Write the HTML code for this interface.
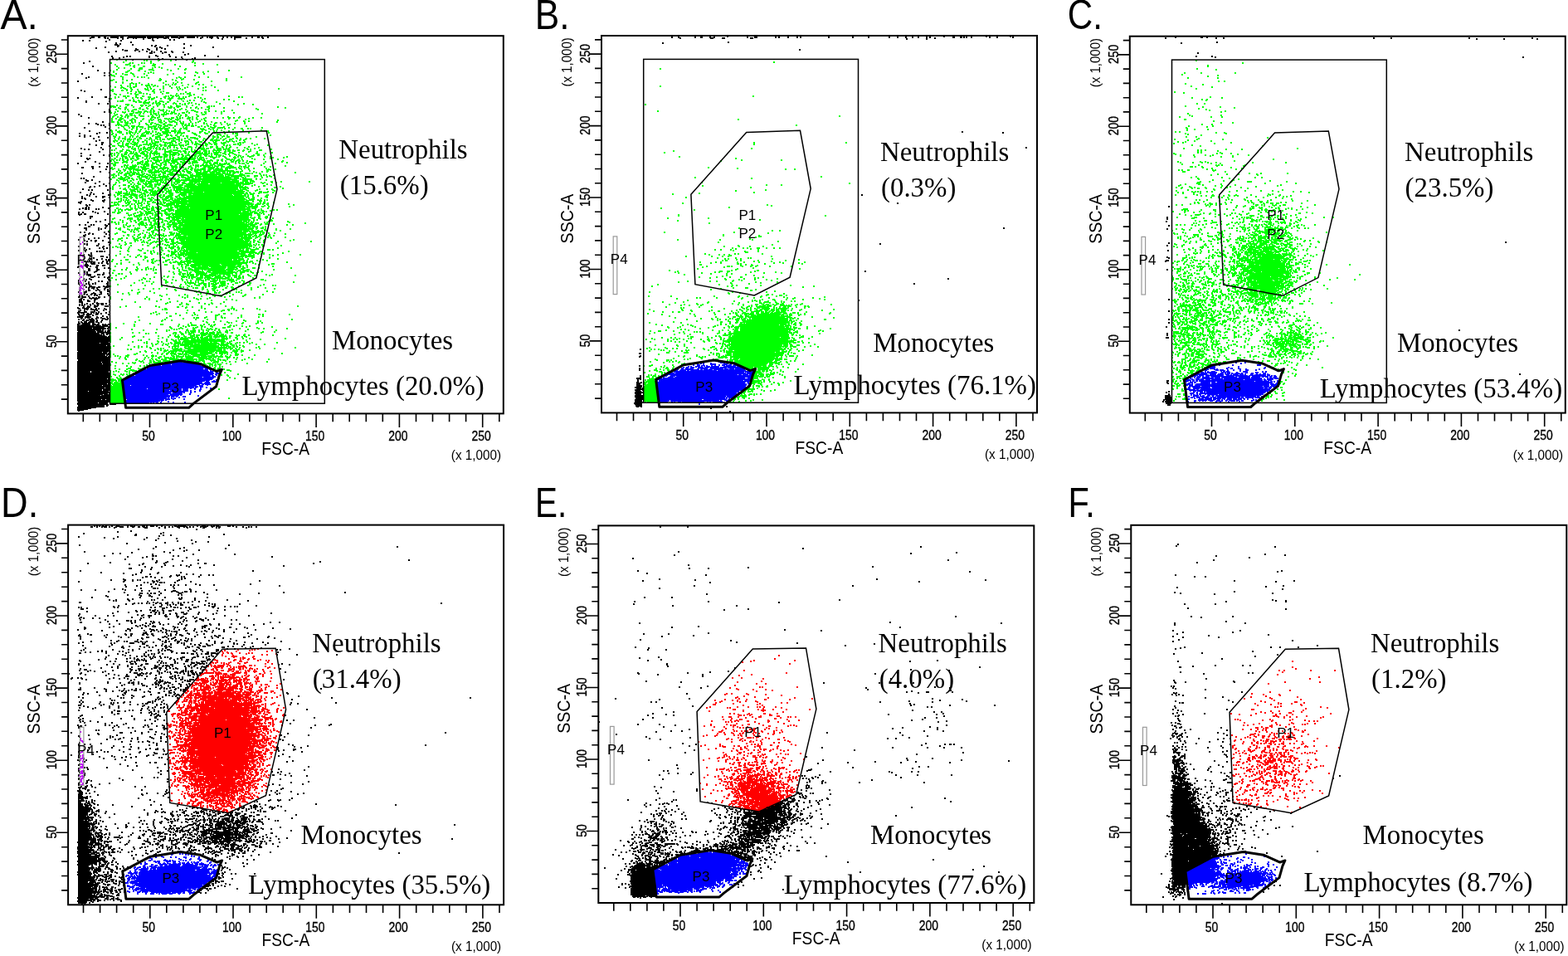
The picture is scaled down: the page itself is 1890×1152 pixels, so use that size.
<!DOCTYPE html><html><head><meta charset="utf-8"><title>Flow cytometry</title><style>html,body{margin:0;padding:0;background:#fff}svg{display:block}</style></head><body>
<svg width="1890" height="1152" viewBox="0 0 1890 1152">
<rect width="1890" height="1152" fill="#fff"/>
<g id="panelA">
<g fill="none">
<path stroke="#000" stroke-width="1" d="M133 44.5h10m11 0h22m1 0h21m8 0h9m10 0h10m47 0h9m-158 1h10m10 0h23m1 0h27m2 0h16m3 0h10m47 0h9m-184 300h8m9 0h8m-25 14h13m-21 12h8m2 2h9m-25 3h12m-1 2h7m-18 3h8m1 0h8m-17 1h7m2 0h8m13 2h8m-27 1h10m-7 2h7m-8 1h8m-16 1h11m-10 1h10m-12 1h12m2 0h9m3 0h9m-39 1h21m1 0h7m1 0h7m-37 1h40m-40 1h33m-33 1h18m1 0h16m-35 1h35m-35 1h29m-29 1h22m1 0h9m-31 1h22m1 0h8m-32 1h23m1 0h16m-40 1h27m-27 1h27m-27 1h30m-30 1h34m-34 1h36m-36 1h40m-40 1h40m-40 1h40m-40 1h40m-40 1h40m-40 1h40m-40 1h38m-38 1h27m1 0h11m-39 1h40m-40 1h40m-40 1h35m-35 1h39m-39 1h40m-40 1h40m-40 1h40m-40 1h40m-40 1h40m-39 1h39m-40 1h30m-30 1h36m-36 1h40m-40 1h34m-34 1h34m-34 1h36m-36 1h40m-40 1h40m-40 1h40m-39 1h39m-39 1h38m-39 1h40m-40 1h29m1 0h10m-40 1h39m-39 1h30m1 0h9m-40 1h40m-40 1h40m-40 1h40m-40 1h40m-40 1h40m-40 1h40m-40 1h39m-39 1h39m-39 1h16m1 0h21m-38 1h16m1 0h21m-38 1h39m-39 1h40m-40 1h40m-40 1h39m-39 1h39m-39 1h40m-40 1h40m-40 1h36m-36 1h39m-39 1h40m-40 1h40m-40 1h40m-40 1h39m-39 1h36m-36 1h40m-40 1h30m1 0h9m-40 1h40m-40 1h40m-40 1h33m-33 1h40m-40 1h30m1 0h9m-40 1h30m1 0h9m-40 1h13m1 0h24m-38 1h40m-40 1h40m-40 1h37m-37 1h31m1 0h8m-40 1h28m1 0h11m-40 1h40m-40 1h40m-40 1h39m-39 1h39m-39 1h29m-29 1h40m-40 1h40m-39 1h39m-40 1h25m1 0h11m-37 1h37m2 0h8m-47 1h38m1 0h8m-46 1h32m-32 1h32m-33 1h33m-33 1h23m-23 1h17m-17 1h13m-13 1h8"/>
<path stroke="#000" stroke-linecap="square" stroke-width="2" d="M111 45h0m2 0h0m6 0h0m1 0h0m6 0h0m1 0h0m19 0h0m1 0h0m1 0h0m52 0h0m1 0h0m2 0h0m14 0h0m2 0h0m1 0h0m1 0h0m17 0h0m6 0h0m6 0h0m3 0h0m1 0h0m2 0h0m6 0h0m7 0h0m5 0h0m5 0h0m25 0h0m7 0h0m1 0h0m4 0h0m7 0h0m-214 1h0m18 0h0m3 0h0m12 0h0m12 0h0m7 0h0m3 0h0m15 0h0m2 0h0m3 0h0m6 0h0m8 0h0m2 0h0m3 0h0m13 0h0m26 0h0m13 0h0m8 0h0m34 0h0m20 0h0m-169 1h0m25 0h0m95 0h0m15 0h0m-151 1h0m52 0h0m21 0h0m5 0h0m-110 1h0m8 0h0m38 0h0m39 0h0m-57 1h0m30 1h0m-18 1h0m5 1h0m77 0h0m-83 1h0m2 0h0m19 0h0m-17 1h0m40 0h0m5 0h0m14 0h0m28 0h0m-88 1h0m45 0h0m-60 1h0m66 0h0m64 0h0m-141 1h0m73 0h0m6 0h0m27 0h0m-58 1h0m14 0h0m21 0h0m-51 1h0m16 0h0m2 0h0m6 0h0m8 0h0m9 0h0m-38 1h0m2 0h0m10 0h0m-23 1h0m28 0h0m9 0h0m6 0h0m11 0h0m13 0h0m-76 1h0m55 0h0m13 0h0m1 0h0m8 0h0m13 0h0m-40 1h0m2 0h0m13 0h0m31 1h0m-23 1h0m19 0h0m-35 1h0m59 0h0m-112 1h0m18 0h0m4 0h0m23 0h0m10 0h0m15 0h0m58 0h0m-114 1h0m31 0h0m32 0h0m7 0h0m-83 1h0m8 0h0m91 0h0m-44 1h0m5 0h0m24 0h0m12 0h0m-72 1h0m32 0h0m20 0h0m13 0h0m-117 2h0m-7 2h0m11 4h0m6 5h0m8 3h0m6 0h0m-33 1h0m27 2h0m6 0h0m-25 2h0m-3 1h0m-10 4h0m28 10h0m-24 1h0m4 1h0m9 7h0m16 0h0m1 0h0m-34 1h0m38 1h0m-28 3h0m28 0h0m-28 1h0m15 2h0m11 0h0m2 7h0m0 2h0m-6 1h0m6 0h0m-37 3h0m3 2h0m9 2h0m17 5h0m-17 2h0m9 0h0m16 0h0m-14 1h0m4 1h0m3 0h0m7 0h0m-5 2h0m-25 1h0m30 1h0m-24 3h0m12 2h0m9 0h0m-33 1h0m21 0h0m-15 2h0m-6 1h0m13 0h0m-7 1h0m17 0h0m11 1h0m-17 1h0m7 2h0m-4 1h0m7 2h0m1 0h0m-16 2h0m15 0h0m-7 1h0m16 1h0m-10 2h0m-24 1h0m4 1h0m5 0h0m17 0h0m-4 3h0m-22 2h0m11 2h0m16 0h0m7 0h0m-34 1h0m34 0h0m-27 3h0m3 0h0m-2 1h0m-3 3h0m12 0h0m-21 2h0m26 0h0m10 0h0m-19 4h0m1 0h0m8 0h0m9 0h0m-30 1h0m1 0h0m12 1h0m16 1h0m-7 3h0m11 1h0m-33 1h0m14 4h0m19 1h0m-34 1h0m3 0h0m3 2h0m7 0h0m-6 1h0m1 0h0m14 1h0m-17 1h0m12 1h0m17 0h0m-7 1h0m372 0h0m-377 2h0m8 0h0m-19 1h0m5 0h0m-6 1h0m-8 2h0m7 1h0m4 0h0m19 0h0m-33 3h0m13 0h0m14 1h0m-15 1h0m4 0h0m-8 1h0m26 0h0m-23 1h0m-9 1h0m17 0h0m8 0h0m2 0h0m-2 1h0m8 0h0m-33 1h0m3 0h0m1 1h0m7 1h0m16 0h0m-14 1h0m12 0h0m-26 1h0m27 0h0m-30 1h0m2 0h0m0 1h0m7 2h0m4 0h0m-3 1h0m-1 2h0m3 0h0m17 0h0m-24 1h0m3 0h0m28 0h0m1 0h0m-36 1h0m7 0h0m1 0h0m3 0h0m9 0h0m3 0h0m-7 3h0m14 0h0m-31 1h0m5 0h0m15 0h0m3 1h0m-23 1h0m3 0h0m4 0h0m1 0h0m27 0h0m-34 1h0m13 2h0m1 0h0m1 0h0m-2 2h0m18 2h0m-11 2h0m5 0h0m-15 1h0m25 2h0m-35 1h0m7 0h0m7 0h0m3 0h0m14 0h0m2 1h0m-22 1h0m1 0h0m20 0h0m-26 2h0m2 0h0m15 0h0m8 0h0m-5 1h0m-18 1h0m15 0h0m12 2h0m-34 1h0m5 0h0m24 0h0m6 0h0m-24 1h0m-1 1h0m5 0h0m16 0h0m-25 1h0m29 0h0m-31 1h0m1 1h0m24 0h0m-12 2h0m5 0h0m12 0h0m1 0h0m-31 1h0m6 0h0m-12 1h0m7 1h0m8 0h0m5 0h0m1 0h0m8 0h0m-19 1h0m10 0h0m16 1h0m-29 2h0m3 0h0m14 0h0m-14 1h0m27 0h0m-15 1h0m1 0h0m-23 1h0m30 0h0m-1 1h0m-23 1h0m1 0h0m18 0h0m9 0h0m-21 1h0m17 0h0m-24 1h0m3 0h0m-9 1h0m8 0h0m0 1h0m14 0h0m3 0h0m1 0h0m2 0h0m3 0h0m-16 2h0m0 1h0m-9 1h0m6 0h0m25 0h0m-24 1h0m14 1h0m2 0h0m5 1h0m-16 1h0m-4 1h0m14 0h0m-6 1h0m11 0h0m3 0h0m-23 1h0m23 0h0m-29 1h0m1 0h0m21 0h0m5 0h0m-25 1h0m10 0h0m-4 1h0m3 0h0m6 0h0m4 0h0m6 0h0m-25 1h0m8 0h0m2 0h0m16 0h0m-27 1h0m2 0h0m-3 1h0m4 0h0m11 0h0m1 0h0m6 0h0m2 0h0m-31 1h0m9 0h0m5 0h0m-15 1h0m11 0h0m11 0h0m1 0h0m9 1h0m5 0h0m-24 1h0m1 0h0m9 0h0m2 1h0m-12 1h0m1 0h0m9 0h0m-15 1h0m14 0h0m-11 1h0m9 0h0m-19 1h0m7 0h0m3 0h0m20 0h0m7 0h0m-30 1h0m23 0h0m-24 1h0m4 0h0m2 0h0m2 0h0m9 0h0m2 0h0m4 0h0m-17 1h0m2 0h0m5 1h0m-4 1h0m2 0h0m7 0h0m7 0h0m5 0h0m-1 1h0m-29 1h0m7 0h0m-7 1h0m3 0h0m6 0h0m21 0h0m-36 1h0m37 0h0m-29 1h0m16 0h0m4 0h0m-28 1h0m12 0h0m23 0h0m-15 1h0m15 0h0m-35 1h0m9 0h0m3 0h0m5 0h0m3 0h0m14 0h0m-33 1h0m12 0h0m22 0h0m-28 1h0m6 0h0m2 1h0m15 0h0m4 0h0m2 0h0m-27 1h0m4 0h0m3 0h0m2 0h0m1 0h0m5 0h0m1 0h0m7 0h0m2 0h0m1 0h0m-23 1h0m4 0h0m2 0h0m4 0h0m10 0h0m-14 1h0m13 0h0m-19 1h0m11 0h0m8 0h0m4 0h0m-34 1h0m11 0h0m1 0h0m8 0h0m4 0h0m-16 1h0m26 0h0m2 0h0m-37 1h0m7 0h0m2 0h0m17 0h0m1 0h0m-9 1h0m-11 1h0m9 0h0m4 0h0m7 0h0m8 0h0m-34 1h0m5 0h0m4 0h0m5 0h0m4 0h0m1 0h0m5 0h0m-21 1h0m15 0h0m3 0h0m14 0h0m-35 1h0m11 0h0m-12 1h0m1 0h0m3 0h0m1 0h0m2 0h0m1 0h0m16 0h0m1 0h0m6 0h0m-27 1h0m9 0h0m4 0h0m1 0h0m3 0h0m3 0h0m-21 1h0m12 0h0m5 0h0m1 0h0m1 0h0m-21 1h0m5 0h0m13 0h0m1 0h0m-19 1h0m2 0h0m8 0h0m26 0h0m-26 1h0m2 0h0m6 0h0m-18 1h0m2 0h0m1 0h0m15 0h0m18 0h0m-33 1h0m18 0h0m-18 1h0m6 0h0m7 0h0m5 0h0m1 0h0m1 0h0m3 0h0m2 0h0m4 0h0m-32 1h0m6 0h0m7 0h0m14 0h0m1 0h0m8 0h0m-36 1h0m3 0h0m10 0h0m5 0h0m4 0h0m-17 1h0m5 0h0m9 0h0m2 0h0m10 0h0m1 0h0m2 0h0m-24 1h0m2 0h0m6 0h0m1 0h0m-21 1h0m6 0h0m1 0h0m4 0h0m-10 1h0m1 0h0m7 0h0m3 0h0m4 0h0m6 0h0m3 0h0m7 0h0m-24 1h0m3 0h0m5 0h0m2 0h0m3 0h0m13 0h0m-31 1h0m17 0h0m3 0h0m8 0h0m-30 1h0m7 0h0m12 0h0m-19 1h0m1 0h0m6 0h0m2 0h0m6 0h0m2 0h0m7 0h0m13 0h0m-38 1h0m4 0h0m2 0h0m1 0h0m12 0h0m3 0h0m12 0h0m-33 1h0m11 0h0m4 0h0m8 0h0m4 0h0m-27 1h0m6 0h0m4 0h0m2 0h0m2 0h0m7 0h0m1 0h0m14 0h0m-35 1h0m3 0h0m6 0h0m7 0h0m-14 1h0m2 0h0m5 0h0m1 0h0m1 0h0m17 0h0m-7 1h0m12 0h0m-30 1h0m4 0h0m3 0h0m1 0h0m11 0h0m4 0h0m-24 1h0m13 0h0m5 0h0m8 0h0m2 0h0m4 0h0m-35 1h0m6 0h0m7 0h0m2 0h0m1 0h0m1 0h0m16 0h0m1 0h0m-29 1h0m1 0h0m4 0h0m1 0h0m5 0h0m2 0h0m4 0h0m6 0h0m-19 1h0m5 0h0m-14 1h0m3 0h0m4 0h0m14 0h0m1 0h0m5 0h0m-27 1h0m4 0h0m3 0h0m2 0h0m15 0h0m-23 1h0m16 0h0m1 0h0m6 0h0m-25 1h0m1 0h0m17 0h0m1 0h0m1 0h0m1 0h0m3 0h0m6 0h0m3 0h0m4 0h0m-36 1h0m36 2h0m1 0h0m-1 1h0m-1 1h0m-6 1h0m0 1h0m7 0h0m-4 1h0m3 0h0m-3 1h0m4 0h0m-9 1h0m1 0h0m2 0h0m3 0h0m2 0h0m1 0h0m1 0h0m-9 1h0m2 0h0m5 0h0m1 0h0m-2 1h0m-4 1h0m7 1h0m-1 1h0m1 0h0m-1 10h0m1 0h0m-2 1h0m-4 7h0m1 0h0m2 0h0m-4 1h0m7 0h0m-1 1h0m1 0h0m-3 1h0m1 0h0m-1 1h0m3 0h0m0 1h0m-1 1h0m1 0h0m-1 27h0m0 5h0m1 1h0m-4 4h0m1 0h0m2 0h0m1 0h0m-4 1h0m2 0h0m2 0h0m0 6h0m0 1h0m-8 6h0m1 0h0m1 0h0m4 0h0m1 0h0m-7 1h0m2 0h0m3 0h0m2 0h0m1 0h0m5 4h0m-7 2h0m-1 1h0m-34 6h0"/>
<path stroke="#00ff00" stroke-width="1" d="M179 84.5h7m16 34h7m5 0h9m-51 5h9m-9 1h8m7 0h7m-62 4h8m51 4h7m-35 3h8m23 2h10m-10 1h7m-34 1h7m24 4h10m3 0h7m-39 1h7m17 2h9m-73 4h8m41 0h7m6 0h7m-59 1h7m66 0h7m-65 1h9m5 0h11m7 0h7m50 1h7m2 0h9m-79 1h13m57 0h7m-27 2h7m-43 1h7m-18 1h9m2 0h7m-40 1h8m14 0h11m-10 1h7m10 0h10m-27 1h7m-34 2h7m-7 1h7m11 1h7m35 0h7m-32 1h8m17 0h10m-38 1h16m41 1h7m-12 1h12m-82 3h8m7 0h11m57 0h7m-116 1h9m13 0h9m46 0h8m-83 1h7m6 0h11m21 0h10m1 0h7m17 0h7m-104 1h7m35 0h7m11 0h12m24 3h9m13 0h7m-95 1h7m59 0h9m22 0h8m-102 1h7m60 0h7m-41 1h10m38 0h11m-96 1h7m20 0h10m22 0h12m-44 1h17m16 0h11m15 0h10m-87 1h13m15 0h8m20 0h9m12 0h7m-81 1h10m11 0h9m22 0h18m-57 1h7m1 0h9m45 0h9m-104 1h7m60 0h7m-91 1h7m10 0h7m17 0h9m102 0h8m-122 1h12m57 0h9m-80 1h9m23 0h22m-25 1h25m-52 1h8m15 0h28m3 0h9m26 0h10m-98 1h10m2 0h8m1 0h8m35 0h8m-60 1h7m2 0h8m7 0h8m2 0h7m-91 1h7m11 0h8m34 0h8m2 0h10m4 0h8m6 0h9m-51 1h8m20 0h8m-74 1h7m1 0h7m84 0h13m-107 1h10m82 0h10m-31 1h16m5 0h7m-113 1h9m7 0h8m2 0h8m16 0h8m31 0h9m20 0h8m-126 1h8m5 0h7m6 0h8m16 0h8m36 0h9m13 0h13m8 0h7m-149 1h12m7 0h10m12 0h12m46 0h9m12 0h14m-131 1h13m4 0h9m10 0h10m41 0h7m3 0h7m1 0h10m-109 1h10m34 0h9m21 0h14m9 0h12m-106 1h9m36 0h9m17 0h9m14 0h25m-97 1h11m1 0h9m1 0h11m27 0h9m1 0h7m1 0h9m1 0h10m-104 1h14m9 0h7m26 0h8m1 0h7m1 0h14m14 0h8m-137 1h17m11 0h10m47 0h14m45 0h7m-152 1h7m45 0h13m21 0h42m17 0h7m-147 1h8m1 0h10m27 0h25m10 0h33m2 0h11m6 0h7m-81 1h13m2 0h13m1 0h19m1 0h7m4 0h22m-126 1h9m12 0h13m25 0h41m8 0h14m-142 1h7m13 0h9m1 0h24m22 0h7m2 0h8m1 0h44m-146 1h10m30 0h9m4 0h7m2 0h8m7 0h15m10 0h35m-137 1h9m48 0h13m19 0h57m4 0h12m-160 1h10m14 0h7m6 0h16m12 0h8m1 0h68m6 0h12m-136 1h7m10 0h12m14 0h31m1 0h35m1 0h9m4 0h7m-123 1h15m20 0h7m10 0h60m4 0h7m-121 1h8m23 0h8m11 0h13m1 0h46m-93 1h7m40 0h24m1 0h27m1 0h10m-133 1h11m3 0h8m25 0h17m1 0h14m2 0h30m1 0h21m-119 1h8m30 0h11m2 0h54m1 0h9m-79 1h15m1 0h53m-116 1h9m23 0h12m3 0h71m-116 1h7m24 0h13m1 0h65m1 0h11m-105 1h9m5 0h15m2 0h62m1 0h12m-110 1h13m9 0h8m1 0h7m1 0h58m-131 1h11m45 0h76m1 0h9m-109 1h7m13 0h76m1 0h7m-136 1h7m17 0h17m2 0h7m14 0h74m-114 1h9m10 0h7m4 0h21m1 0h12m1 0h49m22 0h7m-185 1h8m36 0h7m27 0h77m-146 1h9m26 0h7m26 0h9m2 0h72m-149 1h16m15 0h9m25 0h10m7 0h48m1 0h11m-144 1h7m2 0h9m15 0h7m14 0h7m9 0h7m2 0h54m1 0h15m-97 1h8m16 0h73m-98 1h9m13 0h73m-82 1h83m-100 1h8m10 0h83m-110 1h7m17 0h15m2 0h71m2 0h7m-111 1h9m2 0h10m1 0h77m1 0h10m-106 1h7m1 0h92m-95 1h96m-99 1h24m1 0h77m-116 1h8m4 0h11m1 0h94m-169 1h7m56 0h11m7 0h88m1 0h7m-181 1h8m54 0h13m1 0h15m1 0h72m-100 1h7m6 0h88m1 0h12m-140 1h7m32 0h101m-140 1h7m38 0h12m1 0h67m7 0h7m-122 1h7m5 0h8m5 0h89m-152 1h10m38 0h12m3 0h89m-100 1h8m1 0h85m-85 1h80m1 0h11m-128 1h7m4 0h7m18 0h80m1 0h8m1 0h9m-135 1h10m26 0h94m-130 1h10m13 0h106m2 0h7m-114 1h7m1 0h81m1 0h15m-140 1h8m39 0h93m-143 1h10m37 0h92m-98 1h98m-119 1h7m18 0h12m1 0h81m1 0h7m-155 1h7m52 0h10m1 0h77m-93 1h9m2 0h84m-97 1h97m-83 1h73m-88 1h7m2 0h88m-87 1h81m-129 1h8m11 0h8m14 0h14m1 0h76m-132 1h8m11 0h8m8 0h13m2 0h94m-140 1h8m2 0h7m28 0h85m1 0h7m-93 1h93m-100 1h10m2 0h82m2 0h7m-99 1h86m1 0h7m-144 1h7m43 0h94m-97 1h96m-121 1h9m23 0h85m-88 1h79m1 0h9m1 0h14m-102 1h84m1 0h19m-104 1h82m7 0h8m-94 1h79m-85 1h94m-117 1h9m5 0h7m1 0h7m3 0h83m-110 1h7m10 0h14m1 0h67m-79 1h89m-91 1h77m1 0h14m-92 1h92m-88 1h77m1 0h8m-86 1h7m1 0h70m-77 1h86m-120 1h8m27 0h82m-93 1h92m-94 1h7m2 0h89m-85 1h85m-105 1h7m15 0h84m-85 1h85m-85 1h80m-96 1h7m8 0h83m-77 1h71m1 0h7m-79 1h67m10 0h11m-95 1h77m-74 1h7m1 0h58m2 0h12m-94 1h8m6 0h88m-84 1h13m1 0h51m1 0h20m-93 1h79m-90 1h7m1 0h82m-82 1h8m1 0h65m2 0h8m1 0h8m-81 1h81m-82 1h69m1 0h12m-84 1h67m-67 1h71m-66 1h52m7 0h7m-62 1h48m1 0h14m-74 1h69m-82 1h7m2 0h73m-77 1h10m9 0h67m-65 1h64m-84 1h7m9 0h35m1 0h26m-63 1h37m1 0h18m-56 1h13m1 0h41m-54 1h7m1 0h13m1 0h21m1 0h17m-60 1h21m2 0h19m1 0h12m-52 1h38m2 0h9m-49 1h37m1 0h15m-68 1h7m1 0h13m10 0h32m10 0h9m-70 1h11m7 0h24m1 0h7m11 0h8m-66 1h12m10 0h28m5 0h7m-61 1h12m4 0h35m-50 1h14m4 0h27m-56 1h9m2 0h13m3 0h11m1 0h14m-37 1h20m-36 1h9m12 0h21m-49 1h8m4 0h8m9 0h7m5 0h8m-30 1h8m1 0h9m3 0h11m-33 1h9m4 0h28m-41 1h7m31 0h8m-46 1h10m10 0h7m10 0h9m-29 1h9m14 0h7m-30 1h8m3 0h8m-47 1h9m31 0h7m-46 1h10m3 0h10m16 0h7m-18 1h8m-28 1h7m23 0h8m-8 1h8m-17 1h7m-32 46h7m-7 1h7m12 4h8m-28 2h7m-7 1h7m16 1h7m-32 1h7m7 0h10m1 0h7m-18 1h18m-17 1h8m6 0h14m-6 1h9m-63 1h7m31 0h8m1 0h17m-48 1h7m24 0h8m-48 1h19m5 0h10m16 0h8m-58 1h10m15 0h18m6 0h9m-60 1h13m2 0h41m-50 1h50m-51 1h31m1 0h20m-62 1h8m1 0h33m-42 1h8m4 0h15m1 0h26m9 0h7m-71 1h24m1 0h7m1 0h23m1 0h10m-59 1h44m2 0h12m-66 1h7m1 0h11m1 0h35m1 0h11m-69 1h9m6 0h42m8 0h7m-53 1h48m-52 1h8m3 0h48m-74 1h13m3 0h38m-53 1h12m6 0h42m-63 1h15m1 0h47m12 0h7m-84 1h11m1 0h36m1 0h7m1 0h14m6 0h7m-64 1h35m6 0h11m-70 1h7m11 0h15m3 0h15m8 0h11m-70 1h8m1 0h12m1 0h32m-38 1h7m2 0h21m-19 1h17m1 0h9m-47 1h10m1 0h18m1 0h27m-57 1h9m2 0h11m3 0h13m-52 1h13m13 0h9m6 0h19m-55 1h13m1 0h21m1 0h15m-60 1h7m3 0h34m1 0h7m5 0h9m-64 1h9m3 0h16m1 0h9m5 0h8m6 0h7m-64 1h9m1 0h10m9 0h17m15 0h7m-80 1h13m6 0h9m13 0h15m16 0h8m-79 1h12m33 0h10m1 1h8m1 0h7m-77 1h7m-7 1h7m-21 4h9m-20 2h10m-6 1h11m-38 10h8m2 0h8m-18 1h9m-4 3h12m-17 1h17m-14 1h14m-13 1h12m-16 1h17m-17 1h17m-17 1h17m-17 1h17m-17 1h18m-18 1h18m-18 1h18m-18 1h18m-18 1h18m-18 1h18m-18 1h19m-19 1h19m-19 1h18m-18 1h19m-19 1h19m-19 1h19m-19 1h19m-19 1h19m-19 1h18m-18 1h18m-18 1h18"/>
<path stroke="#00ff00" stroke-linecap="square" stroke-width="2" d="M141 72h0m92 0h0m-81 1h0m22 0h0m3 0h0m14 0h0m15 0h0m-24 1h0m51 0h0m-84 1h0m83 0h0m-98 1h0m23 0h0m3 0h0m11 0h0m3 0h0m8 0h0m53 0h0m-79 1h0m29 0h0m11 0h0m49 0h0m-106 1h0m13 0h0m2 0h0m13 0h0m20 0h0m24 0h0m51 0h0m-105 1h0m5 0h0m22 0h0m2 0h0m49 0h0m-94 1h0m20 0h0m12 0h0m1 0h0m43 0h0m-55 1h0m25 0h0m5 0h0m-49 1h0m7 0h0m19 0h0m2 0h0m13 0h0m11 0h0m-37 1h0m10 0h0m1 0h0m2 0h0m13 0h0m31 0h0m9 0h0m-83 1h0m39 0h0m2 0h0m1 0h0m19 0h0m21 0h0m-90 1h0m23 0h0m11 0h0m1 0h0m17 0h0m21 0h0m70 0h0m-139 1h0m17 0h0m21 0h0m76 0h0m-114 1h0m15 0h0m1 0h0m29 0h0m54 0h0m9 0h0m18 0h0m-105 1h0m21 0h0m6 0h0m38 0h0m15 0h0m-98 1h0m8 0h0m12 0h0m14 0h0m35 0h0m37 0h0m-112 1h0m17 0h0m2 0h0m8 0h0m41 0h0m-67 1h0m2 0h0m40 0h0m58 0h0m-97 1h0m8 0h0m16 0h0m-14 1h0m18 0h0m5 0h0m3 0h0m42 0h0m7 0h0m17 0h0m11 0h0m40 0h0m-112 1h0m34 0h0m5 0h0m-70 1h0m45 0h0m28 0h0m52 0h0m-136 1h0m11 0h0m11 0h0m34 0h0m1 0h0m14 0h0m11 0h0m15 0h0m-100 1h0m1 0h0m18 0h0m39 0h0m1 0h0m19 0h0m61 0h0m-73 1h0m55 0h0m-115 1h0m8 0h0m66 0h0m25 0h0m-91 1h0m11 0h0m9 0h0m29 0h0m12 0h0m10 0h0m18 0h0m-80 1h0m4 0h0m3 0h0m15 0h0m33 0h0m24 0h0m-72 1h0m7 0h0m12 0h0m17 0h0m3 0h0m5 0h0m3 0h0m16 0h0m13 0h0m5 0h0m-99 1h0m11 0h0m19 0h0m2 0h0m2 0h0m7 0h0m33 0h0m35 0h0m-122 1h0m21 0h0m10 0h0m13 0h0m8 0h0m5 0h0m7 0h0m8 0h0m27 0h0m-93 1h0m8 0h0m10 0h0m4 0h0m1 0h0m19 0h0m16 0h0m16 0h0m3 0h0m10 0h0m22 0h0m11 0h0m-113 1h0m3 0h0m9 0h0m20 0h0m29 0h0m16 0h0m22 0h0m-94 1h0m7 0h0m17 0h0m7 0h0m15 0h0m17 0h0m3 0h0m22 0h0m97 0h0m-200 1h0m17 0h0m6 0h0m7 0h0m10 0h0m2 0h0m8 0h0m7 0h0m27 0h0m-86 1h0m13 0h0m1 0h0m5 0h0m26 0h0m6 0h0m30 0h0m30 0h0m3 0h0m15 0h0m-127 1h0m22 0h0m9 0h0m17 0h0m13 0h0m-33 1h0m5 0h0m17 0h0m8 0h0m30 0h0m-70 1h0m14 0h0m2 0h0m16 0h0m15 0h0m2 0h0m26 0h0m-91 1h0m20 0h0m5 0h0m10 0h0m4 0h0m19 0h0m17 0h0m5 0h0m3 0h0m5 0h0m2 0h0m-88 1h0m5 0h0m19 0h0m1 0h0m1 0h0m15 0h0m48 0h0m5 0h0m10 0h0m-111 1h0m31 0h0m42 0h0m6 0h0m3 0h0m15 0h0m-81 1h0m2 0h0m3 0h0m1 0h0m9 0h0m8 0h0m1 0h0m27 0h0m3 0h0m5 0h0m1 0h0m4 0h0m15 0h0m48 0h0m-137 1h0m4 0h0m21 0h0m15 0h0m2 0h0m8 0h0m9 0h0m18 0h0m5 0h0m3 0h0m15 0h0m49 0h0m4 0h0m-153 1h0m13 0h0m8 0h0m6 0h0m4 0h0m16 0h0m13 0h0m5 0h0m3 0h0m1 0h0m13 0h0m14 0h0m7 0h0m-108 1h0m37 0h0m9 0h0m3 0h0m2 0h0m9 0h0m9 0h0m2 0h0m1 0h0m9 0h0m2 0h0m2 0h0m3 0h0m25 0h0m-86 1h0m18 0h0m4 0h0m36 0h0m25 0h0m26 0h0m6 0h0m-128 1h0m8 0h0m1 0h0m4 0h0m6 0h0m9 0h0m29 0h0m24 0h0m5 0h0m-92 1h0m3 0h0m1 0h0m2 0h0m13 0h0m1 0h0m6 0h0m7 0h0m13 0h0m5 0h0m2 0h0m19 0h0m7 0h0m5 0h0m17 0h0m39 0h0m-118 1h0m4 0h0m2 0h0m4 0h0m6 0h0m17 0h0m5 0h0m1 0h0m43 0h0m15 0h0m-76 1h0m3 0h0m3 0h0m1 0h0m18 0h0m18 0h0m3 0h0m17 0h0m-74 1h0m5 0h0m5 0h0m5 0h0m4 0h0m7 0h0m9 0h0m3 0h0m5 0h0m6 0h0m4 0h0m9 0h0m29 0h0m29 0h0m-142 1h0m1 0h0m2 0h0m34 0h0m3 0h0m5 0h0m23 0h0m3 0h0m17 0h0m47 0h0m18 0h0m-164 1h0m13 0h0m5 0h0m11 0h0m2 0h0m4 0h0m5 0h0m9 0h0m8 0h0m15 0h0m19 0h0m-99 1h0m2 0h0m2 0h0m8 0h0m26 0h0m8 0h0m11 0h0m16 0h0m7 0h0m2 0h0m2 0h0m8 0h0m27 0h0m3 0h0m3 0h0m-124 1h0m3 0h0m1 0h0m1 0h0m13 0h0m9 0h0m24 0h0m13 0h0m5 0h0m4 0h0m7 0h0m1 0h0m10 0h0m12 0h0m13 0h0m2 0h0m83 0h0m-192 1h0m8 0h0m1 0h0m17 0h0m8 0h0m27 0h0m2 0h0m4 0h0m20 0h0m6 0h0m7 0h0m27 0h0m74 0h0m-199 1h0m23 0h0m1 0h0m9 0h0m5 0h0m1 0h0m35 0h0m20 0h0m13 0h0m57 0h0m-169 1h0m11 0h0m3 0h0m8 0h0m2 0h0m8 0h0m1 0h0m19 0h0m5 0h0m14 0h0m6 0h0m7 0h0m24 0h0m3 0h0m60 0h0m-151 1h0m22 0h0m3 0h0m9 0h0m2 0h0m5 0h0m13 0h0m17 0h0m2 0h0m47 0h0m-147 1h0m9 0h0m13 0h0m4 0h0m8 0h0m8 0h0m1 0h0m10 0h0m11 0h0m7 0h0m6 0h0m16 0h0m9 0h0m17 0h0m8 0h0m10 0h0m-131 1h0m9 0h0m3 0h0m10 0h0m7 0h0m2 0h0m4 0h0m4 0h0m3 0h0m1 0h0m3 0h0m6 0h0m9 0h0m7 0h0m3 0h0m15 0h0m12 0h0m1 0h0m9 0h0m1 0h0m19 0h0m-133 1h0m16 0h0m11 0h0m3 0h0m2 0h0m16 0h0m3 0h0m13 0h0m10 0h0m12 0h0m2 0h0m6 0h0m15 0h0m39 0h0m-144 1h0m19 0h0m2 0h0m10 0h0m4 0h0m13 0h0m2 0h0m3 0h0m10 0h0m1 0h0m1 0h0m3 0h0m1 0h0m4 0h0m1 0h0m4 0h0m32 0h0m19 0h0m49 0h0m-175 1h0m12 0h0m4 0h0m11 0h0m14 0h0m6 0h0m36 0h0m13 0h0m7 0h0m2 0h0m-107 1h0m7 0h0m6 0h0m6 0h0m1 0h0m3 0h0m6 0h0m16 0h0m5 0h0m3 0h0m23 0h0m3 0h0m7 0h0m-88 1h0m10 0h0m7 0h0m1 0h0m8 0h0m7 0h0m1 0h0m2 0h0m6 0h0m18 0h0m27 0h0m14 0h0m1 0h0m-103 1h0m6 0h0m9 0h0m12 0h0m20 0h0m2 0h0m7 0h0m21 0h0m4 0h0m10 0h0m5 0h0m43 0h0m14 0h0m-144 1h0m1 0h0m8 0h0m11 0h0m18 0h0m4 0h0m3 0h0m17 0h0m2 0h0m5 0h0m6 0h0m9 0h0m8 0h0m11 0h0m10 0h0m4 0h0m7 0h0m8 0h0m5 0h0m6 0h0m17 0h0m10 0h0m-180 1h0m5 0h0m8 0h0m12 0h0m13 0h0m9 0h0m17 0h0m2 0h0m3 0h0m3 0h0m10 0h0m9 0h0m2 0h0m4 0h0m5 0h0m9 0h0m30 0h0m24 0h0m-156 1h0m2 0h0m13 0h0m3 0h0m10 0h0m10 0h0m3 0h0m6 0h0m2 0h0m10 0h0m3 0h0m6 0h0m1 0h0m2 0h0m17 0h0m6 0h0m5 0h0m53 0h0m-161 1h0m8 0h0m2 0h0m5 0h0m7 0h0m1 0h0m1 0h0m4 0h0m17 0h0m3 0h0m8 0h0m3 0h0m20 0h0m15 0h0m18 0h0m39 0h0m49 0h0m-200 1h0m16 0h0m8 0h0m11 0h0m24 0h0m4 0h0m6 0h0m4 0h0m2 0h0m7 0h0m24 0h0m7 0h0m36 0h0m10 0h0m6 0h0m-165 1h0m2 0h0m5 0h0m4 0h0m1 0h0m7 0h0m5 0h0m4 0h0m17 0h0m12 0h0m1 0h0m12 0h0m2 0h0m4 0h0m10 0h0m9 0h0m9 0h0m16 0h0m16 0h0m24 0h0m39 0h0m-192 1h0m1 0h0m8 0h0m2 0h0m7 0h0m8 0h0m15 0h0m1 0h0m10 0h0m1 0h0m5 0h0m13 0h0m5 0h0m18 0h0m10 0h0m14 0h0m1 0h0m5 0h0m-112 1h0m3 0h0m19 0h0m6 0h0m5 0h0m11 0h0m21 0h0m2 0h0m7 0h0m4 0h0m14 0h0m3 0h0m10 0h0m15 0h0m9 0h0m12 0h0m-153 1h0m2 0h0m8 0h0m1 0h0m15 0h0m9 0h0m5 0h0m7 0h0m2 0h0m6 0h0m7 0h0m1 0h0m8 0h0m11 0h0m8 0h0m22 0h0m13 0h0m10 0h0m-137 1h0m3 0h0m3 0h0m4 0h0m2 0h0m1 0h0m26 0h0m13 0h0m2 0h0m5 0h0m3 0h0m3 0h0m2 0h0m13 0h0m3 0h0m4 0h0m1 0h0m8 0h0m14 0h0m8 0h0m17 0h0m-128 1h0m8 0h0m4 0h0m1 0h0m2 0h0m5 0h0m18 0h0m2 0h0m1 0h0m6 0h0m6 0h0m2 0h0m9 0h0m14 0h0m6 0h0m2 0h0m10 0h0m8 0h0m9 0h0m37 0h0m-148 1h0m11 0h0m5 0h0m4 0h0m2 0h0m1 0h0m7 0h0m2 0h0m2 0h0m3 0h0m5 0h0m6 0h0m1 0h0m23 0h0m4 0h0m14 0h0m1 0h0m7 0h0m7 0h0m5 0h0m11 0h0m-127 1h0m13 0h0m4 0h0m1 0h0m11 0h0m7 0h0m8 0h0m6 0h0m4 0h0m7 0h0m5 0h0m15 0h0m32 0h0m2 0h0m18 0h0m7 0h0m33 0h0m-166 1h0m15 0h0m10 0h0m8 0h0m3 0h0m1 0h0m2 0h0m4 0h0m1 0h0m2 0h0m3 0h0m1 0h0m1 0h0m1 0h0m16 0h0m4 0h0m1 0h0m2 0h0m17 0h0m3 0h0m7 0h0m19 0h0m20 0h0m1 0h0m7 0h0m3 0h0m-151 1h0m8 0h0m6 0h0m5 0h0m9 0h0m8 0h0m2 0h0m5 0h0m5 0h0m12 0h0m6 0h0m8 0h0m18 0h0m1 0h0m2 0h0m8 0h0m3 0h0m5 0h0m19 0h0m-147 1h0m6 0h0m13 0h0m41 0h0m6 0h0m2 0h0m1 0h0m45 0h0m19 0h0m26 0h0m22 0h0m-180 1h0m9 0h0m12 0h0m8 0h0m5 0h0m7 0h0m8 0h0m16 0h0m1 0h0m14 0h0m2 0h0m10 0h0m1 0h0m16 0h0m14 0h0m3 0h0m15 0h0m47 0h0m-188 1h0m7 0h0m4 0h0m12 0h0m6 0h0m4 0h0m8 0h0m2 0h0m1 0h0m1 0h0m4 0h0m4 0h0m53 0h0m1 0h0m10 0h0m18 0h0m-126 1h0m2 0h0m7 0h0m3 0h0m4 0h0m3 0h0m11 0h0m3 0h0m14 0h0m14 0h0m6 0h0m3 0h0m1 0h0m1 0h0m2 0h0m3 0h0m1 0h0m10 0h0m9 0h0m6 0h0m12 0h0m22 0h0m19 0h0m24 0h0m-188 1h0m17 0h0m4 0h0m9 0h0m6 0h0m5 0h0m2 0h0m3 0h0m8 0h0m3 0h0m21 0h0m5 0h0m15 0h0m1 0h0m13 0h0m1 0h0m1 0h0m21 0h0m10 0h0m3 0h0m2 0h0m-151 1h0m5 0h0m8 0h0m14 0h0m9 0h0m17 0h0m2 0h0m45 0h0m1 0h0m26 0h0m1 0h0m2 0h0m-125 1h0m18 0h0m15 0h0m2 0h0m10 0h0m8 0h0m2 0h0m6 0h0m2 0h0m3 0h0m6 0h0m1 0h0m5 0h0m19 0h0m29 0h0m8 0h0m12 0h0m40 0h0m-189 1h0m23 0h0m6 0h0m18 0h0m7 0h0m1 0h0m9 0h0m6 0h0m14 0h0m4 0h0m1 0h0m14 0h0m12 0h0m5 0h0m5 0h0m8 0h0m14 0h0m-146 1h0m1 0h0m5 0h0m7 0h0m6 0h0m3 0h0m5 0h0m23 0h0m2 0h0m2 0h0m8 0h0m14 0h0m2 0h0m25 0h0m18 0h0m4 0h0m5 0h0m6 0h0m2 0h0m33 0h0m-165 1h0m24 0h0m1 0h0m12 0h0m8 0h0m4 0h0m16 0h0m2 0h0m15 0h0m31 0h0m5 0h0m1 0h0m22 0h0m-147 1h0m5 0h0m5 0h0m1 0h0m2 0h0m5 0h0m7 0h0m6 0h0m1 0h0m7 0h0m5 0h0m6 0h0m14 0h0m14 0h0m7 0h0m12 0h0m2 0h0m1 0h0m8 0h0m11 0h0m9 0h0m6 0h0m9 0h0m5 0h0m4 0h0m7 0h0m5 0h0m17 0h0m-176 1h0m8 0h0m3 0h0m2 0h0m2 0h0m3 0h0m5 0h0m14 0h0m10 0h0m3 0h0m3 0h0m2 0h0m5 0h0m1 0h0m5 0h0m4 0h0m2 0h0m1 0h0m3 0h0m9 0h0m10 0h0m10 0h0m7 0h0m6 0h0m9 0h0m7 0h0m2 0h0m11 0h0m6 0h0m-157 1h0m18 0h0m4 0h0m5 0h0m1 0h0m8 0h0m8 0h0m3 0h0m23 0h0m10 0h0m11 0h0m15 0h0m9 0h0m2 0h0m13 0h0m20 0h0m5 0h0m-157 1h0m4 0h0m5 0h0m3 0h0m5 0h0m7 0h0m6 0h0m10 0h0m17 0h0m13 0h0m2 0h0m1 0h0m1 0h0m5 0h0m7 0h0m2 0h0m1 0h0m14 0h0m17 0h0m3 0h0m1 0h0m12 0h0m4 0h0m3 0h0m5 0h0m-147 1h0m18 0h0m4 0h0m1 0h0m11 0h0m1 0h0m10 0h0m4 0h0m2 0h0m2 0h0m6 0h0m30 0h0m4 0h0m5 0h0m5 0h0m2 0h0m17 0h0m15 0h0m7 0h0m13 0h0m-151 1h0m4 0h0m15 0h0m3 0h0m11 0h0m7 0h0m4 0h0m2 0h0m9 0h0m2 0h0m3 0h0m2 0h0m1 0h0m5 0h0m6 0h0m6 0h0m3 0h0m5 0h0m15 0h0m5 0h0m6 0h0m2 0h0m7 0h0m3 0h0m2 0h0m17 0h0m1 0h0m3 0h0m-151 1h0m6 0h0m5 0h0m2 0h0m3 0h0m4 0h0m3 0h0m16 0h0m18 0h0m3 0h0m6 0h0m8 0h0m16 0h0m4 0h0m2 0h0m10 0h0m5 0h0m6 0h0m2 0h0m7 0h0m2 0h0m17 0h0m17 0h0m-170 1h0m18 0h0m21 0h0m2 0h0m1 0h0m1 0h0m10 0h0m6 0h0m12 0h0m3 0h0m8 0h0m10 0h0m1 0h0m8 0h0m2 0h0m13 0h0m5 0h0m4 0h0m23 0h0m2 0h0m3 0h0m3 0h0m20 0h0m-167 1h0m5 0h0m4 0h0m2 0h0m8 0h0m7 0h0m1 0h0m9 0h0m7 0h0m2 0h0m2 0h0m5 0h0m3 0h0m2 0h0m17 0h0m2 0h0m2 0h0m3 0h0m18 0h0m1 0h0m2 0h0m3 0h0m13 0h0m9 0h0m4 0h0m3 0h0m12 0h0m18 0h0m16 0h0m-187 1h0m2 0h0m7 0h0m2 0h0m7 0h0m11 0h0m3 0h0m14 0h0m3 0h0m5 0h0m4 0h0m5 0h0m1 0h0m3 0h0m2 0h0m16 0h0m16 0h0m5 0h0m7 0h0m12 0h0m12 0h0m-127 1h0m3 0h0m6 0h0m2 0h0m3 0h0m7 0h0m7 0h0m8 0h0m1 0h0m3 0h0m19 0h0m5 0h0m8 0h0m9 0h0m1 0h0m2 0h0m15 0h0m9 0h0m2 0h0m6 0h0m6 0h0m5 0h0m5 0h0m22 0h0m-167 1h0m22 0h0m12 0h0m6 0h0m6 0h0m2 0h0m8 0h0m3 0h0m5 0h0m5 0h0m3 0h0m5 0h0m3 0h0m18 0h0m5 0h0m4 0h0m2 0h0m12 0h0m7 0h0m1 0h0m7 0h0m8 0h0m9 0h0m9 0h0m17 0h0m-172 1h0m19 0h0m3 0h0m1 0h0m4 0h0m3 0h0m5 0h0m3 0h0m4 0h0m3 0h0m3 0h0m1 0h0m4 0h0m4 0h0m5 0h0m12 0h0m5 0h0m1 0h0m3 0h0m3 0h0m23 0h0m1 0h0m1 0h0m13 0h0m2 0h0m7 0h0m3 0h0m22 0h0m9 0h0m-159 1h0m13 0h0m12 0h0m8 0h0m8 0h0m3 0h0m1 0h0m3 0h0m3 0h0m25 0h0m2 0h0m5 0h0m27 0h0m4 0h0m1 0h0m3 0h0m4 0h0m2 0h0m3 0h0m24 0h0m3 0h0m25 0h0m-192 1h0m3 0h0m15 0h0m1 0h0m1 0h0m8 0h0m5 0h0m1 0h0m1 0h0m9 0h0m1 0h0m19 0h0m7 0h0m3 0h0m2 0h0m2 0h0m22 0h0m11 0h0m2 0h0m11 0h0m3 0h0m3 0h0m1 0h0m6 0h0m3 0h0m2 0h0m4 0h0m6 0h0m1 0h0m6 0h0m19 0h0m2 0h0m-170 1h0m2 0h0m9 0h0m19 0h0m8 0h0m5 0h0m16 0h0m11 0h0m2 0h0m4 0h0m2 0h0m8 0h0m5 0h0m5 0h0m5 0h0m2 0h0m1 0h0m3 0h0m5 0h0m4 0h0m3 0h0m11 0h0m2 0h0m4 0h0m2 0h0m10 0h0m9 0h0m-157 1h0m7 0h0m6 0h0m3 0h0m7 0h0m4 0h0m1 0h0m4 0h0m5 0h0m5 0h0m2 0h0m29 0h0m6 0h0m4 0h0m21 0h0m12 0h0m3 0h0m7 0h0m1 0h0m28 0h0m10 0h0m-169 1h0m10 0h0m2 0h0m8 0h0m3 0h0m7 0h0m1 0h0m6 0h0m4 0h0m4 0h0m37 0h0m21 0h0m3 0h0m5 0h0m14 0h0m11 0h0m1 0h0m2 0h0m8 0h0m40 0h0m-195 1h0m2 0h0m3 0h0m5 0h0m14 0h0m2 0h0m5 0h0m1 0h0m5 0h0m1 0h0m3 0h0m7 0h0m18 0h0m6 0h0m10 0h0m9 0h0m3 0h0m22 0h0m3 0h0m3 0h0m5 0h0m2 0h0m7 0h0m2 0h0m10 0h0m28 0h0m1 0h0m10 0h0m-186 1h0m4 0h0m9 0h0m3 0h0m2 0h0m10 0h0m1 0h0m10 0h0m1 0h0m3 0h0m12 0h0m3 0h0m5 0h0m1 0h0m2 0h0m16 0h0m3 0h0m1 0h0m7 0h0m9 0h0m6 0h0m4 0h0m1 0h0m3 0h0m9 0h0m3 0h0m10 0h0m4 0h0m7 0h0m14 0h0m15 0h0m-174 1h0m4 0h0m13 0h0m9 0h0m2 0h0m10 0h0m1 0h0m4 0h0m5 0h0m6 0h0m8 0h0m2 0h0m3 0h0m5 0h0m5 0h0m11 0h0m2 0h0m5 0h0m1 0h0m7 0h0m1 0h0m5 0h0m2 0h0m6 0h0m6 0h0m3 0h0m2 0h0m19 0h0m3 0h0m18 0h0m5 0h0m1 0h0m6 0h0m-183 1h0m12 0h0m2 0h0m12 0h0m14 0h0m3 0h0m14 0h0m6 0h0m7 0h0m3 0h0m12 0h0m1 0h0m3 0h0m7 0h0m5 0h0m3 0h0m9 0h0m1 0h0m3 0h0m13 0h0m4 0h0m8 0h0m13 0h0m9 0h0m5 0h0m1 0h0m-164 1h0m7 0h0m3 0h0m1 0h0m4 0h0m4 0h0m6 0h0m11 0h0m4 0h0m18 0h0m2 0h0m4 0h0m15 0h0m9 0h0m3 0h0m3 0h0m7 0h0m12 0h0m1 0h0m1 0h0m5 0h0m3 0h0m7 0h0m12 0h0m4 0h0m6 0h0m8 0h0m1 0h0m17 0h0m7 0h0m20 0h0m-195 1h0m1 0h0m1 0h0m7 0h0m5 0h0m7 0h0m5 0h0m17 0h0m4 0h0m7 0h0m4 0h0m6 0h0m4 0h0m4 0h0m2 0h0m4 0h0m9 0h0m3 0h0m2 0h0m2 0h0m12 0h0m2 0h0m13 0h0m10 0h0m2 0h0m7 0h0m38 0h0m13 0h0m-204 1h0m1 0h0m6 0h0m3 0h0m4 0h0m6 0h0m2 0h0m1 0h0m6 0h0m10 0h0m3 0h0m3 0h0m3 0h0m4 0h0m18 0h0m35 0h0m6 0h0m9 0h0m15 0h0m10 0h0m21 0h0m22 0h0m-191 1h0m19 0h0m4 0h0m8 0h0m9 0h0m10 0h0m5 0h0m8 0h0m3 0h0m1 0h0m3 0h0m4 0h0m30 0h0m2 0h0m2 0h0m3 0h0m22 0h0m6 0h0m2 0h0m4 0h0m8 0h0m4 0h0m15 0h0m11 0h0m17 0h0m-198 1h0m4 0h0m3 0h0m4 0h0m1 0h0m5 0h0m9 0h0m1 0h0m14 0h0m16 0h0m7 0h0m2 0h0m1 0h0m17 0h0m1 0h0m12 0h0m6 0h0m4 0h0m1 0h0m1 0h0m8 0h0m1 0h0m7 0h0m1 0h0m4 0h0m11 0h0m1 0h0m3 0h0m5 0h0m-153 1h0m19 0h0m7 0h0m12 0h0m7 0h0m3 0h0m6 0h0m1 0h0m1 0h0m1 0h0m1 0h0m35 0h0m1 0h0m7 0h0m2 0h0m9 0h0m1 0h0m3 0h0m2 0h0m4 0h0m6 0h0m6 0h0m4 0h0m13 0h0m3 0h0m1 0h0m4 0h0m5 0h0m43 0h0m-203 1h0m11 0h0m2 0h0m19 0h0m6 0h0m2 0h0m11 0h0m3 0h0m6 0h0m1 0h0m4 0h0m15 0h0m1 0h0m32 0h0m2 0h0m9 0h0m17 0h0m1 0h0m1 0h0m3 0h0m17 0h0m1 0h0m2 0h0m16 0h0m20 0h0m-200 1h0m2 0h0m6 0h0m5 0h0m6 0h0m7 0h0m2 0h0m4 0h0m4 0h0m2 0h0m6 0h0m4 0h0m8 0h0m4 0h0m4 0h0m10 0h0m6 0h0m2 0h0m1 0h0m6 0h0m17 0h0m2 0h0m2 0h0m9 0h0m1 0h0m1 0h0m12 0h0m15 0h0m9 0h0m7 0h0m42 0h0m-211 1h0m4 0h0m28 0h0m2 0h0m6 0h0m11 0h0m8 0h0m6 0h0m6 0h0m4 0h0m5 0h0m5 0h0m1 0h0m2 0h0m5 0h0m1 0h0m3 0h0m17 0h0m4 0h0m1 0h0m4 0h0m2 0h0m2 0h0m3 0h0m6 0h0m1 0h0m1 0h0m3 0h0m8 0h0m5 0h0m3 0h0m2 0h0m5 0h0m19 0h0m14 0h0m-195 1h0m29 0h0m18 0h0m5 0h0m9 0h0m16 0h0m3 0h0m28 0h0m9 0h0m4 0h0m17 0h0m-138 1h0m2 0h0m11 0h0m1 0h0m3 0h0m6 0h0m3 0h0m10 0h0m10 0h0m1 0h0m7 0h0m3 0h0m5 0h0m1 0h0m6 0h0m6 0h0m8 0h0m13 0h0m3 0h0m2 0h0m1 0h0m5 0h0m4 0h0m2 0h0m5 0h0m1 0h0m21 0h0m19 0h0m19 0h0m-177 1h0m15 0h0m8 0h0m3 0h0m10 0h0m3 0h0m1 0h0m1 0h0m14 0h0m15 0h0m3 0h0m6 0h0m13 0h0m8 0h0m4 0h0m17 0h0m1 0h0m3 0h0m4 0h0m1 0h0m11 0h0m10 0h0m7 0h0m4 0h0m44 0h0m-197 1h0m3 0h0m3 0h0m14 0h0m3 0h0m28 0h0m19 0h0m2 0h0m9 0h0m1 0h0m7 0h0m3 0h0m9 0h0m8 0h0m6 0h0m5 0h0m2 0h0m1 0h0m21 0h0m3 0h0m1 0h0m1 0h0m23 0h0m7 0h0m-191 1h0m19 0h0m13 0h0m16 0h0m2 0h0m4 0h0m5 0h0m3 0h0m2 0h0m2 0h0m7 0h0m5 0h0m4 0h0m4 0h0m10 0h0m5 0h0m10 0h0m42 0h0m10 0h0m1 0h0m-165 1h0m4 0h0m14 0h0m32 0h0m2 0h0m17 0h0m5 0h0m1 0h0m3 0h0m12 0h0m3 0h0m5 0h0m12 0h0m1 0h0m1 0h0m1 0h0m14 0h0m2 0h0m4 0h0m5 0h0m5 0h0m12 0h0m1 0h0m5 0h0m11 0h0m15 0h0m-185 1h0m7 0h0m6 0h0m7 0h0m2 0h0m14 0h0m2 0h0m2 0h0m8 0h0m7 0h0m5 0h0m1 0h0m5 0h0m5 0h0m1 0h0m4 0h0m11 0h0m7 0h0m5 0h0m3 0h0m1 0h0m14 0h0m1 0h0m20 0h0m11 0h0m6 0h0m9 0h0m24 0h0m8 0h0m-189 1h0m8 0h0m10 0h0m14 0h0m6 0h0m2 0h0m4 0h0m10 0h0m5 0h0m3 0h0m1 0h0m10 0h0m5 0h0m4 0h0m6 0h0m15 0h0m1 0h0m4 0h0m1 0h0m1 0h0m19 0h0m1 0h0m49 0h0m4 0h0m-181 1h0m5 0h0m7 0h0m4 0h0m5 0h0m5 0h0m4 0h0m4 0h0m1 0h0m9 0h0m2 0h0m3 0h0m6 0h0m2 0h0m18 0h0m5 0h0m1 0h0m9 0h0m7 0h0m4 0h0m5 0h0m1 0h0m40 0h0m9 0h0m22 0h0m-182 1h0m13 0h0m3 0h0m1 0h0m14 0h0m9 0h0m2 0h0m12 0h0m3 0h0m1 0h0m18 0h0m5 0h0m6 0h0m1 0h0m7 0h0m2 0h0m4 0h0m26 0h0m2 0h0m1 0h0m3 0h0m11 0h0m2 0h0m3 0h0m16 0h0m10 0h0m6 0h0m-178 1h0m3 0h0m11 0h0m3 0h0m2 0h0m4 0h0m4 0h0m20 0h0m5 0h0m1 0h0m1 0h0m9 0h0m1 0h0m5 0h0m13 0h0m4 0h0m24 0h0m3 0h0m4 0h0m1 0h0m3 0h0m6 0h0m3 0h0m3 0h0m1 0h0m3 0h0m3 0h0m3 0h0m3 0h0m19 0h0m47 0h0m-213 1h0m3 0h0m14 0h0m5 0h0m1 0h0m8 0h0m9 0h0m3 0h0m11 0h0m2 0h0m6 0h0m1 0h0m1 0h0m1 0h0m10 0h0m10 0h0m1 0h0m27 0h0m2 0h0m5 0h0m2 0h0m4 0h0m1 0h0m7 0h0m5 0h0m8 0h0m14 0h0m9 0h0m-176 1h0m1 0h0m13 0h0m9 0h0m2 0h0m3 0h0m1 0h0m2 0h0m4 0h0m1 0h0m4 0h0m16 0h0m25 0h0m3 0h0m11 0h0m49 0h0m11 0h0m22 0h0m-179 1h0m8 0h0m7 0h0m2 0h0m4 0h0m1 0h0m2 0h0m9 0h0m2 0h0m1 0h0m8 0h0m2 0h0m3 0h0m2 0h0m2 0h0m3 0h0m1 0h0m5 0h0m5 0h0m4 0h0m2 0h0m22 0h0m42 0h0m46 0h0m3 0h0m9 0h0m-193 1h0m3 0h0m18 0h0m14 0h0m3 0h0m6 0h0m6 0h0m5 0h0m7 0h0m16 0h0m5 0h0m1 0h0m5 0h0m49 0h0m20 0h0m3 0h0m2 0h0m7 0h0m1 0h0m1 0h0m1 0h0m5 0h0m10 0h0m-179 1h0m6 0h0m1 0h0m1 0h0m12 0h0m2 0h0m13 0h0m2 0h0m4 0h0m32 0h0m2 0h0m6 0h0m45 0h0m1 0h0m1 0h0m2 0h0m15 0h0m16 0h0m15 0h0m5 0h0m-191 1h0m2 0h0m8 0h0m1 0h0m8 0h0m1 0h0m20 0h0m17 0h0m23 0h0m4 0h0m2 0h0m1 0h0m13 0h0m3 0h0m2 0h0m46 0h0m6 0h0m3 0h0m20 0h0m-161 1h0m1 0h0m3 0h0m9 0h0m1 0h0m1 0h0m7 0h0m3 0h0m16 0h0m28 0h0m2 0h0m1 0h0m1 0h0m13 0h0m1 0h0m41 0h0m1 0h0m1 0h0m2 0h0m7 0h0m15 0h0m22 0h0m-197 1h0m19 0h0m7 0h0m5 0h0m14 0h0m6 0h0m2 0h0m7 0h0m6 0h0m2 0h0m1 0h0m11 0h0m1 0h0m9 0h0m66 0h0m19 0h0m5 0h0m-173 1h0m8 0h0m2 0h0m10 0h0m21 0h0m1 0h0m16 0h0m4 0h0m3 0h0m1 0h0m96 0h0m18 0h0m-178 1h0m6 0h0m5 0h0m3 0h0m1 0h0m16 0h0m3 0h0m5 0h0m18 0h0m7 0h0m17 0h0m78 0h0m1 0h0m2 0h0m-138 1h0m3 0h0m2 0h0m16 0h0m1 0h0m1 0h0m4 0h0m3 0h0m10 0h0m15 0h0m74 0h0m1 0h0m5 0h0m3 0h0m1 0h0m21 0h0m1 0h0m11 0h0m34 0h0m-233 1h0m4 0h0m11 0h0m1 0h0m4 0h0m16 0h0m4 0h0m1 0h0m9 0h0m6 0h0m1 0h0m3 0h0m10 0h0m6 0h0m4 0h0m10 0h0m1 0h0m1 0h0m5 0h0m53 0h0m1 0h0m1 0h0m1 0h0m3 0h0m1 0h0m2 0h0m16 0h0m4 0h0m9 0h0m5 0h0m-167 1h0m1 0h0m6 0h0m6 0h0m2 0h0m1 0h0m8 0h0m3 0h0m6 0h0m1 0h0m1 0h0m6 0h0m3 0h0m4 0h0m6 0h0m1 0h0m2 0h0m5 0h0m4 0h0m3 0h0m5 0h0m77 0h0m-178 1h0m19 0h0m4 0h0m5 0h0m2 0h0m6 0h0m2 0h0m5 0h0m18 0h0m1 0h0m6 0h0m5 0h0m8 0h0m102 0h0m-185 1h0m12 0h0m2 0h0m30 0h0m2 0h0m8 0h0m1 0h0m9 0h0m1 0h0m1 0h0m4 0h0m2 0h0m7 0h0m1 0h0m1 0h0m2 0h0m73 0h0m14 0h0m20 0h0m-183 1h0m11 0h0m1 0h0m5 0h0m3 0h0m2 0h0m6 0h0m4 0h0m4 0h0m7 0h0m1 0h0m9 0h0m1 0h0m3 0h0m7 0h0m2 0h0m8 0h0m86 0h0m14 0h0m1 0h0m-183 1h0m23 0h0m1 0h0m27 0h0m109 0h0m16 0h0m26 0h0m-202 1h0m19 0h0m5 0h0m1 0h0m1 0h0m3 0h0m2 0h0m5 0h0m2 0h0m9 0h0m7 0h0m1 0h0m4 0h0m1 0h0m3 0h0m6 0h0m126 0h0m1 0h0m-199 1h0m12 0h0m6 0h0m21 0h0m13 0h0m25 0h0m83 0h0m6 0h0m42 0h0m-205 1h0m13 0h0m1 0h0m7 0h0m5 0h0m2 0h0m1 0h0m4 0h0m15 0h0m7 0h0m2 0h0m7 0h0m90 0h0m3 0h0m1 0h0m2 0h0m17 0h0m9 0h0m6 0h0m-176 1h0m6 0h0m1 0h0m2 0h0m5 0h0m3 0h0m3 0h0m4 0h0m4 0h0m2 0h0m1 0h0m8 0h0m8 0h0m1 0h0m3 0h0m3 0h0m4 0h0m87 0h0m13 0h0m19 0h0m-171 1h0m2 0h0m2 0h0m4 0h0m8 0h0m2 0h0m8 0h0m3 0h0m16 0h0m2 0h0m7 0h0m1 0h0m1 0h0m85 0h0m9 0h0m23 0h0m-188 1h0m3 0h0m7 0h0m10 0h0m3 0h0m2 0h0m7 0h0m2 0h0m15 0h0m5 0h0m15 0h0m5 0h0m96 0h0m2 0h0m8 0h0m-183 1h0m3 0h0m2 0h0m8 0h0m3 0h0m3 0h0m10 0h0m1 0h0m7 0h0m1 0h0m14 0h0m1 0h0m3 0h0m8 0h0m9 0h0m2 0h0m82 0h0m4 0h0m12 0h0m2 0h0m3 0h0m2 0h0m2 0h0m7 0h0m-187 1h0m3 0h0m1 0h0m3 0h0m2 0h0m1 0h0m1 0h0m3 0h0m3 0h0m1 0h0m13 0h0m1 0h0m7 0h0m11 0h0m8 0h0m4 0h0m2 0h0m1 0h0m1 0h0m89 0h0m1 0h0m4 0h0m4 0h0m6 0h0m-179 1h0m11 0h0m16 0h0m1 0h0m1 0h0m1 0h0m8 0h0m3 0h0m1 0h0m30 0h0m23 0h0m2 0h0m65 0h0m7 0h0m2 0h0m1 0h0m-172 1h0m5 0h0m4 0h0m27 0h0m10 0h0m15 0h0m3 0h0m1 0h0m9 0h0m1 0h0m8 0h0m12 0h0m1 0h0m67 0h0m3 0h0m6 0h0m17 0h0m1 0h0m-177 1h0m3 0h0m1 0h0m8 0h0m4 0h0m1 0h0m2 0h0m3 0h0m4 0h0m3 0h0m3 0h0m8 0h0m6 0h0m6 0h0m17 0h0m1 0h0m4 0h0m2 0h0m77 0h0m12 0h0m10 0h0m-182 1h0m11 0h0m6 0h0m2 0h0m7 0h0m6 0h0m4 0h0m18 0h0m4 0h0m15 0h0m1 0h0m86 0h0m6 0h0m15 0h0m2 0h0m-173 1h0m1 0h0m2 0h0m7 0h0m5 0h0m5 0h0m1 0h0m2 0h0m11 0h0m11 0h0m1 0h0m5 0h0m3 0h0m3 0h0m7 0h0m4 0h0m80 0h0m8 0h0m1 0h0m16 0h0m-180 1h0m4 0h0m7 0h0m5 0h0m7 0h0m14 0h0m1 0h0m5 0h0m17 0h0m5 0h0m1 0h0m92 0h0m15 0h0m-174 1h0m1 0h0m1 0h0m29 0h0m1 0h0m2 0h0m6 0h0m1 0h0m8 0h0m6 0h0m2 0h0m2 0h0m6 0h0m2 0h0m3 0h0m92 0h0m1 0h0m2 0h0m-160 1h0m3 0h0m3 0h0m3 0h0m6 0h0m22 0h0m4 0h0m2 0h0m3 0h0m7 0h0m5 0h0m4 0h0m103 0h0m3 0h0m5 0h0m3 0h0m-176 1h0m8 0h0m8 0h0m2 0h0m3 0h0m5 0h0m3 0h0m7 0h0m15 0h0m108 0h0m8 0h0m2 0h0m-172 1h0m2 0h0m6 0h0m3 0h0m3 0h0m21 0h0m2 0h0m5 0h0m8 0h0m4 0h0m108 0h0m8 0h0m1 0h0m5 0h0m-184 1h0m3 0h0m2 0h0m14 0h0m2 0h0m8 0h0m3 0h0m4 0h0m13 0h0m2 0h0m1 0h0m7 0h0m3 0h0m1 0h0m1 0h0m119 0h0m1 0h0m11 0h0m-188 1h0m10 0h0m4 0h0m12 0h0m2 0h0m4 0h0m4 0h0m12 0h0m1 0h0m7 0h0m113 0h0m3 0h0m4 0h0m1 0h0m4 0h0m-185 1h0m4 0h0m13 0h0m4 0h0m3 0h0m4 0h0m14 0h0m9 0h0m4 0h0m1 0h0m1 0h0m18 0h0m1 0h0m1 0h0m95 0h0m2 0h0m1 0h0m4 0h0m5 0h0m26 0h0m-205 1h0m11 0h0m17 0h0m8 0h0m17 0h0m17 0h0m86 0h0m5 0h0m4 0h0m1 0h0m1 0h0m13 0h0m31 0h0m-220 1h0m2 0h0m12 0h0m1 0h0m3 0h0m5 0h0m6 0h0m4 0h0m3 0h0m7 0h0m123 0h0m3 0h0m1 0h0m15 0h0m-186 1h0m24 0h0m6 0h0m17 0h0m4 0h0m8 0h0m10 0h0m4 0h0m110 0h0m1 0h0m7 0h0m25 0h0m-182 1h0m18 0h0m3 0h0m3 0h0m3 0h0m13 0h0m1 0h0m4 0h0m86 0h0m1 0h0m2 0h0m-160 1h0m1 0h0m16 0h0m1 0h0m4 0h0m6 0h0m14 0h0m6 0h0m5 0h0m9 0h0m3 0h0m1 0h0m7 0h0m87 0h0m3 0h0m2 0h0m1 0h0m1 0h0m15 0h0m-178 1h0m8 0h0m1 0h0m5 0h0m6 0h0m6 0h0m1 0h0m5 0h0m1 0h0m2 0h0m5 0h0m5 0h0m1 0h0m2 0h0m122 0h0m-176 1h0m4 0h0m4 0h0m4 0h0m4 0h0m2 0h0m7 0h0m14 0h0m5 0h0m2 0h0m14 0h0m100 0h0m1 0h0m1 0h0m7 0h0m4 0h0m17 0h0m1 0h0m4 0h0m-195 1h0m8 0h0m27 0h0m9 0h0m3 0h0m5 0h0m4 0h0m2 0h0m7 0h0m1 0h0m1 0h0m3 0h0m90 0h0m2 0h0m1 0h0m9 0h0m4 0h0m2 0h0m9 0h0m-183 1h0m26 0h0m7 0h0m3 0h0m2 0h0m8 0h0m1 0h0m2 0h0m7 0h0m5 0h0m101 0h0m2 0h0m11 0h0m3 0h0m-185 1h0m2 0h0m7 0h0m21 0h0m4 0h0m17 0h0m14 0h0m106 0h0m2 0h0m4 0h0m4 0h0m-175 1h0m1 0h0m10 0h0m1 0h0m9 0h0m9 0h0m20 0h0m2 0h0m5 0h0m1 0h0m7 0h0m1 0h0m99 0h0m2 0h0m1 0h0m5 0h0m-154 1h0m9 0h0m8 0h0m6 0h0m4 0h0m1 0h0m6 0h0m117 0h0m6 0h0m-163 1h0m3 0h0m10 0h0m3 0h0m3 0h0m3 0h0m7 0h0m3 0h0m2 0h0m6 0h0m6 0h0m1 0h0m2 0h0m4 0h0m1 0h0m102 0h0m2 0h0m11 0h0m-191 1h0m23 0h0m6 0h0m25 0h0m2 0h0m6 0h0m9 0h0m99 0h0m9 0h0m-149 1h0m2 0h0m3 0h0m13 0h0m10 0h0m15 0h0m106 0h0m1 0h0m8 0h0m1 0h0m-172 1h0m25 0h0m3 0h0m9 0h0m5 0h0m11 0h0m1 0h0m98 0h0m5 0h0m5 0h0m8 0h0m2 0h0m-184 1h0m17 0h0m2 0h0m1 0h0m1 0h0m7 0h0m1 0h0m3 0h0m9 0h0m3 0h0m1 0h0m2 0h0m8 0h0m8 0h0m2 0h0m7 0h0m94 0h0m1 0h0m1 0h0m6 0h0m1 0h0m8 0h0m8 0h0m-193 1h0m18 0h0m5 0h0m7 0h0m4 0h0m5 0h0m11 0h0m3 0h0m1 0h0m3 0h0m2 0h0m9 0h0m4 0h0m106 0h0m-169 1h0m12 0h0m11 0h0m6 0h0m2 0h0m3 0h0m1 0h0m7 0h0m9 0h0m110 0h0m4 0h0m17 0h0m-179 1h0m14 0h0m1 0h0m4 0h0m18 0h0m11 0h0m3 0h0m1 0h0m6 0h0m8 0h0m1 0h0m2 0h0m77 0h0m1 0h0m1 0h0m1 0h0m3 0h0m6 0h0m19 0h0m2 0h0m1 0h0m-193 1h0m23 0h0m13 0h0m1 0h0m8 0h0m7 0h0m3 0h0m1 0h0m5 0h0m6 0h0m3 0h0m2 0h0m3 0h0m4 0h0m2 0h0m1 0h0m78 0h0m2 0h0m3 0h0m3 0h0m21 0h0m23 0h0m-212 1h0m3 0h0m1 0h0m4 0h0m5 0h0m16 0h0m5 0h0m2 0h0m11 0h0m5 0h0m8 0h0m1 0h0m9 0h0m3 0h0m2 0h0m87 0h0m1 0h0m1 0h0m5 0h0m1 0h0m14 0h0m3 0h0m27 0h0m-196 1h0m19 0h0m1 0h0m3 0h0m12 0h0m1 0h0m3 0h0m11 0h0m9 0h0m90 0h0m6 0h0m1 0h0m1 0h0m1 0h0m57 0h0m-228 1h0m3 0h0m39 0h0m16 0h0m4 0h0m98 0h0m1 0h0m2 0h0m1 0h0m5 0h0m6 0h0m5 0h0m2 0h0m8 0h0m-181 1h0m3 0h0m25 0h0m4 0h0m16 0h0m1 0h0m6 0h0m2 0h0m3 0h0m2 0h0m1 0h0m102 0h0m32 0h0m7 0h0m-196 1h0m4 0h0m7 0h0m7 0h0m8 0h0m1 0h0m6 0h0m15 0h0m4 0h0m-60 1h0m5 0h0m2 0h0m31 0h0m6 0h0m3 0h0m6 0h0m1 0h0m2 0h0m6 0h0m1 0h0m1 0h0m97 0h0m10 0h0m-170 1h0m26 0h0m6 0h0m2 0h0m6 0h0m2 0h0m5 0h0m6 0h0m6 0h0m100 0h0m8 0h0m-177 1h0m5 0h0m18 0h0m3 0h0m2 0h0m12 0h0m3 0h0m4 0h0m11 0h0m112 0h0m5 0h0m2 0h0m3 0h0m-177 1h0m11 0h0m9 0h0m1 0h0m17 0h0m18 0h0m5 0h0m6 0h0m99 0h0m24 0h0m17 0h0m-205 1h0m11 0h0m3 0h0m3 0h0m3 0h0m1 0h0m12 0h0m1 0h0m1 0h0m7 0h0m2 0h0m3 0h0m3 0h0m15 0h0m1 0h0m1 0h0m91 0h0m16 0h0m1 0h0m13 0h0m-201 1h0m41 0h0m12 0h0m5 0h0m8 0h0m16 0h0m90 0h0m1 0h0m6 0h0m5 0h0m5 0h0m17 0h0m-190 1h0m10 0h0m3 0h0m6 0h0m16 0h0m-33 1h0m1 0h0m11 0h0m15 0h0m8 0h0m20 0h0m1 0h0m1 0h0m95 0h0m16 0h0m-177 1h0m31 0h0m8 0h0m4 0h0m22 0h0m4 0h0m3 0h0m89 0h0m5 0h0m2 0h0m5 0h0m3 0h0m1 0h0m6 0h0m7 0h0m-192 1h0m30 0h0m15 0h0m4 0h0m9 0h0m9 0h0m1 0h0m2 0h0m5 0h0m2 0h0m84 0h0m2 0h0m3 0h0m9 0h0m3 0h0m27 0h0m-190 1h0m1 0h0m7 0h0m5 0h0m1 0h0m7 0h0m6 0h0m9 0h0m4 0h0m3 0h0m9 0h0m1 0h0m2 0h0m99 0h0m5 0h0m2 0h0m10 0h0m-176 1h0m6 0h0m25 0h0m1 0h0m1 0h0m4 0h0m1 0h0m5 0h0m8 0h0m4 0h0m91 0h0m1 0h0m5 0h0m6 0h0m2 0h0m5 0h0m6 0h0m4 0h0m1 0h0m5 0h0m-170 1h0m6 0h0m9 0h0m23 0h0m14 0h0m84 0h0m1 0h0m3 0h0m1 0h0m1 0h0m3 0h0m4 0h0m3 0h0m7 0h0m-150 1h0m4 0h0m1 0h0m6 0h0m3 0h0m27 0h0m100 0h0m13 0h0m3 0h0m18 0h0m-197 1h0m6 0h0m8 0h0m1 0h0m5 0h0m7 0h0m4 0h0m7 0h0m1 0h0m7 0h0m3 0h0m112 0h0m6 0h0m13 0h0m-191 1h0m7 0h0m2 0h0m20 0h0m25 0h0m5 0h0m5 0h0m5 0h0m4 0h0m5 0h0m-52 1h0m2 0h0m6 0h0m11 0h0m18 0h0m2 0h0m6 0h0m89 0h0m1 0h0m1 0h0m1 0h0m7 0h0m7 0h0m6 0h0m35 0h0m-212 1h0m5 0h0m19 0h0m7 0h0m6 0h0m17 0h0m13 0h0m87 0h0m1 0h0m1 0h0m1 0h0m1 0h0m6 0h0m1 0h0m11 0h0m32 0h0m-187 1h0m10 0h0m13 0h0m3 0h0m1 0h0m4 0h0m6 0h0m7 0h0m7 0h0m88 0h0m9 0h0m24 0h0m40 0h0m-242 1h0m18 0h0m20 0h0m3 0h0m3 0h0m7 0h0m4 0h0m5 0h0m8 0h0m2 0h0m6 0h0m4 0h0m93 0h0m6 0h0m1 0h0m5 0h0m-185 1h0m24 0h0m1 0h0m20 0h0m4 0h0m119 0h0m1 0h0m31 0h0m-189 1h0m8 0h0m29 0h0m12 0h0m3 0h0m10 0h0m2 0h0m101 0h0m-158 1h0m21 0h0m18 0h0m2 0h0m7 0h0m3 0h0m7 0h0m4 0h0m93 0h0m6 0h0m4 0h0m-170 1h0m12 0h0m20 0h0m1 0h0m22 0h0m3 0h0m104 0h0m10 0h0m21 0h0m-199 1h0m49 0h0m20 0h0m2 0h0m4 0h0m86 0h0m2 0h0m14 0h0m-181 1h0m6 0h0m3 0h0m11 0h0m30 0h0m8 0h0m10 0h0m3 0h0m7 0h0m92 0h0m7 0h0m-167 1h0m39 0h0m10 0h0m5 0h0m6 0h0m3 0h0m7 0h0m3 0h0m1 0h0m1 0h0m88 0h0m26 0h0m-180 1h0m17 0h0m35 0h0m8 0h0m1 0h0m77 0h0m4 0h0m12 0h0m1 0h0m1 0h0m-144 1h0m28 0h0m16 0h0m4 0h0m4 0h0m3 0h0m75 0h0m1 0h0m1 0h0m4 0h0m2 0h0m2 0h0m16 0h0m1 0h0m1 0h0m4 0h0m-175 1h0m15 0h0m1 0h0m8 0h0m7 0h0m11 0h0m7 0h0m15 0h0m79 0h0m1 0h0m1 0h0m6 0h0m-160 1h0m10 0h0m27 0h0m22 0h0m3 0h0m4 0h0m2 0h0m4 0h0m1 0h0m84 0h0m1 0h0m2 0h0m1 0h0m8 0h0m1 0h0m33 0h0m-162 1h0m8 0h0m15 0h0m1 0h0m1 0h0m10 0h0m1 0h0m91 0h0m-139 1h0m1 0h0m7 0h0m8 0h0m17 0h0m8 0h0m3 0h0m2 0h0m2 0h0m79 0h0m2 0h0m2 0h0m3 0h0m1 0h0m3 0h0m6 0h0m23 0h0m-196 1h0m38 0h0m7 0h0m3 0h0m5 0h0m9 0h0m2 0h0m1 0h0m101 0h0m4 0h0m3 0h0m-164 1h0m14 0h0m26 0h0m9 0h0m5 0h0m4 0h0m88 0h0m2 0h0m4 0h0m19 0h0m10 0h0m27 0h0m-222 1h0m26 0h0m35 0h0m5 0h0m6 0h0m5 0h0m1 0h0m3 0h0m3 0h0m105 0h0m-172 1h0m13 0h0m5 0h0m28 0h0m10 0h0m3 0h0m6 0h0m-72 1h0m14 0h0m13 0h0m19 0h0m12 0h0m7 0h0m81 0h0m1 0h0m7 0h0m2 0h0m19 0h0m-150 1h0m23 0h0m13 0h0m5 0h0m2 0h0m74 0h0m12 0h0m21 0h0m-140 1h0m32 0h0m7 0h0m1 0h0m1 0h0m57 0h0m1 0h0m1 0h0m14 0h0m15 0h0m21 0h0m-199 1h0m16 0h0m2 0h0m19 0h0m10 0h0m1 0h0m19 0h0m1 0h0m4 0h0m17 0h0m57 0h0m1 0h0m1 0h0m33 0h0m-171 1h0m32 0h0m11 0h0m3 0h0m8 0h0m1 0h0m18 0h0m8 0h0m2 0h0m65 0h0m4 0h0m12 0h0m12 0h0m-187 1h0m43 0h0m6 0h0m3 0h0m13 0h0m12 0h0m6 0h0m76 0h0m4 0h0m4 0h0m2 0h0m9 0h0m-157 1h0m27 0h0m1 0h0m13 0h0m8 0h0m4 0h0m2 0h0m18 0h0m1 0h0m62 0h0m1 0h0m1 0h0m3 0h0m1 0h0m3 0h0m45 0h0m-200 1h0m21 0h0m17 0h0m1 0h0m21 0h0m9 0h0m1 0h0m1 0h0m1 0h0m8 0h0m2 0h0m1 0h0m76 0h0m-164 1h0m5 0h0m69 0h0m3 0h0m5 0h0m3 0h0m82 0h0m20 0h0m2 0h0m-169 1h0m7 0h0m23 0h0m8 0h0m2 0h0m15 0h0m3 0h0m1 0h0m5 0h0m2 0h0m60 0h0m10 0h0m15 0h0m12 0h0m-115 1h0m17 0h0m1 0h0m62 0h0m1 0h0m8 0h0m-159 1h0m70 0h0m10 0h0m5 0h0m62 0h0m2 0h0m1 0h0m1 0h0m3 0h0m5 0h0m31 0h0m-164 1h0m13 0h0m8 0h0m34 0h0m69 0h0m4 0h0m5 0h0m-145 1h0m23 0h0m33 0h0m5 0h0m6 0h0m4 0h0m3 0h0m1 0h0m57 0h0m8 0h0m2 0h0m10 0h0m2 0h0m5 0h0m39 0h0m-218 1h0m33 0h0m13 0h0m3 0h0m3 0h0m25 0h0m20 0h0m56 0h0m5 0h0m2 0h0m-146 1h0m5 0h0m12 0h0m7 0h0m5 0h0m12 0h0m28 0h0m4 0h0m8 0h0m1 0h0m1 0h0m1 0h0m1 0h0m12 0h0m3 0h0m1 0h0m36 0h0m14 0h0m2 0h0m30 0h0m-193 1h0m1 0h0m27 0h0m20 0h0m37 0h0m1 0h0m2 0h0m19 0h0m44 0h0m1 0h0m1 0h0m-86 1h0m12 0h0m28 0h0m6 0h0m1 0h0m1 0h0m1 0h0m33 0h0m4 0h0m8 0h0m1 0h0m3 0h0m14 0h0m-159 1h0m52 0h0m9 0h0m8 0h0m4 0h0m22 0h0m1 0h0m37 0h0m1 0h0m2 0h0m1 0h0m9 0h0m8 0h0m-175 1h0m51 0h0m1 0h0m29 0h0m12 0h0m20 0h0m35 0h0m1 0h0m20 0h0m5 0h0m-167 1h0m1 0h0m3 0h0m11 0h0m52 0h0m6 0h0m4 0h0m1 0h0m2 0h0m3 0h0m3 0h0m51 0h0m5 0h0m5 0h0m1 0h0m-114 1h0m40 0h0m10 0h0m4 0h0m1 0h0m1 0h0m4 0h0m2 0h0m31 0h0m3 0h0m1 0h0m3 0h0m22 0h0m22 0h0m7 0h0m-195 1h0m7 0h0m81 0h0m5 0h0m4 0h0m1 0h0m2 0h0m5 0h0m4 0h0m21 0h0m2 0h0m11 0h0m5 0h0m2 0h0m2 0h0m4 0h0m11 0h0m7 0h0m1 0h0m17 0h0m31 0h0m-204 1h0m46 0h0m5 0h0m16 0h0m4 0h0m5 0h0m9 0h0m5 0h0m2 0h0m12 0h0m13 0h0m1 0h0m5 0h0m2 0h0m6 0h0m5 0h0m1 0h0m4 0h0m9 0h0m-116 1h0m16 0h0m7 0h0m11 0h0m2 0h0m3 0h0m8 0h0m2 0h0m7 0h0m1 0h0m1 0h0m28 0h0m4 0h0m7 0h0m1 0h0m1 0h0m3 0h0m-153 1h0m15 0h0m23 0h0m22 0h0m33 0h0m3 0h0m16 0h0m26 0h0m1 0h0m2 0h0m3 0h0m11 0h0m3 0h0m12 0h0m-159 1h0m29 0h0m6 0h0m38 0h0m13 0h0m18 0h0m1 0h0m4 0h0m2 0h0m5 0h0m3 0h0m3 0h0m1 0h0m1 0h0m2 0h0m14 0h0m1 0h0m1 0h0m-148 1h0m31 0h0m27 0h0m10 0h0m12 0h0m5 0h0m23 0h0m3 0h0m1 0h0m7 0h0m3 0h0m3 0h0m50 0h0m2 0h0m-184 1h0m35 0h0m32 0h0m12 0h0m8 0h0m10 0h0m9 0h0m4 0h0m1 0h0m1 0h0m3 0h0m26 0h0m11 0h0m7 0h0m28 0h0m-143 1h0m3 0h0m46 0h0m10 0h0m3 0h0m26 0h0m3 0h0m1 0h0m2 0h0m8 0h0m2 0h0m1 0h0m12 0h0m-109 1h0m15 0h0m2 0h0m21 0h0m3 0h0m4 0h0m6 0h0m3 0h0m6 0h0m13 0h0m1 0h0m1 0h0m19 0h0m10 0h0m5 0h0m60 0h0m-192 1h0m10 0h0m28 0h0m7 0h0m36 0h0m1 0h0m1 0h0m7 0h0m8 0h0m3 0h0m21 0h0m2 0h0m15 0h0m1 0h0m-119 1h0m41 0h0m5 0h0m6 0h0m5 0h0m2 0h0m4 0h0m1 0h0m1 0h0m7 0h0m2 0h0m4 0h0m6 0h0m2 0h0m1 0h0m5 0h0m18 0h0m-151 1h0m76 0h0m17 0h0m11 0h0m2 0h0m4 0h0m7 0h0m1 0h0m9 0h0m1 0h0m1 0h0m10 0h0m20 0h0m17 0h0m-160 1h0m17 0h0m26 0h0m25 0h0m11 0h0m2 0h0m1 0h0m7 0h0m10 0h0m42 0h0m15 0h0m15 0h0m3 0h0m-199 1h0m62 0h0m14 0h0m8 0h0m11 0h0m3 0h0m17 0h0m4 0h0m4 0h0m3 0h0m6 0h0m3 0h0m6 0h0m14 0h0m-78 1h0m8 0h0m3 0h0m24 0h0m3 0h0m10 0h0m1 0h0m2 0h0m3 0h0m15 0h0m1 0h0m31 0h0m-85 1h0m7 0h0m3 0h0m2 0h0m6 0h0m16 0h0m12 0h0m1 0h0m7 0h0m1 0h0m22 0h0m17 0h0m-147 1h0m12 0h0m7 0h0m9 0h0m43 0h0m1 0h0m11 0h0m1 0h0m2 0h0m72 0h0m-164 1h0m44 0h0m13 0h0m3 0h0m17 0h0m6 0h0m8 0h0m11 0h0m11 0h0m2 0h0m3 0h0m18 0h0m-144 1h0m53 0h0m45 0h0m5 0h0m29 0h0m-110 1h0m54 0h0m5 0h0m11 0h0m8 0h0m63 0h0m-180 1h0m26 0h0m69 0h0m13 0h0m1 0h0m14 0h0m11 0h0m9 0h0m3 0h0m41 0h0m-174 1h0m11 0h0m20 0h0m56 0h0m17 0h0m1 0h0m1 0h0m3 0h0m9 0h0m1 0h0m3 0h0m14 0h0m-143 1h0m18 0h0m76 0h0m11 0h0m20 0h0m-117 1h0m45 0h0m22 0h0m16 0h0m10 0h0m32 0h0m15 0h0m21 0h0m-124 1h0m23 0h0m10 0h0m31 0h0m7 0h0m1 0h0m30 0h0m-100 1h0m48 0h0m16 0h0m8 0h0m10 0h0m16 0h0m-160 1h0m44 0h0m43 0h0m6 0h0m45 0h0m42 0h0m-90 1h0m11 0h0m19 0h0m54 0h0m6 0h0m-180 1h0m42 0h0m5 0h0m24 0h0m33 0h0m5 0h0m8 0h0m-103 1h0m33 0h0m14 0h0m45 0h0m34 0h0m7 0h0m-25 1h0m30 0h0m-96 1h0m25 0h0m15 0h0m-66 1h0m42 0h0m65 0h0m-68 1h0m17 0h0m21 0h0m15 0h0m-55 1h0m19 0h0m6 0h0m22 0h0m9 0h0m10 0h0m-49 1h0m8 0h0m2 0h0m25 0h0m-100 2h0m36 0h0m32 0h0m23 0h0m29 0h0m87 0h0m-214 1h0m24 0h0m23 0h0m22 0h0m1 0h0m10 0h0m7 0h0m29 0h0m19 0h0m-56 1h0m19 0h0m37 0h0m-81 1h0m1 0h0m47 0h0m32 0h0m3 0h0m11 0h0m17 0h0m-114 1h0m3 0h0m2 0h0m74 0h0m1 0h0m6 0h0m31 0h0m-87 1h0m14 0h0m29 0h0m1 0h0m6 0h0m9 0h0m-18 1h0m53 0h0m-132 1h0m60 0h0m7 0h0m-70 1h0m16 0h0m24 0h0m9 0h0m-52 1h0m10 0h0m20 0h0m58 0h0m1 0h0m8 0h0m-90 1h0m46 0h0m29 0h0m48 0h0m1 0h0m4 0h0m32 0h0m-132 1h0m15 0h0m6 0h0m22 0h0m1 0h0m1 0h0m29 0h0m-86 1h0m1 0h0m61 0h0m50 0h0m-150 1h0m82 0h0m11 0h0m7 0h0m24 0h0m21 0h0m-111 1h0m33 0h0m3 0h0m2 0h0m8 0h0m13 0h0m8 0h0m3 0h0m16 0h0m-66 1h0m-22 1h0m37 0h0m14 0h0m10 0h0m92 0h0m-184 1h0m28 0h0m11 0h0m87 0h0m-99 1h0m50 0h0m21 0h0m19 0h0m11 0h0m15 0h0m3 0h0m-151 1h0m86 0h0m9 0h0m16 0h0m-44 1h0m20 0h0m26 0h0m3 0h0m14 0h0m18 0h0m5 0h0m-183 1h0m16 0h0m32 0h0m111 0h0m17 0h0m-147 1h0m32 0h0m2 0h0m20 0h0m11 0h0m4 0h0m15 0h0m6 0h0m7 0h0m12 0h0m-138 1h0m94 0h0m15 0h0m13 0h0m3 0h0m20 0h0m7 0h0m-152 1h0m29 0h0m53 0h0m6 0h0m7 0h0m16 0h0m10 0h0m23 0h0m5 0h0m10 0h0m9 0h0m-96 1h0m19 0h0m14 0h0m5 0h0m4 0h0m9 0h0m19 0h0m2 0h0m20 0h0m31 0h0m-195 1h0m7 0h0m66 0h0m12 0h0m15 0h0m3 0h0m7 0h0m26 0h0m2 0h0m39 0h0m-103 1h0m9 0h0m4 0h0m14 0h0m9 0h0m7 0h0m4 0h0m6 0h0m1 0h0m28 0h0m23 0h0m6 0h0m28 0h0m-213 1h0m26 0h0m30 0h0m21 0h0m3 0h0m13 0h0m7 0h0m10 0h0m9 0h0m3 0h0m1 0h0m8 0h0m16 0h0m19 0h0m-126 1h0m28 0h0m3 0h0m21 0h0m10 0h0m5 0h0m5 0h0m4 0h0m10 0h0m5 0h0m9 0h0m4 0h0m56 0h0m-132 1h0m26 0h0m24 0h0m14 0h0m9 0h0m22 0h0m-79 1h0m7 0h0m3 0h0m8 0h0m5 0h0m5 0h0m12 0h0m5 0h0m10 0h0m45 0h0m14 0h0m-198 1h0m27 0h0m8 0h0m20 0h0m22 0h0m2 0h0m6 0h0m6 0h0m4 0h0m3 0h0m2 0h0m10 0h0m2 0h0m4 0h0m1 0h0m14 0h0m2 0h0m8 0h0m5 0h0m1 0h0m35 0h0m-182 1h0m43 0h0m3 0h0m30 0h0m3 0h0m8 0h0m8 0h0m1 0h0m33 0h0m-43 1h0m2 0h0m7 0h0m2 0h0m4 0h0m18 0h0m9 0h0m2 0h0m4 0h0m2 0h0m26 0h0m-90 1h0m6 0h0m4 0h0m15 0h0m3 0h0m1 0h0m3 0h0m1 0h0m2 0h0m3 0h0m1 0h0m1 0h0m2 0h0m5 0h0m2 0h0m5 0h0m1 0h0m12 0h0m13 0h0m3 0h0m6 0h0m6 0h0m29 0h0m-196 1h0m29 0h0m29 0h0m20 0h0m11 0h0m10 0h0m2 0h0m4 0h0m5 0h0m8 0h0m1 0h0m1 0h0m2 0h0m5 0h0m2 0h0m15 0h0m1 0h0m8 0h0m9 0h0m-162 1h0m27 0h0m13 0h0m30 0h0m9 0h0m1 0h0m2 0h0m1 0h0m7 0h0m1 0h0m6 0h0m7 0h0m7 0h0m5 0h0m18 0h0m3 0h0m3 0h0m4 0h0m15 0h0m5 0h0m-150 1h0m49 0h0m23 0h0m1 0h0m15 0h0m3 0h0m1 0h0m3 0h0m2 0h0m3 0h0m3 0h0m3 0h0m2 0h0m5 0h0m8 0h0m9 0h0m7 0h0m1 0h0m-152 1h0m58 0h0m24 0h0m16 0h0m2 0h0m2 0h0m3 0h0m1 0h0m47 0h0m7 0h0m8 0h0m43 0h0m-199 1h0m35 0h0m21 0h0m6 0h0m25 0h0m1 0h0m2 0h0m4 0h0m1 0h0m22 0h0m1 0h0m1 0h0m9 0h0m13 0h0m28 0h0m-181 1h0m34 0h0m3 0h0m39 0h0m3 0h0m4 0h0m66 0h0m15 0h0m-107 1h0m11 0h0m9 0h0m2 0h0m67 0h0m-146 1h0m27 0h0m17 0h0m14 0h0m4 0h0m18 0h0m3 0h0m1 0h0m38 0h0m6 0h0m7 0h0m1 0h0m1 0h0m1 0h0m6 0h0m21 0h0m-124 1h0m32 0h0m14 0h0m34 0h0m1 0h0m3 0h0m1 0h0m2 0h0m6 0h0m7 0h0m3 0h0m9 0h0m3 0h0m5 0h0m10 0h0m30 0h0m-157 1h0m6 0h0m7 0h0m7 0h0m6 0h0m4 0h0m13 0h0m47 0h0m2 0h0m10 0h0m5 0h0m17 0h0m-113 1h0m12 0h0m10 0h0m5 0h0m63 0h0m1 0h0m30 0h0m10 0h0m-164 1h0m29 0h0m12 0h0m6 0h0m9 0h0m4 0h0m65 0h0m2 0h0m3 0h0m4 0h0m-152 1h0m30 0h0m10 0h0m7 0h0m101 0h0m8 0h0m-160 1h0m29 0h0m9 0h0m6 0h0m27 0h0m4 0h0m3 0h0m4 0h0m8 0h0m1 0h0m43 0h0m3 0h0m6 0h0m2 0h0m3 0h0m1 0h0m4 0h0m8 0h0m18 0h0m-145 1h0m14 0h0m42 0h0m1 0h0m52 0h0m2 0h0m11 0h0m20 0h0m47 0h0m-223 1h0m49 0h0m8 0h0m4 0h0m3 0h0m11 0h0m3 0h0m2 0h0m1 0h0m4 0h0m45 0h0m2 0h0m1 0h0m1 0h0m3 0h0m4 0h0m6 0h0m4 0h0m29 0h0m18 0h0m-177 1h0m4 0h0m33 0h0m72 0h0m2 0h0m1 0h0m4 0h0m1 0h0m7 0h0m7 0h0m3 0h0m-101 1h0m7 0h0m5 0h0m3 0h0m20 0h0m48 0h0m12 0h0m4 0h0m5 0h0m10 0h0m-168 1h0m42 0h0m23 0h0m1 0h0m1 0h0m71 0h0m22 0h0m-160 1h0m36 0h0m7 0h0m22 0h0m6 0h0m3 0h0m2 0h0m3 0h0m8 0h0m1 0h0m40 0h0m22 0h0m8 0h0m-158 1h0m50 0h0m7 0h0m13 0h0m4 0h0m1 0h0m52 0h0m19 0h0m6 0h0m-152 1h0m32 0h0m25 0h0m6 0h0m5 0h0m1 0h0m13 0h0m1 0h0m1 0h0m3 0h0m41 0h0m4 0h0m2 0h0m4 0h0m13 0h0m56 0h0m-207 1h0m4 0h0m25 0h0m1 0h0m32 0h0m6 0h0m9 0h0m2 0h0m4 0h0m2 0h0m1 0h0m37 0h0m2 0h0m9 0h0m1 0h0m6 0h0m12 0h0m1 0h0m-154 1h0m21 0h0m1 0h0m18 0h0m11 0h0m23 0h0m20 0h0m30 0h0m1 0h0m9 0h0m11 0h0m6 0h0m2 0h0m6 0h0m15 0h0m-168 1h0m3 0h0m10 0h0m25 0h0m6 0h0m2 0h0m3 0h0m10 0h0m10 0h0m1 0h0m4 0h0m2 0h0m6 0h0m3 0h0m3 0h0m1 0h0m1 0h0m32 0h0m1 0h0m4 0h0m6 0h0m-139 1h0m12 0h0m9 0h0m30 0h0m9 0h0m1 0h0m16 0h0m42 0h0m3 0h0m3 0h0m2 0h0m4 0h0m1 0h0m1 0h0m2 0h0m5 0h0m1 0h0m3 0h0m-126 1h0m24 0h0m4 0h0m12 0h0m1 0h0m7 0h0m2 0h0m1 0h0m1 0h0m3 0h0m3 0h0m1 0h0m3 0h0m6 0h0m33 0h0m1 0h0m1 0h0m1 0h0m5 0h0m14 0h0m2 0h0m6 0h0m4 0h0m14 0h0m-156 1h0m7 0h0m32 0h0m9 0h0m8 0h0m19 0h0m38 0h0m6 0h0m-111 1h0m13 0h0m9 0h0m10 0h0m4 0h0m7 0h0m1 0h0m3 0h0m1 0h0m49 0h0m8 0h0m8 0h0m9 0h0m11 0h0m10 0h0m9 0h0m20 0h0m-160 1h0m17 0h0m8 0h0m48 0h0m26 0h0m3 0h0m3 0h0m2 0h0m21 0h0m-124 1h0m4 0h0m10 0h0m3 0h0m6 0h0m2 0h0m25 0h0m1 0h0m1 0h0m3 0h0m14 0h0m7 0h0m1 0h0m1 0h0m9 0h0m17 0h0m-137 1h0m35 0h0m11 0h0m1 0h0m3 0h0m1 0h0m13 0h0m1 0h0m1 0h0m45 0h0m31 0h0m7 0h0m38 0h0m-182 1h0m20 0h0m3 0h0m10 0h0m9 0h0m17 0h0m2 0h0m4 0h0m52 0h0m2 0h0m3 0h0m6 0h0m-120 1h0m7 0h0m7 0h0m18 0h0m7 0h0m1 0h0m1 0h0m5 0h0m1 0h0m1 0h0m43 0h0m3 0h0m1 0h0m3 0h0m5 0h0m2 0h0m20 0h0m25 0h0m-165 1h0m51 0h0m60 0h0m2 0h0m2 0h0m5 0h0m2 0h0m1 0h0m4 0h0m3 0h0m1 0h0m2 0h0m12 0h0m-145 1h0m44 0h0m82 0h0m-120 1h0m14 0h0m16 0h0m5 0h0m4 0h0m72 0h0m3 0h0m3 0h0m4 0h0m5 0h0m-107 1h0m20 0h0m71 0h0m3 0h0m1 0h0m15 0h0m-94 1h0m3 0h0m75 0h0m1 0h0m6 0h0m6 0h0m-126 1h0m16 0h0m2 0h0m10 0h0m5 0h0m1 0h0m1 0h0m84 0h0m5 0h0m1 0h0m-120 1h0m9 0h0m16 0h0m1 0h0m1 0h0m88 0h0m11 0h0m-112 1h0m1 0h0m2 0h0m7 0h0m1 0h0m93 0h0m12 0h0m2 0h0m-143 1h0m7 0h0m11 0h0m5 0h0m12 0h0m1 0h0m109 0h0m-141 1h0m6 0h0m10 0h0m3 0h0m10 0h0m1 0h0m-34 1h0m32 0h0m106 0h0m-138 1h0m23 0h0m5 0h0m-28 1h0m4 0h0m9 0h0m3 0h0m4 0h0m3 0h0m110 0h0m21 0h0m-154 1h0m6 0h0m9 0h0m10 0h0m109 0h0m7 0h0m-130 1h0m10 0h0m1 0h0m2 0h0m118 0h0m-142 1h0m1 0h0m19 0h0m-12 1h0m4 0h0m7 0h0m125 0h0m-135 1h0m4 0h0m4 0h0m1 0h0m113 0h0m19 0h0m-150 1h0m1 0h0m2 0h0m7 0h0m2 0h0m4 0h0m-5 1h0m3 0h0m127 0h0m-138 1h0m4 0h0m3 0h0m1 0h0m1 0h0m1 0h0m1 0h0m-12 1h0m10 0h0m1 0h0m1 0h0m-13 1h0m4 0h0m1 0h0m2 0h0m1 0h0m4 0h0m2 0h0m-15 1h0m1 0h0m1 0h0m-2 1h0m129 0h0m-129 1h0m0 1h0m1 0h0m130 4h0m12 11h0m-143 6h0m3 0h0m1 0h0m3 0h0m1 0h0"/>
<path stroke="#0000ff" stroke-width="1" d="M210 435.5h9m-18 1h8m1 0h10m1 0h11m-31 1h35m-42 1h48m-57 1h21m1 0h35m-62 1h14m1 0h47m-62 1h68m-68 1h71m-77 1h77m-74 1h68m-74 1h80m-81 1h81m-84 1h85m-86 1h91m-95 1h96m-98 1h98m-98 1h97m-94 1h91m-96 1h96m-101 1h91m1 0h15m-107 1h105m-105 1h104m-109 1h108m-108 1h105m-106 1h100m8 0h7m-115 1h97m-96 1h96m2 0h7m-106 1h107m-107 1h94m6 0h7m-106 1h9m1 0h79m-88 1h90m-90 1h85m-86 1h89m-89 1h29m1 0h41m1 0h7m-79 1h71m1 0h7m-79 1h56m1 0h14m1 0h7m-79 1h79m-78 1h74m-74 1h57m2 0h12m-71 1h71m-71 1h54m2 0h15m-71 1h67m-67 1h56m1 0h9m-66 1h56m-55 1h51m-51 1h55m-52 1h45m-48 1h48m-48 1h43m-43 1h41m-40 1h29"/>
<path stroke="#0000ff" stroke-linecap="square" stroke-width="2" d="M214 435h0m1 0h0m1 0h0m1 0h0m1 0h0m6 1h0m1 0h0m-28 2h0m1 0h0m-7 1h0m54 1h0m0 1h0m-68 2h0m-2 1h0m74 0h0m1 0h0m-78 1h0m76 0h0m1 0h0m1 0h0m3 0h0m3 0h0m-2 2h0m3 0h0m7 0h0m-10 1h0m1 0h0m5 0h0m1 1h0m4 0h0m-3 1h0m2 0h0m-4 1h0m-99 1h0m95 0h0m5 0h0m-102 1h0m1 0h0m1 0h0m96 0h0m7 0h0m-8 1h0m3 0h0m-108 2h0m112 0h0m-113 1h0m111 1h0m1 0h0m-13 1h0m9 0h0m3 0h0m-11 1h0m1 0h0m5 0h0m2 0h0m1 0h0m-11 1h0m1 0h0m1 0h0m2 0h0m-8 2h0m1 0h0m-1 1h0m6 0h0m-9 1h0m1 0h0m19 0h0m-25 1h0m1 0h0m1 0h0m6 0h0m-8 1h0m6 0h0m7 0h0m-19 1h0m5 0h0m19 0h0m-19 1h0m7 0h0m-1 1h0m-11 1h0m11 0h0m-6 1h0m-13 1h0m8 0h0m-1 2h0m-11 1h0m21 1h0m-32 1h0m2 0h0m4 0h0m8 0h0m2 0h0m-16 1h0m9 0h0m-13 1h0m4 0h0m3 0h0m1 0h0m-60 1h0m49 0h0m1 0h0m1 0h0m1 0h0m1 0h0m5 0h0m13 0h0m-71 1h0m49 0h0m-5 1h0m8 1h0m-21 1h0m3 0h0m4 0h0m1 0h0m4 0h0m15 0h0m14 0h0"/>
<path stroke="#c000ff" stroke-linecap="square" stroke-width="2" d="M97 286h0m3 6h0m-3 2h0m1 11h0m-1 2h0m1 1h0m2 0h0m0 1h0m-3 4h0m2 3h0m-1 4h0m3 0h0m-4 1h0m3 0h0m-1 1h0m1 1h0m1 7h0m-5 1h0m2 3h0m-2 2h0m4 2h0m-4 1h0m1 0h0m0 2h0m1 0h0m1 2h0m0 1h0m1 0h0m-3 1h0m-1 2h0m2 0h0m-2 1h0m1 0h0m3 0h0m-3 1h0m4 0h0m-4 1h0m-1 2h0m0 1h0m2 0h0m-2 1h0m1 0h0m1 0h0"/>
</g>
<g fill="none" stroke="#000">
<rect x="132.5" y="71.6" width="258.8" height="414.6" stroke-width="1.5"/>
<polygon points="189.7,234.7 256.5,159.9 321.3,157.7 334,227.8 308.9,334.9 266,356.7 194.7,343.4" stroke-width="1.5"/>
<polygon points="147.4,458.2 151.6,491.3 227.6,491.3 233.1,486.4 260.5,465.8 264.4,452 267.4,445.2 261.3,447.5 241.5,438.6 217,434.8 193.9,438.6 180.9,440.5" stroke-width="3" stroke-linejoin="round"/>
<rect x="96" y="285.5" width="4.6" height="69.8" stroke="#999" stroke-width="1.2"/>
</g>
<rect x="81.8" y="43.2" width="525" height="455.2" fill="none" stroke="#000" stroke-width="2"/>
<path d="M81.8 481.1h-8M100.3 498.4v9.8M81.8 463.8h-8M120.3 498.4v9.8M81.8 446.4h-8M140.4 498.4v9.8M81.8 429.1h-8M160.4 498.4v9.8M81.8 411.8h-14.5M180.5 498.4v16.5M81.8 394.5h-8M200.6 498.4v9.8M81.8 377.1h-8M220.6 498.4v9.8M81.8 359.8h-8M240.7 498.4v9.8M81.8 342.5h-8M260.7 498.4v9.8M81.8 325.2h-14.5M280.8 498.4v16.5M81.8 307.8h-8M300.9 498.4v9.8M81.8 290.5h-8M320.9 498.4v9.8M81.8 273.2h-8M341 498.4v9.8M81.8 255.9h-8M361 498.4v9.8M81.8 238.6h-14.5M381.1 498.4v16.5M81.8 221.2h-8M401.2 498.4v9.8M81.8 203.9h-8M421.2 498.4v9.8M81.8 186.6h-8M441.3 498.4v9.8M81.8 169.3h-8M461.3 498.4v9.8M81.8 151.9h-14.5M481.4 498.4v16.5M81.8 134.6h-8M501.5 498.4v9.8M81.8 117.3h-8M521.5 498.4v9.8M81.8 100h-8M541.6 498.4v9.8M81.8 82.6h-8M561.6 498.4v9.8M81.8 65.3h-14.5M581.7 498.4v16.5M81.8 48h-8M601.8 498.4v9.8" stroke="#000" stroke-width="1.6" fill="none"/>
<g font-family="Liberation Sans, Arial, sans-serif" font-size="16.5" fill="#000" stroke="#000" stroke-width="0.35">
<text x="179" y="530.9" text-anchor="middle" textLength="15.5" lengthAdjust="spacingAndGlyphs">50</text>
<text transform="translate(67.5 411.3) rotate(-90)" x="0" y="0" text-anchor="middle" textLength="15.5" lengthAdjust="spacingAndGlyphs">50</text>
<text x="279.3" y="530.9" text-anchor="middle" textLength="23.2" lengthAdjust="spacingAndGlyphs">100</text>
<text transform="translate(67.5 324.7) rotate(-90)" x="0" y="0" text-anchor="middle" textLength="23.2" lengthAdjust="spacingAndGlyphs">100</text>
<text x="379.6" y="530.9" text-anchor="middle" textLength="23.2" lengthAdjust="spacingAndGlyphs">150</text>
<text transform="translate(67.5 238.1) rotate(-90)" x="0" y="0" text-anchor="middle" textLength="23.2" lengthAdjust="spacingAndGlyphs">150</text>
<text x="479.9" y="530.9" text-anchor="middle" textLength="23.2" lengthAdjust="spacingAndGlyphs">200</text>
<text transform="translate(67.5 151.4) rotate(-90)" x="0" y="0" text-anchor="middle" textLength="23.2" lengthAdjust="spacingAndGlyphs">200</text>
<text x="580.2" y="530.9" text-anchor="middle" textLength="23.2" lengthAdjust="spacingAndGlyphs">250</text>
<text transform="translate(67.5 64.8) rotate(-90)" x="0" y="0" text-anchor="middle" textLength="23.2" lengthAdjust="spacingAndGlyphs">250</text>
</g>
<g font-family="Liberation Sans, Arial, sans-serif" fill="#000">
<text x="344.2" y="548.1" font-size="21.5" text-anchor="middle" textLength="57.7" lengthAdjust="spacingAndGlyphs">FSC-A</text>
<text transform="translate(47.6 264) rotate(-90)" font-size="21.5" text-anchor="middle" textLength="59.8" lengthAdjust="spacingAndGlyphs">SSC-A</text>
<text x="543.8" y="554.4" font-size="17" textLength="60.2" lengthAdjust="spacingAndGlyphs">(x 1,000)</text>
<text transform="translate(45.8 104.8) rotate(-90)" font-size="17" textLength="59.4" lengthAdjust="spacingAndGlyphs">(x 1,000)</text>
</g>
<g font-family="Liberation Sans, Arial, sans-serif" font-size="17" fill="#000">
<text x="247.3" y="265.2">P1</text>
<text x="247.3" y="287.8">P2</text>
<text x="195.1" y="472.6">P3</text>
<text x="92.6" y="319.1">P4</text>
</g>
<g font-family="Liberation Serif, Times New Roman, serif" font-size="32.9" fill="#000">
<text x="408.3" y="191.4">Neutrophils</text>
<text x="409.8" y="234.3">(15.6%)</text>
<text x="399.9" y="420.8">Monocytes</text>
<text x="291.5" y="476.4">Lymphocytes (20.0%)</text>
</g>
<text x="0.5" y="34.8" font-family="Liberation Sans, Arial, sans-serif" font-size="49.6" textLength="45.5" lengthAdjust="spacingAndGlyphs" fill="#000">A.</text>
</g>
<g id="panelB">
<g fill="none">
<path stroke="#000" stroke-width="1" d="M855 45.5h7m-95 416h7m-7 3h7m-7 1h7m-9 1h9m-9 1h8m-6 1h9m-11 1h11m-11 1h7m-6 1h7m-8 1h11m-11 1h11m-11 1h8m-7 1h7m-8 1h11m-11 1h12m-12 1h12m-11 1h11m-11 1h11m-12 1h10m-10 1h9m-9 1h9m-9 1h10m-11 1h11m-11 1h10m-9 1h9m-8 1h8m-8 1h8"/>
<path stroke="#000" stroke-linecap="square" stroke-width="2" d="M838 44h0m39 0h0m261 0h0m24 0h0m27 0h0m29 0h0m-408 1h0m8 0h0m20 0h0m7 0h0m1 0h0m10 0h0m5 0h0m40 0h0m9 0h0m2 0h0m23 0h0m4 0h0m11 0h0m11 0h0m4 0h0m34 0h0m29 0h0m19 0h0m25 0h0m10 0h0m10 0h0m8 0h0m7 0h0m10 0h0m4 0h0m28 0h0m1 0h0m8 0h0m1 0h0m3 0h0m3 0h0m6 0h0m22 0h0m9 0h0m19 0h0m-401 1h0m37 0h0m2 0h0m12 0h0m2 0h0m32 0h0m2 0h0m220 0h0m-34 1h0m24 0h0m-239 4h0m-79 1h0m165 8h0m196 99h0m49 1h0m28 18h0m-198 57h0m43 10h0m128 30h0m-149 19h0m-18 33h0m100 9h0m-41 6h0m-67 20h0m-263 59h0m312 3h0m-313 2h0m1 0h0m0 3h0m-1 1h0m0 11h0m0 3h0m0 2h0m1 7h0m0 1h0m-4 2h0m2 0h0m2 0h0m-3 1h0m3 0h0m-3 1h0m0 1h0m0 1h0m-1 1h0m5 0h0m-5 1h0m2 0h0m1 0h0m-1 1h0m-2 1h0m2 0h0m1 0h0m5 2h0m-1 2h0m0 2h0m1 1h0m-8 19h0m1 0h0m4 0h0m103 0h0m-19 2h0m23 4h0m32 1h0"/>
<path stroke="#00ff00" stroke-width="1" d="M920 364.5h9m-10 3h11m-15 1h8m17 0h14m-43 1h19m-18 1h15m-9 1h10m10 0h13m-35 1h12m7 0h14m-8 1h7m-39 1h10m8 0h7m7 0h7m-43 1h11m17 1h15m-54 1h9m14 0h10m1 0h14m-45 1h12m2 0h30m1 0h7m-47 1h9m1 0h33m-40 1h35m1 0h9m-61 1h7m2 0h55m-52 1h45m2 0h7m-49 1h44m1 0h8m-53 1h44m-50 1h50m-56 1h56m-55 1h57m-60 1h60m-53 1h53m-61 1h57m-57 1h48m1 0h12m-62 1h55m1 0h8m-68 1h65m-59 1h54m-54 1h62m-62 1h64m-73 1h7m2 0h66m-66 1h58m-66 1h69m-69 1h71m-77 1h72m-72 1h73m-80 1h11m2 0h67m-80 1h7m4 0h69m-69 1h69m-73 1h62m1 0h11m-74 1h74m-75 1h75m-76 1h74m-79 1h89m-89 1h86m-76 1h79m-79 1h69m-72 1h72m-74 1h67m-62 1h62m-64 1h71m2 0h8m-81 1h63m-66 1h67m-65 1h69m-69 1h69m-62 1h55m-65 1h65m2 0h7m-74 1h59m1 0h13m-73 1h7m1 0h62m-62 1h62m-71 1h8m1 0h61m-70 1h8m1 0h61m-75 1h7m4 0h59m-74 1h12m3 0h54m-50 1h54m-55 1h8m1 0h51m-64 1h11m1 0h42m1 0h9m-58 1h47m-47 1h46m-46 1h52m-52 1h41m1 0h13m-54 1h39m-38 1h37m-32 1h32m-32 1h26m8 0h7m-39 1h14m1 0h19m-31 1h15m1 0h14m-28 1h13m1 0h14m-14 1h13m-17 2h8m-9 1h10m-11 1h12m-5 1h7m-7 1h7m2 0h10m-27 1h9m-9 1h15m-15 1h8m-8 1h8m-132 1h9m116 0h7m-134 1h11m-11 1h9m116 0h13m-140 1h14m112 0h14m-143 1h17m112 0h12m-135 1h10m113 0h8m-132 1h12m-16 1h16m-15 1h15m-17 1h17m-17 1h17m-17 1h18m-17 1h17m105 0h12m-135 1h18m105 0h12m-135 1h18m-18 1h18m108 0h7m-133 1h19m-19 1h19m97 0h7m-123 1h19m-19 1h19m-19 1h19m98 0h8m-125 1h19m96 0h10m-125 1h19m-19 1h19m-19 1h19m-19 1h20m-20 1h20m-20 1h20m-15 1h15"/>
<path stroke="#00ff00" stroke-linecap="square" stroke-width="2" d="M933 75h0m-137 8h0m0 21h0m112 12h0m-130 10h0m15 8h0m219 6h0m-122 4h0m70 7h0m-51 21h0m111 0h0m-111 2h0m-3 5h0m-94 3h0m-11 2h0m18 5h0m68 2h0m7 2h0m48 0h0m-73 1h0m-15 8h0m35 1h0m58 1h0m11 0h0m32 9h0m-152 1h0m68 1h0m-60 5h0m178 1h0m-100 2h0m18 0h0m-95 1h0m58 2h0m18 3h0m-36 1h0m22 2h0m-66 1h0m-32 1h0m16 4h0m-4 7h0m102 2h0m5 1h0m-51 2h0m-82 1h0m40 2h0m-19 6h0m0 1h0m177 0h0m-190 3h0m49 0h0m62 2h0m-99 1h0m38 3h0m36 6h0m40 3h0m9 0h0m-40 1h0m-99 1h0m84 0h0m41 1h0m-54 2h0m0 1h0m43 0h0m0 1h0m2 0h0m-6 1h0m-7 2h0m-87 1h0m51 0h0m39 0h0m31 2h0m-72 1h0m65 3h0m-41 1h0m-17 1h0m18 0h0m13 0h0m16 0h0m-37 2h0m13 0h0m5 0h0m12 0h0m2 0h0m9 0h0m9 0h0m7 0h0m-53 1h0m18 0h0m-43 1h0m7 0h0m12 0h0m33 0h0m-30 1h0m14 1h0m16 0h0m-15 1h0m2 0h0m-51 2h0m36 0h0m4 0h0m29 0h0m-64 1h0m12 0h0m6 0h0m6 0h0m0 1h0m2 0h0m-54 1h0m31 0h0m13 0h0m7 0h0m52 0h0m-65 2h0m22 0h0m15 0h0m3 0h0m-31 1h0m4 0h0m15 0h0m38 0h0m-43 1h0m75 0h0m-92 1h0m4 0h0m1 0h0m17 0h0m21 0h0m33 0h0m-38 1h0m21 0h0m-86 1h0m19 0h0m6 0h0m20 0h0m8 0h0m18 0h0m25 0h0m30 0h0m-113 1h0m12 0h0m64 0h0m11 0h0m19 0h0m-74 1h0m1 0h0m3 0h0m29 0h0m45 0h0m-123 1h0m1 0h0m54 0h0m7 0h0m-13 1h0m14 0h0m6 0h0m-61 1h0m25 0h0m2 0h0m3 0h0m13 0h0m10 0h0m6 0h0m17 0h0m26 0h0m-107 1h0m26 0h0m35 1h0m-67 1h0m48 0h0m75 0h0m-77 1h0m-80 1h0m75 0h0m31 0h0m1 0h0m-97 1h0m51 0h0m2 0h0m7 0h0m2 0h0m31 0h0m-96 1h0m48 0h0m5 0h0m10 0h0m28 0h0m30 0h0m-117 1h0m28 0h0m75 0h0m21 0h0m-85 1h0m19 0h0m6 0h0m-57 1h0m74 0h0m-23 1h0m33 0h0m-38 1h0m-28 1h0m21 0h0m16 0h0m13 0h0m1 0h0m26 0h0m-64 1h0m54 0h0m4 0h0m-40 1h0m23 0h0m40 0h0m-62 1h0m16 0h0m19 0h0m14 0h0m-40 1h0m10 0h0m36 0h0m-101 1h0m27 0h0m8 0h0m19 0h0m-65 1h0m93 0h0m26 0h0m-56 1h0m36 0h0m-35 1h0m21 0h0m-110 1h0m74 0h0m16 1h0m5 0h0m29 0h0m36 0h0m-167 1h0m91 0h0m5 0h0m99 0h0m-13 1h0m-84 1h0m15 0h0m2 0h0m-32 1h0m-12 1h0m54 0h0m-6 1h0m1 0h0m28 1h0m-151 1h0m100 0h0m41 0h0m-46 1h0m14 0h0m-13 1h0m66 0h0m-20 1h0m1 0h0m5 0h0m-7 1h0m16 0h0m2 0h0m6 0h0m-166 1h0m27 0h0m52 0h0m30 0h0m10 0h0m17 0h0m18 0h0m-46 1h0m27 0h0m28 0h0m49 0h0m-154 1h0m4 0h0m20 0h0m31 0h0m14 0h0m18 0h0m22 0h0m9 0h0m22 0h0m-164 1h0m78 0h0m62 0h0m32 0h0m-69 1h0m13 0h0m1 0h0m15 0h0m20 0h0m26 0h0m-165 1h0m78 0h0m3 0h0m6 0h0m18 0h0m-49 1h0m22 0h0m5 0h0m14 0h0m16 0h0m12 0h0m4 0h0m-159 1h0m25 0h0m30 0h0m48 0h0m14 0h0m6 0h0m2 0h0m2 0h0m9 0h0m7 0h0m3 0h0m-131 1h0m39 0h0m38 0h0m25 0h0m1 0h0m4 0h0m7 0h0m8 0h0m-153 1h0m57 0h0m43 0h0m35 0h0m20 0h0m5 0h0m1 0h0m23 0h0m-160 1h0m18 0h0m16 0h0m6 0h0m43 0h0m6 0h0m15 0h0m2 0h0m7 0h0m4 0h0m2 0h0m6 0h0m4 0h0m5 0h0m13 0h0m7 0h0m4 0h0m37 0h0m-181 1h0m10 0h0m14 0h0m51 0h0m10 0h0m19 0h0m3 0h0m1 0h0m5 0h0m7 0h0m1 0h0m1 0h0m2 0h0m3 0h0m3 0h0m8 0h0m-56 1h0m3 0h0m6 0h0m13 0h0m2 0h0m2 0h0m18 0h0m3 0h0m1 0h0m2 0h0m17 0h0m1 0h0m3 0h0m-171 1h0m40 0h0m15 0h0m36 0h0m7 0h0m32 0h0m7 0h0m5 0h0m15 0h0m15 0h0m-154 1h0m3 0h0m71 0h0m5 0h0m5 0h0m8 0h0m2 0h0m18 0h0m3 0h0m4 0h0m4 0h0m3 0h0m3 0h0m20 0h0m-97 1h0m24 0h0m3 0h0m10 0h0m26 0h0m19 0h0m-172 1h0m39 0h0m70 0h0m9 0h0m1 0h0m3 0h0m7 0h0m5 0h0m5 0h0m4 0h0m4 0h0m1 0h0m2 0h0m3 0h0m1 0h0m29 0h0m39 0h0m-182 1h0m10 0h0m25 0h0m30 0h0m6 0h0m11 0h0m8 0h0m3 0h0m2 0h0m5 0h0m2 0h0m5 0h0m2 0h0m1 0h0m3 0h0m1 0h0m1 0h0m12 0h0m4 0h0m10 0h0m27 0h0m-203 1h0m46 0h0m21 0h0m11 0h0m1 0h0m15 0h0m13 0h0m5 0h0m18 0h0m10 0h0m4 0h0m4 0h0m3 0h0m5 0h0m1 0h0m1 0h0m-147 1h0m12 0h0m7 0h0m1 0h0m71 0h0m16 0h0m2 0h0m4 0h0m1 0h0m1 0h0m4 0h0m1 0h0m1 0h0m3 0h0m1 0h0m3 0h0m4 0h0m5 0h0m1 0h0m5 0h0m2 0h0m2 0h0m26 0h0m-111 1h0m23 0h0m3 0h0m9 0h0m1 0h0m1 0h0m20 0h0m2 0h0m6 0h0m4 0h0m1 0h0m14 0h0m2 0h0m9 0h0m2 0h0m4 0h0m39 0h0m-220 1h0m51 0h0m48 0h0m7 0h0m1 0h0m7 0h0m10 0h0m1 0h0m2 0h0m4 0h0m2 0h0m31 0h0m1 0h0m2 0h0m5 0h0m9 0h0m8 0h0m30 0h0m-202 1h0m39 0h0m25 0h0m12 0h0m24 0h0m54 0h0m2 0h0m11 0h0m5 0h0m-82 1h0m1 0h0m4 0h0m7 0h0m49 0h0m5 0h0m9 0h0m-156 1h0m31 0h0m52 0h0m4 0h0m5 0h0m1 0h0m2 0h0m50 0h0m-89 1h0m15 0h0m6 0h0m2 0h0m6 0h0m1 0h0m2 0h0m84 0h0m-165 1h0m80 0h0m5 0h0m59 0h0m47 0h0m-160 1h0m13 0h0m7 0h0m15 0h0m3 0h0m6 0h0m2 0h0m3 0h0m3 0h0m7 0h0m49 0h0m3 0h0m6 0h0m-134 1h0m31 0h0m9 0h0m7 0h0m12 0h0m2 0h0m7 0h0m2 0h0m3 0h0m3 0h0m90 0h0m1 0h0m-130 1h0m13 0h0m10 0h0m2 0h0m5 0h0m3 0h0m54 0h0m1 0h0m1 0h0m6 0h0m-120 1h0m38 0h0m10 0h0m69 0h0m9 0h0m-154 1h0m57 0h0m1 0h0m10 0h0m9 0h0m65 0h0m1 0h0m-172 1h0m38 0h0m66 0h0m1 0h0m5 0h0m1 0h0m3 0h0m62 0h0m5 0h0m-95 1h0m11 0h0m13 0h0m61 0h0m4 0h0m7 0h0m-174 1h0m38 0h0m40 0h0m6 0h0m76 0h0m6 0h0m2 0h0m7 0h0m-168 1h0m25 0h0m10 0h0m32 0h0m18 0h0m76 0h0m6 0h0m-130 1h0m27 0h0m16 0h0m6 0h0m69 0h0m29 0h0m-177 1h0m15 0h0m18 0h0m22 0h0m19 0h0m3 0h0m5 0h0m2 0h0m60 0h0m1 0h0m7 0h0m16 0h0m-167 1h0m11 0h0m37 0h0m19 0h0m6 0h0m7 0h0m1 0h0m2 0h0m1 0h0m58 0h0m1 0h0m4 0h0m4 0h0m2 0h0m1 0h0m-116 1h0m114 0h0m5 0h0m1 0h0m9 0h0m28 0h0m-180 1h0m5 0h0m58 0h0m3 0h0m1 0h0m1 0h0m-86 1h0m27 0h0m29 0h0m12 0h0m7 0h0m8 0h0m1 0h0m1 0h0m1 0h0m68 0h0m32 0h0m-205 1h0m10 0h0m2 0h0m16 0h0m55 0h0m19 0h0m66 0h0m9 0h0m26 0h0m5 0h0m-168 1h0m13 0h0m3 0h0m4 0h0m36 0h0m79 0h0m-170 1h0m30 0h0m28 0h0m20 0h0m12 0h0m73 0h0m2 0h0m3 0h0m4 0h0m-178 1h0m42 0h0m22 0h0m18 0h0m9 0h0m80 0h0m34 0h0m-175 1h0m19 0h0m124 0h0m-1 1h0m5 0h0m4 0h0m-135 1h0m34 0h0m4 0h0m13 0h0m88 0h0m-135 1h0m2 0h0m18 0h0m15 0h0m11 0h0m1 0h0m86 0h0m2 0h0m11 0h0m-181 1h0m11 0h0m5 0h0m44 0h0m11 0h0m86 0h0m9 0h0m-178 1h0m33 0h0m11 0h0m3 0h0m21 0h0m19 0h0m84 0h0m18 0h0m-196 1h0m10 0h0m16 0h0m7 0h0m4 0h0m8 0h0m21 0h0m8 0h0m16 0h0m-15 1h0m1 0h0m7 0h0m10 0h0m82 0h0m3 0h0m2 0h0m-154 1h0m4 0h0m19 0h0m20 0h0m7 0h0m112 0h0m-183 1h0m30 0h0m5 0h0m30 0h0m23 0h0m3 0h0m2 0h0m2 0h0m83 0h0m1 0h0m-130 1h0m30 0h0m89 0h0m5 0h0m2 0h0m9 0h0m7 0h0m-111 1h0m4 0h0m3 0h0m1 0h0m7 0h0m73 0h0m-152 1h0m25 0h0m49 0h0m71 0h0m2 0h0m7 0h0m28 0h0m-192 1h0m26 0h0m9 0h0m46 0h0m6 0h0m2 0h0m66 0h0m1 0h0m2 0h0m1 0h0m4 0h0m8 0h0m2 0h0m-146 1h0m8 0h0m46 0h0m4 0h0m2 0h0m69 0h0m1 0h0m2 0h0m4 0h0m1 0h0m1 0h0m22 0h0m-118 1h0m2 0h0m9 0h0m74 0h0m4 0h0m5 0h0m4 0h0m2 0h0m11 0h0m16 0h0m-203 1h0m19 0h0m26 0h0m9 0h0m20 0h0m13 0h0m7 0h0m70 0h0m-167 1h0m24 0h0m7 0h0m5 0h0m32 0h0m15 0h0m6 0h0m5 0h0m72 0h0m4 0h0m4 0h0m-169 1h0m4 0h0m5 0h0m55 0h0m12 0h0m92 0h0m8 0h0m-164 1h0m3 0h0m27 0h0m3 0h0m24 0h0m10 0h0m8 0h0m1 0h0m6 0h0m65 0h0m8 0h0m1 0h0m15 0h0m-185 1h0m24 0h0m15 0h0m6 0h0m41 0h0m7 0h0m3 0h0m2 0h0m1 0h0m61 0h0m1 0h0m4 0h0m15 0h0m-149 1h0m59 0h0m78 0h0m-147 1h0m2 0h0m19 0h0m2 0h0m2 0h0m28 0h0m97 0h0m-94 1h0m4 0h0m2 0h0m11 0h0m2 0h0m1 0h0m1 0h0m69 0h0m7 0h0m1 0h0m-164 1h0m66 0h0m7 0h0m13 0h0m70 0h0m-110 1h0m15 0h0m9 0h0m83 0h0m32 0h0m-161 1h0m7 0h0m15 0h0m27 0h0m5 0h0m80 0h0m2 0h0m2 0h0m5 0h0m-137 1h0m19 0h0m4 0h0m3 0h0m16 0h0m1 0h0m70 0h0m5 0h0m6 0h0m-103 1h0m22 0h0m2 0h0m2 0h0m4 0h0m1 0h0m60 0h0m1 0h0m5 0h0m18 0h0m-148 1h0m20 0h0m14 0h0m35 0h0m59 0h0m-150 1h0m35 0h0m4 0h0m31 0h0m3 0h0m2 0h0m81 0h0m2 0h0m11 0h0m-167 1h0m12 0h0m2 0h0m3 0h0m46 0h0m4 0h0m18 0h0m3 0h0m2 0h0m1 0h0m52 0h0m1 0h0m1 0h0m2 0h0m-135 1h0m11 0h0m38 0h0m27 0h0m55 0h0m1 0h0m17 0h0m5 0h0m-174 1h0m23 0h0m4 0h0m8 0h0m54 0h0m8 0h0m2 0h0m51 0h0m7 0h0m7 0h0m-148 1h0m18 0h0m63 0h0m58 0h0m10 0h0m-124 1h0m7 0h0m96 0h0m1 0h0m2 0h0m4 0h0m2 0h0m-115 1h0m2 0h0m2 0h0m105 0h0m8 0h0m3 0h0m9 0h0m17 0h0m-182 1h0m25 0h0m117 0h0m1 0h0m-153 1h0m7 0h0m1 0h0m17 0h0m119 0h0m2 0h0m5 0h0m1 0h0m1 0h0m1 0h0m6 0h0m-139 1h0m15 0h0m108 0h0m2 0h0m1 0h0m9 0h0m12 0h0m-144 1h0m4 0h0m133 0h0m13 0h0m-159 1h0m12 0h0m2 0h0m6 0h0m-15 1h0m108 0h0m1 0h0m1 0h0m3 0h0m2 0h0m21 0h0m30 0h0m-173 1h0m2 0h0m9 0h0m5 0h0m1 0h0m4 0h0m96 0h0m4 0h0m4 0h0m5 0h0m1 0h0m1 0h0m3 0h0m1 0h0m3 0h0m13 0h0m-158 1h0m9 0h0m119 0h0m5 0h0m3 0h0m1 0h0m1 0h0m4 0h0m5 0h0m11 0h0m-146 1h0m1 0h0m1 0h0m9 0h0m114 0h0m4 0h0m20 0h0m15 0h0m-182 1h0m21 0h0m3 0h0m4 0h0m124 0h0m4 0h0m4 0h0m-134 1h0m105 0h0m2 0h0m2 0h0m17 0h0m2 0h0m2 0h0m-143 1h0m8 0h0m110 0h0m3 0h0m1 0h0m12 0h0m2 0h0m4 0h0m2 0h0m8 0h0m-158 1h0m3 0h0m14 0h0m111 0h0m7 0h0m2 0h0m5 0h0m1 0h0m3 0h0m15 0h0m-155 1h0m2 0h0m4 0h0m124 0h0m2 0h0m4 0h0m-144 1h0m2 0h0m5 0h0m7 0h0m122 0h0m1 0h0m1 0h0m1 0h0m6 0h0m1 0h0m1 0h0m19 0h0m-155 1h0m1 0h0m130 0h0m10 0h0m14 0h0m42 0h0m-205 1h0m3 0h0m1 0h0m132 1h0m8 0h0m-149 1h0m128 0h0m2 0h0m6 0h0m7 0h0m6 0h0m-6 1h0m32 0h0m-177 1h0m145 0h0m7 0h0m-152 1h0m1 0h0m2 0h0m139 0h0m15 0h0m11 0h0m-166 1h0m127 0h0m1 0h0m2 0h0m6 0h0m2 0h0m22 0h0m-161 1h0m1 0h0m127 0h0m4 0h0m8 0h0m13 0h0m9 0h0m-21 1h0m21 0h0m-35 1h0m4 0h0m4 0h0m1 0h0m2 0h0m10 0h0m-22 1h0m12 0h0m4 0h0m5 0h0m1 0h0m-23 1h0m1 0h0m5 0h0m-5 1h0m5 0h0m5 0h0m-14 2h0m3 0h0m16 0h0m16 0h0m-38 1h0m1 0h0m9 0h0m1 0h0m14 0h0m8 0h0m-33 1h0m2 0h0m4 0h0m2 0h0m3 0h0m-13 1h0m2 0h0m-4 1h0m5 0h0m-3 1h0m10 0h0m2 0h0m3 0h0m3 0h0m5 0h0m-28 1h0m9 0h0m5 0h0m6 0h0m-18 2h0m4 0h0m2 0h0m1 0h0m1 0h0m-13 1h0m3 0h0m1 0h0m5 0h0m-9 1h0m11 0h0m6 0h0m-20 1h0m3 0h0m4 0h0m-5 1h0m23 0h0m11 0h0m-20 1h0m6 0h0m-127 1h0m106 0h0m7 0h0m-10 1h0"/>
<path stroke="#0000ff" stroke-width="1" d="M866 436.5h8m-18 2h7m17 0h8m-32 1h7m7 0h7m-2 1h7m1 0h7m-33 1h10m5 0h15m-46 1h7m1 0h18m1 0h29m-56 1h13m2 0h20m1 0h21m-72 1h10m8 0h9m2 0h17m14 0h12m-78 1h23m5 0h11m1 0h38m-79 1h8m5 0h32m1 0h34m2 0h9m-101 1h96m-93 1h85m1 0h12m-96 1h85m1 0h8m-103 1h103m-105 1h86m6 0h7m-94 1h99m-100 1h7m1 0h92m-102 1h7m1 0h94m-108 1h99m-107 1h116m-117 1h115m-111 1h102m1 0h8m-111 1h111m-114 1h108m-108 1h107m-107 1h109m-109 1h109m-109 1h109m-109 1h108m-108 1h112m-112 1h110m-110 1h109m-109 1h106m-105 1h105m-105 1h99m-98 1h99m-100 1h96m-96 1h97m-97 1h98m-98 1h98m-98 1h83m1 0h12m-95 1h93m-93 1h81m4 0h8m-93 1h84m-84 1h53m2 0h28m-83 1h14m1 0h59m6 0h7m-87 1h14m1 0h63m-75 1h9m17 0h27m10 0h12"/>
<path stroke="#0000ff" stroke-linecap="square" stroke-width="2" d="M856 435h0m-9 1h0m3 0h0m17 0h0m1 0h0m5 0h0m-29 1h0m4 0h0m21 0h0m2 0h0m6 0h0m4 0h0m-40 1h0m4 0h0m3 0h0m9 0h0m16 0h0m4 0h0m5 0h0m1 0h0m2 0h0m-56 1h0m12 0h0m34 0h0m1 0h0m5 0h0m6 0h0m-62 1h0m11 0h0m7 0h0m5 0h0m10 0h0m9 0h0m4 0h0m2 0h0m6 0h0m1 0h0m1 0h0m4 0h0m2 0h0m2 0h0m-48 1h0m5 0h0m3 0h0m3 0h0m10 0h0m11 0h0m16 0h0m-59 1h0m3 0h0m6 0h0m3 0h0m1 0h0m10 0h0m2 0h0m34 0h0m1 0h0m-71 1h0m5 0h0m4 0h0m5 0h0m2 0h0m1 0h0m-14 1h0m5 0h0m1 0h0m1 0h0m5 0h0m1 0h0m7 0h0m32 0h0m1 0h0m9 0h0m-67 1h0m6 0h0m18 0h0m1 0h0m3 0h0m1 0h0m28 0h0m2 0h0m1 0h0m3 0h0m2 0h0m2 0h0m-70 1h0m16 0h0m16 0h0m59 0h0m1 0h0m3 0h0m-97 1h0m3 0h0m1 0h0m13 0h0m78 0h0m-97 1h0m97 0h0m2 0h0m-101 2h0m2 0h0m2 0h0m81 1h0m11 0h0m1 0h0m1 0h0m1 0h0m-103 1h0m87 0h0m1 0h0m13 0h0m-103 1h0m1 0h0m-5 1h0m2 1h0m103 0h0m1 0h0m2 0h0m-113 1h0m4 0h0m105 0h0m1 0h0m1 0h0m2 0h0m-115 2h0m1 0h0m0 1h0m109 1h0m1 0h0m0 1h0m3 0h0m-3 1h0m1 1h0m-1 2h0m0 1h0m-8 5h0m-4 2h0m1 0h0m1 1h0m-16 5h0m0 1h0m3 0h0m3 0h0m-3 1h0m-1 1h0m1 0h0m-10 1h0m7 0h0m-82 1h0m16 0h0m3 0h0m5 0h0m1 0h0m1 0h0m33 0h0m3 0h0m22 0h0m-5 1h0m-30 2h0"/>
</g>
<g fill="none" stroke="#000">
<rect x="775.7" y="71.4" width="258.8" height="413.8" stroke-width="1.5"/>
<polygon points="832.9,234.2 899.7,159.6 964.5,157.3 977.2,227.3 952.1,334.2 909.2,356 837.9,342.7" stroke-width="1.5"/>
<polygon points="790.6,457.3 794.8,490.3 870.8,490.3 876.3,485.5 903.7,464.9 907.6,451.1 910.6,444.3 904.5,446.6 884.7,437.7 860.2,433.9 837.1,437.7 824.1,439.7" stroke-width="3" stroke-linejoin="round"/>
<rect x="739.2" y="284.9" width="4.6" height="69.7" stroke="#999" stroke-width="1.2"/>
</g>
<rect x="725" y="43" width="525" height="454.4" fill="none" stroke="#000" stroke-width="2"/>
<path d="M725 480.1h-8M743.5 497.4v9.8M725 462.8h-8M763.5 497.4v9.8M725 445.5h-8M783.6 497.4v9.8M725 428.2h-8M803.6 497.4v9.8M725 410.9h-14.5M823.7 497.4v16.5M725 393.7h-8M843.8 497.4v9.8M725 376.4h-8M863.8 497.4v9.8M725 359.1h-8M883.9 497.4v9.8M725 341.8h-8M903.9 497.4v9.8M725 324.5h-14.5M924 497.4v16.5M725 307.2h-8M944.1 497.4v9.8M725 289.9h-8M964.1 497.4v9.8M725 272.6h-8M984.2 497.4v9.8M725 255.3h-8M1004.2 497.4v9.8M725 238h-14.5M1024.3 497.4v16.5M725 220.8h-8M1044.4 497.4v9.8M725 203.5h-8M1064.4 497.4v9.8M725 186.2h-8M1084.5 497.4v9.8M725 168.9h-8M1104.5 497.4v9.8M725 151.6h-14.5M1124.6 497.4v16.5M725 134.3h-8M1144.7 497.4v9.8M725 117h-8M1164.7 497.4v9.8M725 99.7h-8M1184.8 497.4v9.8M725 82.4h-8M1204.8 497.4v9.8M725 65.1h-14.5M1224.9 497.4v16.5M725 47.9h-8M1245 497.4v9.8" stroke="#000" stroke-width="1.6" fill="none"/>
<g font-family="Liberation Sans, Arial, sans-serif" font-size="16.5" fill="#000" stroke="#000" stroke-width="0.35">
<text x="822.2" y="529.9" text-anchor="middle" textLength="15.5" lengthAdjust="spacingAndGlyphs">50</text>
<text transform="translate(710.7 410.4) rotate(-90)" x="0" y="0" text-anchor="middle" textLength="15.5" lengthAdjust="spacingAndGlyphs">50</text>
<text x="922.5" y="529.9" text-anchor="middle" textLength="23.2" lengthAdjust="spacingAndGlyphs">100</text>
<text transform="translate(710.7 324) rotate(-90)" x="0" y="0" text-anchor="middle" textLength="23.2" lengthAdjust="spacingAndGlyphs">100</text>
<text x="1022.8" y="529.9" text-anchor="middle" textLength="23.2" lengthAdjust="spacingAndGlyphs">150</text>
<text transform="translate(710.7 237.5) rotate(-90)" x="0" y="0" text-anchor="middle" textLength="23.2" lengthAdjust="spacingAndGlyphs">150</text>
<text x="1123.1" y="529.9" text-anchor="middle" textLength="23.2" lengthAdjust="spacingAndGlyphs">200</text>
<text transform="translate(710.7 151.1) rotate(-90)" x="0" y="0" text-anchor="middle" textLength="23.2" lengthAdjust="spacingAndGlyphs">200</text>
<text x="1223.4" y="529.9" text-anchor="middle" textLength="23.2" lengthAdjust="spacingAndGlyphs">250</text>
<text transform="translate(710.7 64.6) rotate(-90)" x="0" y="0" text-anchor="middle" textLength="23.2" lengthAdjust="spacingAndGlyphs">250</text>
</g>
<g font-family="Liberation Sans, Arial, sans-serif" fill="#000">
<text x="987.4" y="547.1" font-size="21.5" text-anchor="middle" textLength="57.7" lengthAdjust="spacingAndGlyphs">FSC-A</text>
<text transform="translate(690.8 263.5) rotate(-90)" font-size="21.5" text-anchor="middle" textLength="59.8" lengthAdjust="spacingAndGlyphs">SSC-A</text>
<text x="1187" y="553.4" font-size="17" textLength="60.2" lengthAdjust="spacingAndGlyphs">(x 1,000)</text>
<text transform="translate(689 104.6) rotate(-90)" font-size="17" textLength="59.4" lengthAdjust="spacingAndGlyphs">(x 1,000)</text>
</g>
<g font-family="Liberation Sans, Arial, sans-serif" font-size="17" fill="#000">
<text x="890.5" y="264.7">P1</text>
<text x="890.5" y="287.2">P2</text>
<text x="838.3" y="471.6">P3</text>
<text x="735.8" y="318.4">P4</text>
</g>
<g font-family="Liberation Serif, Times New Roman, serif" font-size="32.9" fill="#000">
<text x="1061" y="194.4">Neutrophils</text>
<text x="1062" y="236.7">(0.3%)</text>
<text x="1052.2" y="423.9">Monocytes</text>
<text x="956.6" y="474.7">Lymphocytes (76.1%)</text>
</g>
<text x="644.8" y="34.8" font-family="Liberation Sans, Arial, sans-serif" font-size="49.6" textLength="41.8" lengthAdjust="spacingAndGlyphs" fill="#000">B.</text>
</g>
<g id="panelC">
<g fill="none">
<path stroke="#000" stroke-width="1" d="M1404 476.5h7m-7 1h7m-7 1h8m-8 1h8m-8 1h9m-11 1h11m-8 1h8m-9 1h9m-9 1h9m-8 1h8m-8 1h7"/>
<path stroke="#000" stroke-linecap="square" stroke-width="2" d="M1417 45h0m31 0h0m1 0h0m6 0h0m-50 1h0m61 0h0m9 0h0m181 0h0m21 0h0m94 0h0m76 0h0m-67 1h0m33 0h0m40 0h0m-386 4h0m-43 1h0m20 12h0m-2 4h0m19 0h0m4 1h0m371 0h0m-427 180h0m-2 13h0m0 2h0m-1 3h0m3 5h0m-2 4h0m408 16h0m-406 1h0m-2 3h0m1 6h0m-1 8h0m2 1h0m-3 3h0m2 0h0m-3 1h0m2 10h0m2 36h0m0 14h0m0 10h0m0 4h0m-3 5h0m353 4h0m-352 4h0m0 2h0m-1 3h0m2 0h0m333 14h0m91 30h0m-425 8h0m1 0h0m-1 2h0m1 1h0m1 10h0m-3 1h0m3 2h0m-6 7h0m-1 2h0m6 3h0m1 0h0m1 0h0m-2 1h0m2 0h0"/>
<path stroke="#00ff00" stroke-width="1" d="M1424 252.5h8m8 6h8m78 3h8m-98 1h7m65 3h8m8 2h9m10 0h7m-91 1h8m76 0h7m-26 5h8m-8 1h10m-6 1h19m-23 2h14m-26 1h11m1 0h9m-18 1h16m-10 1h14m13 0h7m-20 1h8m-105 1h7m90 0h7m-104 1h7m62 0h10m15 0h7m1 0h10m-95 1h7m80 0h8m-34 1h13m-25 1h10m2 0h10m-35 1h9m16 0h10m6 1h11m-27 1h8m1 0h8m1 0h12m3 0h7m-61 1h7m11 0h17m5 0h11m-42 1h8m10 0h8m2 0h7m-21 1h12m2 0h8m-38 1h14m2 0h9m8 0h7m-36 1h9m3 0h10m18 0h12m-41 1h7m-20 1h9m1 0h8m7 0h9m-42 1h8m1 0h8m1 0h7m2 0h20m-38 1h31m-32 1h7m1 0h7m2 0h16m3 0h9m6 0h9m-61 1h11m8 0h16m-35 1h18m1 0h8m1 0h8m-29 1h7m2 0h14m3 0h9m1 0h8m-54 1h44m-44 1h23m2 0h11m-30 1h8m1 0h10m1 0h9m10 0h7m-42 1h34m1 0h12m-55 1h7m1 0h35m1 0h12m-37 1h30m-44 1h42m-53 1h9m7 0h36m-57 1h14m13 0h36m-54 1h16m1 0h18m1 0h9m1 0h13m-66 1h15m1 0h34m-47 1h15m1 0h39m-48 1h41m-41 1h47m-60 1h9m6 0h44m-44 1h7m1 0h36m-59 1h12m3 0h13m1 0h30m4 0h7m-70 1h12m1 0h49m1 0h7m-118 1h11m37 0h8m5 0h54m-61 1h53m1 0h8m-61 1h10m1 0h33m1 0h8m-67 1h8m4 0h10m2 0h43m-52 1h52m-52 1h59m-61 1h14m1 0h9m1 0h33m-51 1h9m1 0h43m-72 1h7m2 0h7m1 0h55m-63 1h7m6 0h41m2 0h7m-50 1h42m-58 1h7m8 0h52m-55 1h29m1 0h24m-65 1h7m4 0h39m1 0h14m-102 1h7m30 0h7m1 0h46m1 0h7m-130 1h8m72 0h50m-58 1h7m9 0h23m8 0h8m-55 1h7m2 0h10m1 0h20m1 0h11m-44 1h44m2 0h9m-103 1h9m38 0h44m-39 1h44m1 0h7m-52 1h9m1 0h26m-59 1h9m14 0h41m1 0h9m-51 1h41m1 0h10m-49 1h27m1 0h12m-47 1h39m1 0h7m-48 1h45m-48 1h40m1 0h7m-28 1h23m-104 1h8m15 0h7m38 0h7m5 0h24m-81 1h7m16 0h14m20 0h22m-41 1h17m1 0h21m-43 1h21m1 0h25m-38 1h13m8 0h14m-35 1h13m11 0h11m-33 1h11m2 0h8m1 0h7m-27 1h9m11 0h7m-9 1h12m-21 1h8m1 0h15m-36 1h7m1 0h13m1 0h14m-102 1h15m4 0h8m47 0h13m-83 1h11m49 0h8m8 3h11m-18 1h15m-105 1h14m2 0h10m-26 1h21m-23 1h10m10 1h10m-25 3h11m1 0h8m4 0h9m-33 1h11m1 0h8m5 0h7m17 1h10m-42 1h7m27 0h8m-69 1h8m17 0h8m-33 1h8m20 0h9m14 1h7m-34 1h13m1 3h10m23 0h8m-69 1h9m23 0h8m-7 1h8m-31 1h8m13 0h10m95 0h8m-136 1h8m4 2h8m-6 1h8m3 0h10m-10 1h10m86 0h7m-128 2h8m-17 1h19m-19 1h14m-13 1h15m-17 1h7m5 0h11m-32 2h7m34 0h9m1 0h7m-58 1h7m36 0h7m87 0h9m-146 1h11m126 0h13m-147 1h13m12 0h9m91 0h8m9 0h9m-145 1h13m123 0h10m-139 1h9m87 0h8m25 0h7m-2 1h8m-115 1h7m9 0h7m73 0h19m-140 1h10m31 0h7m79 0h12m-35 1h15m1 0h20m-38 1h13m8 0h9m3 0h13m-46 1h7m7 0h8m1 0h9m-24 1h18m1 0h8m4 0h7m-158 1h15m97 0h10m18 0h7m-147 1h13m102 0h12m-137 1h8m22 0h13m6 0h10m66 0h28m-151 1h8m20 0h9m9 0h9m57 0h7m5 0h10m5 0h9m-137 1h9m107 0h7m5 0h10m-23 1h11m-8 1h7m-7 2h11m-124 1h12m104 0h13m-5 1h10m-125 1h13m93 0h8m3 0h13m-128 3h14m83 0h8m-105 1h10m-7 1h7m77 1h8m-96 1h7m82 0h7m-93 1h7m-13 3h9m-10 1h7m18 0h7m-34 1h9m1 1h7m-3 2h13m-9 1h9m-28 1h8m-19 1h7m-7 1h7m11 0h7m-4 2h9m-20 1h8m2 0h7m-8 1h7m-17 2h8m-21 4h7"/>
<path stroke="#00ff00" stroke-linecap="square" stroke-width="2" d="M1442 73h0m56 3h0m-42 3h0m0 1h0m-13 3h0m23 1h0m-38 4h0m20 0h0m41 0h0m-64 2h0m43 1h0m-12 1h0m-24 2h0m36 0h0m1 4h0m7 0h0m-47 3h0m21 1h0m-14 2h0m25 1h0m-19 2h0m-26 4h0m11 1h0m32 5h0m-22 1h0m36 0h0m-24 2h0m6 0h0m-1 1h0m-11 4h0m9 0h0m-23 3h0m21 1h0m21 0h0m17 1h0m-43 1h0m9 1h0m4 1h0m19 1h0m-5 1h0m-40 2h0m2 2h0m38 0h0m-35 1h0m-15 1h0m38 0h0m13 0h0m-45 3h0m1 0h0m34 2h0m9 2h0m14 0h0m-37 2h0m12 0h0m-28 2h0m29 0h0m-7 1h0m-25 1h0m1 1h0m9 1h0m16 0h0m-25 1h0m-14 2h0m5 0h0m44 1h0m10 0h0m-47 1h0m49 0h0m-46 1h0m16 1h0m-18 2h0m12 0h0m86 1h0m-83 1h0m-29 1h0m27 0h0m31 0h0m-42 1h0m8 1h0m20 0h0m-40 1h0m9 0h0m-3 1h0m58 0h0m-69 1h0m49 0h0m-27 2h0m10 1h0m75 0h0m-95 3h0m137 0h0m-86 1h0m19 0h0m-53 1h0m4 0h0m5 0h0m-9 1h0m24 0h0m-20 1h0m-4 1h0m4 0h0m23 0h0m-56 1h0m52 0h0m6 0h0m11 0h0m-67 1h0m75 0h0m-69 1h0m16 0h0m14 0h0m9 0h0m43 0h0m-82 1h0m36 0h0m27 0h0m-46 1h0m32 0h0m14 0h0m49 3h0m-47 2h0m-68 1h0m27 0h0m6 0h0m-30 1h0m15 0h0m11 0h0m7 0h0m10 0h0m44 0h0m40 0h0m-90 1h0m11 0h0m-46 1h0m20 1h0m21 0h0m3 0h0m4 0h0m28 0h0m-34 1h0m32 0h0m-64 1h0m2 0h0m4 0h0m8 0h0m1 1h0m34 0h0m-23 1h0m36 0h0m1 0h0m-43 1h0m35 0h0m-69 1h0m4 0h0m7 0h0m1 0h0m29 0h0m3 0h0m-2 1h0m-37 1h0m2 0h0m49 0h0m29 2h0m14 0h0m32 0h0m-84 1h0m11 0h0m14 0h0m22 0h0m-55 1h0m56 0h0m-74 2h0m-6 1h0m37 0h0m40 0h0m8 0h0m-77 1h0m38 0h0m-37 1h0m48 0h0m-31 1h0m25 0h0m-12 1h0m10 0h0m46 0h0m-84 1h0m11 0h0m26 0h0m20 0h0m2 0h0m2 0h0m43 0h0m-107 1h0m2 0h0m-3 1h0m82 0h0m37 0h0m-133 1h0m16 0h0m1 0h0m26 0h0m-49 1h0m27 0h0m39 0h0m55 0h0m-123 1h0m44 0h0m8 0h0m67 0h0m-106 1h0m49 0h0m31 0h0m-96 1h0m7 0h0m11 0h0m4 0h0m13 0h0m19 0h0m7 0h0m17 0h0m-72 1h0m13 0h0m7 0h0m1 0h0m9 0h0m50 0h0m-41 1h0m-31 1h0m32 0h0m82 0h0m-128 1h0m73 0h0m10 0h0m19 0h0m14 0h0m-97 1h0m4 0h0m3 0h0m3 0h0m8 0h0m6 0h0m21 0h0m59 0h0m18 0h0m9 0h0m-148 1h0m6 0h0m13 0h0m139 0h0m-152 1h0m21 0h0m-8 1h0m90 0h0m5 0h0m-117 1h0m26 0h0m19 0h0m19 0h0m9 0h0m18 0h0m23 0h0m12 0h0m-95 1h0m6 0h0m7 0h0m2 0h0m12 0h0m7 0h0m6 0h0m4 0h0m36 0h0m14 0h0m14 0h0m-87 1h0m45 0h0m33 0h0m4 0h0m-122 1h0m1 0h0m30 0h0m9 0h0m4 0h0m7 0h0m23 0h0m20 0h0m15 0h0m8 1h0m-65 1h0m19 0h0m57 0h0m-115 1h0m4 0h0m9 0h0m23 0h0m7 0h0m16 0h0m16 0h0m15 0h0m-62 1h0m34 0h0m4 0h0m20 0h0m30 0h0m18 0h0m-125 1h0m68 0h0m2 0h0m-81 1h0m4 0h0m33 0h0m7 0h0m21 0h0m4 0h0m11 0h0m7 0h0m1 0h0m16 0h0m6 0h0m-110 1h0m5 0h0m13 0h0m1 0h0m7 0h0m45 0h0m12 0h0m9 0h0m2 0h0m5 0h0m2 0h0m28 0h0m-134 1h0m18 0h0m8 0h0m11 0h0m6 0h0m33 0h0m13 0h0m-106 1h0m7 0h0m31 0h0m3 0h0m7 0h0m48 0h0m2 0h0m5 0h0m13 0h0m4 0h0m9 0h0m2 0h0m36 0h0m-131 1h0m37 0h0m10 0h0m13 0h0m10 0h0m12 0h0m7 0h0m-85 1h0m41 0h0m10 0h0m2 0h0m19 0h0m38 0h0m-78 1h0m28 0h0m3 0h0m12 0h0m8 0h0m35 0h0m-69 1h0m3 0h0m1 0h0m8 0h0m2 0h0m17 0h0m3 0h0m1 0h0m11 0h0m4 0h0m-130 1h0m2 0h0m2 0h0m48 0h0m29 0h0m18 0h0m16 0h0m8 0h0m7 0h0m13 0h0m-145 1h0m23 0h0m15 0h0m2 0h0m22 0h0m20 0h0m14 0h0m4 0h0m2 0h0m8 0h0m1 0h0m27 0h0m-135 1h0m1 0h0m3 0h0m85 0h0m1 0h0m13 0h0m5 0h0m1 0h0m5 0h0m4 0h0m-132 1h0m32 0h0m19 0h0m33 0h0m28 0h0m7 0h0m-105 1h0m11 0h0m81 0h0m8 0h0m16 0h0m31 0h0m-124 1h0m8 0h0m26 0h0m4 0h0m16 0h0m61 0h0m1 0h0m15 0h0m-160 1h0m25 0h0m11 0h0m7 0h0m11 0h0m18 0h0m9 0h0m14 0h0m34 0h0m-122 1h0m12 0h0m2 0h0m2 0h0m24 0h0m1 0h0m13 0h0m13 0h0m41 0h0m10 0h0m1 0h0m14 0h0m-126 1h0m43 0h0m28 0h0m2 0h0m2 0h0m9 0h0m1 0h0m19 0h0m1 0h0m15 0h0m-91 1h0m26 0h0m17 0h0m12 0h0m1 0h0m9 0h0m3 0h0m17 0h0m-131 1h0m21 0h0m2 0h0m55 0h0m3 0h0m3 0h0m2 0h0m11 0h0m7 0h0m4 0h0m1 0h0m3 0h0m6 0h0m3 0h0m23 0h0m11 0h0m22 0h0m11 0h0m-170 1h0m2 0h0m12 0h0m35 0h0m17 0h0m1 0h0m3 0h0m39 0h0m4 0h0m-56 1h0m5 0h0m10 0h0m11 0h0m12 0h0m3 0h0m6 0h0m27 0h0m-58 1h0m1 0h0m4 0h0m3 0h0m13 0h0m16 0h0m9 0h0m9 0h0m-124 1h0m11 0h0m2 0h0m7 0h0m38 0h0m10 0h0m1 0h0m3 0h0m5 0h0m30 0h0m8 0h0m11 0h0m-121 1h0m26 0h0m27 0h0m9 0h0m2 0h0m5 0h0m7 0h0m3 0h0m1 0h0m2 0h0m3 0h0m7 0h0m2 0h0m8 0h0m14 0h0m-100 1h0m2 0h0m2 0h0m19 0h0m6 0h0m4 0h0m3 0h0m29 0h0m3 0h0m1 0h0m1 0h0m32 0h0m-125 1h0m3 0h0m18 0h0m29 0h0m43 0h0m9 0h0m4 0h0m4 0h0m6 0h0m5 0h0m-106 1h0m18 0h0m9 0h0m12 0h0m13 0h0m18 0h0m5 0h0m2 0h0m1 0h0m3 0h0m21 0h0m-138 1h0m1 0h0m4 0h0m5 0h0m9 0h0m8 0h0m5 0h0m17 0h0m12 0h0m21 0h0m9 0h0m5 0h0m4 0h0m3 0h0m5 0h0m6 0h0m23 0h0m10 0h0m4 0h0m16 0h0m-144 1h0m46 0h0m13 0h0m9 0h0m4 0h0m14 0h0m7 0h0m7 0h0m10 0h0m3 0h0m1 0h0m8 0h0m9 0h0m-77 1h0m20 0h0m2 0h0m5 0h0m6 0h0m3 0h0m29 0h0m4 0h0m-112 1h0m9 0h0m36 0h0m2 0h0m7 0h0m5 0h0m26 0h0m3 0h0m4 0h0m1 0h0m5 0h0m2 0h0m12 0h0m-128 1h0m29 0h0m17 0h0m3 0h0m6 0h0m10 0h0m3 0h0m12 0h0m1 0h0m20 0h0m1 0h0m1 0h0m5 0h0m2 0h0m11 0h0m9 0h0m7 0h0m4 0h0m-159 1h0m7 0h0m22 0h0m51 0h0m3 0h0m11 0h0m3 0h0m10 0h0m4 0h0m5 0h0m2 0h0m5 0h0m2 0h0m1 0h0m5 0h0m-122 1h0m7 0h0m14 0h0m52 0h0m1 0h0m5 0h0m8 0h0m1 0h0m10 0h0m1 0h0m1 0h0m1 0h0m1 0h0m5 0h0m1 0h0m2 0h0m5 0h0m5 0h0m-134 1h0m32 0h0m31 0h0m15 0h0m14 0h0m9 0h0m4 0h0m18 0h0m4 0h0m1 0h0m1 0h0m8 0h0m14 0h0m-91 1h0m22 0h0m5 0h0m13 0h0m22 0h0m-109 1h0m20 0h0m22 0h0m1 0h0m41 0h0m9 0h0m14 0h0m1 0h0m6 0h0m10 0h0m3 0h0m46 0h0m-184 1h0m14 0h0m27 0h0m14 0h0m3 0h0m33 0h0m6 0h0m6 0h0m1 0h0m6 0h0m1 0h0m6 0h0m6 0h0m4 0h0m3 0h0m4 0h0m2 0h0m3 0h0m-138 1h0m3 0h0m30 0h0m34 0h0m20 0h0m10 0h0m1 0h0m13 0h0m1 0h0m23 0h0m5 0h0m-87 1h0m5 0h0m34 0h0m1 0h0m1 0h0m3 0h0m3 0h0m10 0h0m7 0h0m14 0h0m1 0h0m-120 1h0m28 0h0m9 0h0m1 0h0m39 0h0m6 0h0m3 0h0m6 0h0m15 0h0m2 0h0m16 0h0m4 0h0m-134 1h0m8 0h0m9 0h0m4 0h0m13 0h0m2 0h0m2 0h0m12 0h0m9 0h0m13 0h0m3 0h0m13 0h0m1 0h0m5 0h0m1 0h0m2 0h0m4 0h0m2 0h0m1 0h0m12 0h0m5 0h0m3 0h0m5 0h0m-132 1h0m18 0h0m29 0h0m8 0h0m24 0h0m8 0h0m4 0h0m17 0h0m5 0h0m1 0h0m3 0h0m7 0h0m1 0h0m9 0h0m1 0h0m7 0h0m1 0h0m-143 1h0m3 0h0m12 0h0m12 0h0m21 0h0m4 0h0m20 0h0m1 0h0m2 0h0m7 0h0m3 0h0m4 0h0m1 0h0m3 0h0m15 0h0m1 0h0m11 0h0m4 0h0m14 0h0m25 0h0m-160 1h0m10 0h0m29 0h0m7 0h0m1 0h0m13 0h0m14 0h0m2 0h0m10 0h0m8 0h0m1 0h0m1 0h0m1 0h0m5 0h0m8 0h0m1 0h0m3 0h0m2 0h0m8 0h0m8 0h0m2 0h0m7 0h0m4 0h0m-121 1h0m1 0h0m16 0h0m4 0h0m11 0h0m11 0h0m1 0h0m3 0h0m4 0h0m15 0h0m1 0h0m4 0h0m1 0h0m1 0h0m6 0h0m4 0h0m23 0h0m1 0h0m1 0h0m6 0h0m-134 1h0m30 0h0m24 0h0m15 0h0m1 0h0m4 0h0m4 0h0m6 0h0m3 0h0m18 0h0m18 0h0m1 0h0m22 0h0m6 0h0m-149 1h0m5 0h0m7 0h0m9 0h0m8 0h0m1 0h0m15 0h0m5 0h0m19 0h0m2 0h0m4 0h0m4 0h0m1 0h0m1 0h0m5 0h0m2 0h0m2 0h0m13 0h0m10 0h0m6 0h0m1 0h0m1 0h0m21 0h0m17 0h0m-160 1h0m13 0h0m30 0h0m18 0h0m2 0h0m15 0h0m9 0h0m4 0h0m35 0h0m2 0h0m33 0h0m9 0h0m-165 1h0m34 0h0m23 0h0m1 0h0m4 0h0m10 0h0m5 0h0m4 0h0m18 0h0m12 0h0m7 0h0m-136 1h0m37 0h0m7 0h0m43 0h0m1 0h0m28 0h0m7 0h0m2 0h0m3 0h0m3 0h0m6 0h0m1 0h0m10 0h0m3 0h0m13 0h0m-162 1h0m9 0h0m25 0h0m32 0h0m10 0h0m19 0h0m1 0h0m13 0h0m3 0h0m4 0h0m14 0h0m1 0h0m2 0h0m4 0h0m2 0h0m-132 1h0m29 0h0m19 0h0m9 0h0m16 0h0m1 0h0m1 0h0m2 0h0m3 0h0m3 0h0m4 0h0m18 0h0m4 0h0m1 0h0m1 0h0m9 0h0m4 0h0m1 0h0m7 0h0m12 0h0m-154 1h0m10 0h0m25 0h0m12 0h0m25 0h0m7 0h0m7 0h0m23 0h0m3 0h0m15 0h0m9 0h0m4 0h0m9 0h0m15 0h0m-160 1h0m28 0h0m2 0h0m1 0h0m6 0h0m21 0h0m7 0h0m4 0h0m9 0h0m2 0h0m4 0h0m36 0h0m2 0h0m9 0h0m4 0h0m32 0h0m-148 1h0m11 0h0m38 0h0m10 0h0m1 0h0m2 0h0m45 0h0m3 0h0m8 0h0m1 0h0m4 0h0m-128 1h0m53 0h0m3 0h0m4 0h0m8 0h0m17 0h0m23 0h0m1 0h0m1 0h0m3 0h0m1 0h0m12 0h0m1 0h0m3 0h0m13 0h0m-149 1h0m7 0h0m7 0h0m6 0h0m15 0h0m6 0h0m19 0h0m1 0h0m8 0h0m1 0h0m21 0h0m2 0h0m23 0h0m3 0h0m4 0h0m2 0h0m6 0h0m2 0h0m11 0h0m-114 1h0m18 0h0m11 0h0m9 0h0m4 0h0m6 0h0m2 0h0m1 0h0m35 0h0m1 0h0m3 0h0m4 0h0m1 0h0m1 0h0m22 0h0m20 0h0m-154 1h0m7 0h0m27 0h0m15 0h0m12 0h0m46 0h0m2 0h0m9 0h0m6 0h0m-137 1h0m29 0h0m8 0h0m5 0h0m18 0h0m1 0h0m4 0h0m4 0h0m41 0h0m2 0h0m1 0h0m16 0h0m-118 1h0m4 0h0m4 0h0m20 0h0m4 0h0m9 0h0m10 0h0m13 0h0m1 0h0m47 0h0m3 0h0m-113 1h0m33 0h0m12 0h0m7 0h0m2 0h0m6 0h0m3 0h0m4 0h0m29 0h0m5 0h0m14 0h0m4 0h0m16 0h0m-157 1h0m14 0h0m29 0h0m11 0h0m2 0h0m1 0h0m10 0h0m5 0h0m2 0h0m2 0h0m8 0h0m4 0h0m1 0h0m79 0h0m-157 1h0m28 0h0m6 0h0m4 0h0m8 0h0m1 0h0m11 0h0m17 0h0m1 0h0m11 0h0m1 0h0m1 0h0m36 0h0m1 0h0m1 0h0m8 0h0m8 0h0m7 0h0m-119 1h0m8 0h0m2 0h0m6 0h0m11 0h0m4 0h0m2 0h0m5 0h0m5 0h0m6 0h0m2 0h0m1 0h0m4 0h0m2 0h0m40 0h0m24 0h0m-153 1h0m7 0h0m3 0h0m17 0h0m5 0h0m16 0h0m5 0h0m2 0h0m16 0h0m7 0h0m1 0h0m46 0h0m6 0h0m-135 1h0m1 0h0m1 0h0m6 0h0m3 0h0m17 0h0m3 0h0m5 0h0m30 0h0m1 0h0m21 0h0m1 0h0m36 0h0m1 0h0m7 0h0m12 0h0m-87 1h0m10 0h0m1 0h0m3 0h0m10 0h0m4 0h0m1 0h0m1 0h0m-88 1h0m5 0h0m8 0h0m48 0h0m1 0h0m8 0h0m52 0h0m2 0h0m1 0h0m4 0h0m1 0h0m2 0h0m4 0h0m6 0h0m-143 1h0m11 0h0m5 0h0m2 0h0m4 0h0m29 0h0m18 0h0m51 0h0m4 0h0m6 0h0m21 0h0m3 0h0m-163 1h0m4 0h0m1 0h0m9 0h0m21 0h0m6 0h0m9 0h0m3 0h0m7 0h0m7 0h0m3 0h0m2 0h0m3 0h0m2 0h0m4 0h0m3 0h0m47 0h0m1 0h0m2 0h0m4 0h0m18 0h0m2 0h0m-155 1h0m9 0h0m10 0h0m12 0h0m32 0h0m18 0h0m47 0h0m2 0h0m4 0h0m4 0h0m9 0h0m2 0h0m-154 1h0m21 0h0m30 0h0m23 0h0m3 0h0m3 0h0m60 0h0m8 0h0m1 0h0m15 0h0m-151 1h0m18 0h0m2 0h0m7 0h0m2 0h0m18 0h0m18 0h0m4 0h0m2 0h0m53 0h0m2 0h0m1 0h0m9 0h0m2 0h0m5 0h0m-151 1h0m12 0h0m35 0h0m16 0h0m69 0h0m11 0h0m11 0h0m26 0h0m28 0h0m-194 1h0m3 0h0m3 0h0m18 0h0m6 0h0m13 0h0m11 0h0m64 0h0m-114 1h0m6 0h0m3 0h0m2 0h0m4 0h0m5 0h0m10 0h0m1 0h0m1 0h0m15 0h0m16 0h0m76 0h0m-162 1h0m9 0h0m6 0h0m4 0h0m11 0h0m6 0h0m10 0h0m25 0h0m2 0h0m1 0h0m3 0h0m9 0h0m73 0h0m-145 1h0m11 0h0m8 0h0m18 0h0m3 0h0m9 0h0m7 0h0m68 0h0m1 0h0m4 0h0m7 0h0m2 0h0m-150 1h0m3 0h0m2 0h0m2 0h0m24 0h0m2 0h0m9 0h0m3 0h0m5 0h0m11 0h0m2 0h0m8 0h0m1 0h0m2 0h0m67 0h0m23 0h0m-157 1h0m3 0h0m9 0h0m13 0h0m24 0h0m12 0h0m2 0h0m10 0h0m56 0h0m3 0h0m1 0h0m6 0h0m4 0h0m-153 1h0m7 0h0m23 0h0m3 0h0m15 0h0m5 0h0m8 0h0m5 0h0m8 0h0m1 0h0m64 0h0m3 0h0m4 0h0m-138 1h0m1 0h0m9 0h0m32 0h0m10 0h0m10 0h0m73 0h0m4 0h0m2 0h0m9 0h0m1 0h0m-153 1h0m9 0h0m24 0h0m9 0h0m5 0h0m15 0h0m8 0h0m5 0h0m3 0h0m64 0h0m2 0h0m-144 1h0m10 0h0m4 0h0m7 0h0m32 0h0m10 0h0m3 0h0m3 0h0m2 0h0m8 0h0m1 0h0m59 0h0m18 0h0m2 0h0m13 0h0m-164 1h0m1 0h0m8 0h0m7 0h0m2 0h0m7 0h0m11 0h0m23 0h0m3 0h0m13 0h0m74 0h0m-153 1h0m13 0h0m29 0h0m4 0h0m7 0h0m4 0h0m8 0h0m8 0h0m3 0h0m4 0h0m50 0h0m20 0h0m66 0h0m-218 1h0m13 0h0m3 0h0m27 0h0m22 0h0m2 0h0m3 0h0m1 0h0m7 0h0m1 0h0m1 0h0m50 0h0m1 0h0m1 0h0m3 0h0m8 0h0m-151 1h0m14 0h0m1 0h0m4 0h0m22 0h0m13 0h0m19 0h0m8 0h0m1 0h0m1 0h0m73 0h0m1 0h0m-147 1h0m23 0h0m5 0h0m4 0h0m26 0h0m15 0h0m62 0h0m2 0h0m7 0h0m18 0h0m-171 1h0m18 0h0m3 0h0m6 0h0m8 0h0m6 0h0m1 0h0m44 0h0m64 0h0m48 0h0m-194 1h0m2 0h0m4 0h0m34 0h0m1 0h0m1 0h0m36 0h0m5 0h0m66 0h0m18 0h0m-171 1h0m12 0h0m2 0h0m2 0h0m14 0h0m7 0h0m6 0h0m14 0h0m1 0h0m1 0h0m10 0h0m10 0h0m3 0h0m4 0h0m1 0h0m3 0h0m2 0h0m1 0h0m1 0h0m28 0h0m1 0h0m3 0h0m15 0h0m1 0h0m47 0h0m30 0h0m-205 1h0m2 0h0m3 0h0m3 0h0m12 0h0m17 0h0m10 0h0m15 0h0m1 0h0m2 0h0m14 0h0m32 0h0m24 0h0m11 0h0m-161 1h0m28 0h0m6 0h0m9 0h0m25 0h0m15 0h0m4 0h0m1 0h0m49 0h0m1 0h0m1 0h0m1 0h0m1 0h0m6 0h0m3 0h0m-140 1h0m7 0h0m8 0h0m8 0h0m7 0h0m5 0h0m1 0h0m4 0h0m28 0h0m1 0h0m3 0h0m2 0h0m54 0h0m5 0h0m1 0h0m5 0h0m26 0h0m-172 1h0m10 0h0m7 0h0m20 0h0m3 0h0m5 0h0m10 0h0m24 0h0m8 0h0m1 0h0m1 0h0m43 0h0m2 0h0m4 0h0m3 0h0m1 0h0m-140 1h0m13 0h0m1 0h0m5 0h0m1 0h0m1 0h0m10 0h0m1 0h0m12 0h0m1 0h0m7 0h0m6 0h0m5 0h0m12 0h0m7 0h0m3 0h0m1 0h0m1 0h0m40 0h0m2 0h0m6 0h0m3 0h0m2 0h0m-140 1h0m9 0h0m23 0h0m2 0h0m1 0h0m10 0h0m3 0h0m21 0h0m4 0h0m8 0h0m4 0h0m1 0h0m1 0h0m40 0h0m7 0h0m5 0h0m22 0h0m-158 1h0m5 0h0m2 0h0m9 0h0m17 0h0m3 0h0m4 0h0m24 0h0m3 0h0m1 0h0m3 0h0m7 0h0m5 0h0m70 0h0m22 0h0m-179 1h0m6 0h0m5 0h0m4 0h0m1 0h0m3 0h0m2 0h0m23 0h0m9 0h0m9 0h0m18 0h0m1 0h0m7 0h0m3 0h0m50 0h0m-142 1h0m10 0h0m6 0h0m4 0h0m6 0h0m2 0h0m1 0h0m6 0h0m56 0h0m47 0h0m-135 1h0m10 0h0m4 0h0m18 0h0m2 0h0m33 0h0m2 0h0m1 0h0m7 0h0m1 0h0m55 0h0m18 0h0m-157 1h0m4 0h0m6 0h0m10 0h0m4 0h0m10 0h0m3 0h0m7 0h0m13 0h0m11 0h0m14 0h0m55 0h0m10 0h0m7 0h0m3 0h0m4 0h0m26 0h0m-182 1h0m5 0h0m1 0h0m3 0h0m4 0h0m11 0h0m5 0h0m16 0h0m4 0h0m13 0h0m9 0h0m11 0h0m1 0h0m1 0h0m1 0h0m4 0h0m3 0h0m2 0h0m1 0h0m1 0h0m32 0h0m6 0h0m1 0h0m27 0h0m-163 1h0m4 0h0m8 0h0m1 0h0m5 0h0m4 0h0m2 0h0m25 0h0m6 0h0m10 0h0m10 0h0m7 0h0m3 0h0m1 0h0m4 0h0m3 0h0m39 0h0m12 0h0m5 0h0m3 0h0m-147 1h0m6 0h0m1 0h0m1 0h0m3 0h0m7 0h0m3 0h0m2 0h0m10 0h0m26 0h0m4 0h0m5 0h0m3 0h0m4 0h0m12 0h0m3 0h0m3 0h0m30 0h0m5 0h0m6 0h0m16 0h0m-146 1h0m3 0h0m23 0h0m4 0h0m8 0h0m3 0h0m4 0h0m1 0h0m15 0h0m2 0h0m2 0h0m4 0h0m9 0h0m4 0h0m1 0h0m4 0h0m1 0h0m1 0h0m27 0h0m1 0h0m1 0h0m10 0h0m8 0h0m-144 1h0m23 0h0m4 0h0m2 0h0m14 0h0m35 0h0m44 0h0m10 0h0m7 0h0m2 0h0m10 0h0m-148 1h0m3 0h0m20 0h0m11 0h0m6 0h0m12 0h0m8 0h0m3 0h0m7 0h0m1 0h0m6 0h0m2 0h0m19 0h0m2 0h0m1 0h0m1 0h0m18 0h0m5 0h0m-125 1h0m19 0h0m2 0h0m8 0h0m25 0h0m2 0h0m6 0h0m4 0h0m5 0h0m4 0h0m23 0h0m23 0h0m1 0h0m10 0h0m1 0h0m7 0h0m5 0h0m-143 1h0m3 0h0m2 0h0m4 0h0m7 0h0m8 0h0m9 0h0m1 0h0m5 0h0m4 0h0m5 0h0m3 0h0m28 0h0m18 0h0m3 0h0m1 0h0m1 0h0m1 0h0m15 0h0m2 0h0m8 0h0m-115 1h0m15 0h0m1 0h0m10 0h0m7 0h0m9 0h0m2 0h0m5 0h0m10 0h0m3 0h0m22 0h0m2 0h0m1 0h0m14 0h0m7 0h0m4 0h0m19 0h0m-145 1h0m7 0h0m7 0h0m1 0h0m14 0h0m10 0h0m8 0h0m2 0h0m19 0h0m14 0h0m5 0h0m1 0h0m4 0h0m2 0h0m8 0h0m17 0h0m2 0h0m5 0h0m2 0h0m-125 1h0m5 0h0m2 0h0m3 0h0m20 0h0m8 0h0m7 0h0m8 0h0m3 0h0m4 0h0m9 0h0m4 0h0m9 0h0m6 0h0m6 0h0m3 0h0m18 0h0m3 0h0m4 0h0m2 0h0m1 0h0m4 0h0m-122 1h0m3 0h0m1 0h0m3 0h0m15 0h0m12 0h0m5 0h0m16 0h0m14 0h0m5 0h0m2 0h0m45 0h0m26 0h0m-163 1h0m4 0h0m6 0h0m11 0h0m5 0h0m4 0h0m1 0h0m12 0h0m1 0h0m2 0h0m15 0h0m4 0h0m19 0h0m3 0h0m4 0h0m3 0h0m1 0h0m19 0h0m1 0h0m2 0h0m3 0h0m1 0h0m9 0h0m-132 1h0m16 0h0m10 0h0m21 0h0m3 0h0m1 0h0m22 0h0m11 0h0m1 0h0m5 0h0m1 0h0m1 0h0m1 0h0m3 0h0m5 0h0m7 0h0m1 0h0m1 0h0m7 0h0m1 0h0m4 0h0m5 0h0m4 0h0m1 0h0m2 0h0m4 0h0m5 0h0m-141 1h0m2 0h0m11 0h0m4 0h0m6 0h0m5 0h0m2 0h0m3 0h0m3 0h0m22 0h0m10 0h0m8 0h0m5 0h0m4 0h0m3 0h0m1 0h0m4 0h0m4 0h0m1 0h0m1 0h0m7 0h0m8 0h0m1 0h0m15 0h0m3 0h0m6 0h0m3 0h0m14 0h0m6 0h0m-162 1h0m14 0h0m1 0h0m13 0h0m5 0h0m3 0h0m8 0h0m1 0h0m3 0h0m5 0h0m3 0h0m1 0h0m18 0h0m17 0h0m2 0h0m9 0h0m6 0h0m3 0h0m1 0h0m3 0h0m3 0h0m-118 1h0m10 0h0m11 0h0m2 0h0m1 0h0m12 0h0m9 0h0m1 0h0m27 0h0m2 0h0m22 0h0m3 0h0m4 0h0m6 0h0m11 0h0m17 0h0m50 0h0m-182 1h0m3 0h0m15 0h0m4 0h0m2 0h0m17 0h0m1 0h0m7 0h0m1 0h0m19 0h0m11 0h0m1 0h0m9 0h0m3 0h0m13 0h0m4 0h0m3 0h0m18 0h0m13 0h0m1 0h0m2 0h0m12 0h0m-163 1h0m4 0h0m4 0h0m3 0h0m4 0h0m10 0h0m1 0h0m5 0h0m7 0h0m1 0h0m15 0h0m8 0h0m34 0h0m3 0h0m1 0h0m7 0h0m7 0h0m7 0h0m-94 1h0m1 0h0m4 0h0m6 0h0m2 0h0m4 0h0m2 0h0m11 0h0m7 0h0m3 0h0m7 0h0m18 0h0m6 0h0m9 0h0m7 0h0m-117 1h0m16 0h0m2 0h0m3 0h0m3 0h0m8 0h0m14 0h0m44 0h0m18 0h0m19 0h0m-122 1h0m8 0h0m8 0h0m9 0h0m1 0h0m6 0h0m19 0h0m10 0h0m5 0h0m8 0h0m7 0h0m8 0h0m2 0h0m1 0h0m12 0h0m5 0h0m28 0h0m-138 1h0m1 0h0m3 0h0m6 0h0m4 0h0m1 0h0m1 0h0m1 0h0m4 0h0m1 0h0m2 0h0m5 0h0m5 0h0m26 0h0m7 0h0m7 0h0m2 0h0m3 0h0m7 0h0m3 0h0m15 0h0m34 0h0m-123 1h0m1 0h0m5 0h0m17 0h0m2 0h0m15 0h0m11 0h0m13 0h0m13 0h0m2 0h0m2 0h0m14 0h0m1 0h0m3 0h0m3 0h0m7 0h0m7 0h0m-131 1h0m1 0h0m5 0h0m3 0h0m1 0h0m9 0h0m2 0h0m1 0h0m1 0h0m7 0h0m7 0h0m3 0h0m14 0h0m4 0h0m18 0h0m9 0h0m9 0h0m9 0h0m7 0h0m1 0h0m5 0h0m-123 1h0m1 0h0m3 0h0m4 0h0m26 0h0m18 0h0m21 0h0m5 0h0m1 0h0m5 0h0m16 0h0m3 0h0m5 0h0m13 0h0m1 0h0m-120 1h0m6 0h0m5 0h0m3 0h0m13 0h0m19 0h0m1 0h0m6 0h0m3 0h0m4 0h0m2 0h0m13 0h0m4 0h0m11 0h0m3 0h0m4 0h0m10 0h0m3 0h0m7 0h0m3 0h0m8 0h0m2 0h0m4 0h0m-118 1h0m3 0h0m10 0h0m3 0h0m1 0h0m10 0h0m5 0h0m1 0h0m23 0h0m7 0h0m13 0h0m20 0h0m1 0h0m1 0h0m11 0h0m32 0h0m-159 1h0m5 0h0m12 0h0m4 0h0m18 0h0m2 0h0m3 0h0m13 0h0m20 0h0m16 0h0m6 0h0m5 0h0m5 0h0m10 0h0m1 0h0m2 0h0m9 0h0m1 0h0m3 0h0m3 0h0m-125 1h0m4 0h0m4 0h0m7 0h0m9 0h0m1 0h0m9 0h0m3 0h0m8 0h0m12 0h0m4 0h0m5 0h0m3 0h0m34 0h0m6 0h0m28 0h0m-143 1h0m8 0h0m2 0h0m6 0h0m8 0h0m4 0h0m2 0h0m4 0h0m16 0h0m2 0h0m10 0h0m44 0h0m3 0h0m9 0h0m1 0h0m15 0h0m-139 1h0m4 0h0m11 0h0m4 0h0m6 0h0m3 0h0m2 0h0m4 0h0m2 0h0m3 0h0m1 0h0m4 0h0m2 0h0m6 0h0m1 0h0m8 0h0m12 0h0m28 0h0m4 0h0m5 0h0m3 0h0m14 0h0m1 0h0m12 0h0m-132 1h0m1 0h0m1 0h0m15 0h0m1 0h0m6 0h0m4 0h0m15 0h0m9 0h0m4 0h0m9 0h0m13 0h0m47 0h0m12 0h0m7 0h0m6 0h0m-159 1h0m3 0h0m3 0h0m16 0h0m1 0h0m5 0h0m2 0h0m5 0h0m5 0h0m7 0h0m3 0h0m16 0h0m12 0h0m8 0h0m36 0h0m9 0h0m-124 1h0m6 0h0m3 0h0m8 0h0m1 0h0m3 0h0m14 0h0m5 0h0m1 0h0m7 0h0m2 0h0m20 0h0m2 0h0m22 0h0m18 0h0m2 0h0m43 0h0m-165 1h0m1 0h0m13 0h0m6 0h0m8 0h0m1 0h0m7 0h0m5 0h0m28 0h0m2 0h0m3 0h0m2 0h0m15 0h0m11 0h0m6 0h0m8 0h0m6 0h0m5 0h0m23 0h0m-150 1h0m9 0h0m4 0h0m3 0h0m2 0h0m5 0h0m4 0h0m2 0h0m1 0h0m4 0h0m1 0h0m32 0h0m7 0h0m22 0h0m12 0h0m1 0h0m8 0h0m1 0h0m9 0h0m30 0h0m-156 1h0m3 0h0m1 0h0m11 0h0m7 0h0m6 0h0m5 0h0m2 0h0m27 0h0m7 0h0m17 0h0m9 0h0m19 0h0m24 0h0m12 0h0m2 0h0m11 0h0m2 0h0m-163 1h0m7 0h0m7 0h0m15 0h0m9 0h0m3 0h0m4 0h0m2 0h0m7 0h0m4 0h0m2 0h0m2 0h0m8 0h0m3 0h0m10 0h0m5 0h0m7 0h0m12 0h0m14 0h0m25 0h0m3 0h0m3 0h0m-149 1h0m6 0h0m2 0h0m4 0h0m3 0h0m1 0h0m1 0h0m1 0h0m15 0h0m2 0h0m8 0h0m6 0h0m7 0h0m2 0h0m18 0h0m7 0h0m15 0h0m2 0h0m11 0h0m2 0h0m7 0h0m8 0h0m6 0h0m-139 1h0m6 0h0m2 0h0m4 0h0m1 0h0m4 0h0m4 0h0m6 0h0m5 0h0m5 0h0m6 0h0m9 0h0m8 0h0m14 0h0m6 0h0m25 0h0m19 0h0m2 0h0m6 0h0m5 0h0m8 0h0m29 0h0m-167 1h0m9 0h0m8 0h0m2 0h0m27 0h0m4 0h0m23 0h0m27 0h0m54 0h0m-160 1h0m5 0h0m5 0h0m3 0h0m1 0h0m1 0h0m11 0h0m9 0h0m4 0h0m19 0h0m27 0h0m18 0h0m8 0h0m5 0h0m28 0h0m1 0h0m14 0h0m-150 1h0m8 0h0m14 0h0m1 0h0m4 0h0m3 0h0m1 0h0m10 0h0m2 0h0m10 0h0m5 0h0m10 0h0m18 0h0m10 0h0m35 0h0m2 0h0m20 0h0m1 0h0m6 0h0m-171 1h0m3 0h0m18 0h0m3 0h0m9 0h0m12 0h0m18 0h0m6 0h0m27 0h0m32 0h0m13 0h0m8 0h0m5 0h0m-152 1h0m1 0h0m6 0h0m9 0h0m24 0h0m1 0h0m7 0h0m24 0h0m1 0h0m7 0h0m9 0h0m8 0h0m21 0h0m9 0h0m14 0h0m7 0h0m8 0h0m-130 1h0m1 0h0m5 0h0m2 0h0m5 0h0m8 0h0m1 0h0m27 0h0m59 0h0m8 0h0m8 0h0m4 0h0m11 0h0m12 0h0m-175 1h0m4 0h0m1 0h0m21 0h0m6 0h0m1 0h0m7 0h0m20 0h0m4 0h0m19 0h0m15 0h0m39 0h0m12 0h0m14 0h0m-148 1h0m10 0h0m2 0h0m1 0h0m5 0h0m6 0h0m7 0h0m17 0h0m2 0h0m27 0h0m20 0h0m15 0h0m12 0h0m7 0h0m4 0h0m11 0h0m-165 1h0m11 0h0m5 0h0m9 0h0m3 0h0m1 0h0m1 0h0m7 0h0m8 0h0m9 0h0m19 0h0m18 0h0m13 0h0m29 0h0m11 0h0m7 0h0m10 0h0m-149 1h0m6 0h0m25 0h0m2 0h0m4 0h0m6 0h0m2 0h0m23 0h0m12 0h0m10 0h0m16 0h0m25 0h0m3 0h0m1 0h0m6 0h0m-142 1h0m4 0h0m22 0h0m16 0h0m5 0h0m7 0h0m1 0h0m9 0h0m57 0h0m7 0h0m4 0h0m11 0h0m7 0h0m1 0h0m2 0h0m-154 1h0m7 0h0m1 0h0m8 0h0m1 0h0m3 0h0m4 0h0m11 0h0m4 0h0m1 0h0m13 0h0m12 0h0m2 0h0m11 0h0m7 0h0m19 0h0m17 0h0m18 0h0m4 0h0m16 0h0m16 0h0m-183 1h0m12 0h0m6 0h0m5 0h0m9 0h0m2 0h0m9 0h0m3 0h0m3 0h0m41 0h0m21 0h0m4 0h0m9 0h0m4 0h0m4 0h0m1 0h0m4 0h0m4 0h0m14 0h0m5 0h0m11 0h0m7 0h0m-178 1h0m17 0h0m6 0h0m5 0h0m1 0h0m1 0h0m2 0h0m3 0h0m14 0h0m5 0h0m19 0h0m11 0h0m1 0h0m9 0h0m15 0h0m21 0h0m3 0h0m1 0h0m3 0h0m22 0h0m6 0h0m-165 1h0m1 0h0m28 0h0m3 0h0m5 0h0m1 0h0m3 0h0m3 0h0m3 0h0m9 0h0m6 0h0m16 0h0m15 0h0m21 0h0m3 0h0m17 0h0m1 0h0m2 0h0m3 0h0m2 0h0m11 0h0m11 0h0m9 0h0m-175 1h0m2 0h0m2 0h0m4 0h0m2 0h0m3 0h0m1 0h0m4 0h0m1 0h0m5 0h0m1 0h0m13 0h0m8 0h0m12 0h0m17 0h0m39 0h0m4 0h0m2 0h0m6 0h0m6 0h0m11 0h0m5 0h0m7 0h0m1 0h0m-154 1h0m12 0h0m4 0h0m6 0h0m9 0h0m12 0h0m2 0h0m3 0h0m27 0h0m3 0h0m3 0h0m39 0h0m14 0h0m5 0h0m5 0h0m24 0h0m-167 1h0m6 0h0m11 0h0m4 0h0m3 0h0m4 0h0m15 0h0m3 0h0m1 0h0m25 0h0m33 0h0m6 0h0m3 0h0m4 0h0m10 0h0m1 0h0m5 0h0m5 0h0m2 0h0m19 0h0m1 0h0m2 0h0m28 0h0m-179 1h0m6 0h0m1 0h0m4 0h0m1 0h0m1 0h0m9 0h0m1 0h0m1 0h0m3 0h0m5 0h0m10 0h0m5 0h0m27 0h0m4 0h0m31 0h0m2 0h0m2 0h0m5 0h0m1 0h0m3 0h0m3 0h0m1 0h0m1 0h0m1 0h0m-141 1h0m4 0h0m6 0h0m2 0h0m6 0h0m6 0h0m7 0h0m5 0h0m10 0h0m88 0h0m1 0h0m24 0h0m2 0h0m-154 1h0m6 0h0m10 0h0m3 0h0m4 0h0m3 0h0m7 0h0m11 0h0m15 0h0m24 0h0m18 0h0m8 0h0m20 0h0m1 0h0m1 0h0m19 0h0m5 0h0m2 0h0m-163 1h0m5 0h0m3 0h0m9 0h0m7 0h0m14 0h0m6 0h0m3 0h0m6 0h0m17 0h0m15 0h0m18 0h0m5 0h0m3 0h0m10 0h0m3 0h0m5 0h0m29 0h0m5 0h0m13 0h0m3 0h0m-165 1h0m2 0h0m4 0h0m4 0h0m1 0h0m19 0h0m6 0h0m1 0h0m24 0h0m10 0h0m29 0h0m7 0h0m1 0h0m1 0h0m7 0h0m2 0h0m5 0h0m3 0h0m1 0h0m1 0h0m1 0h0m16 0h0m2 0h0m1 0h0m13 0h0m-174 1h0m22 0h0m5 0h0m1 0h0m9 0h0m8 0h0m17 0h0m46 0h0m3 0h0m1 0h0m6 0h0m11 0h0m5 0h0m32 0h0m-170 1h0m5 0h0m5 0h0m5 0h0m1 0h0m1 0h0m8 0h0m13 0h0m16 0h0m3 0h0m64 0h0m1 0h0m16 0h0m2 0h0m1 0h0m1 0h0m3 0h0m1 0h0m3 0h0m8 0h0m5 0h0m1 0h0m-137 1h0m1 0h0m13 0h0m1 0h0m33 0h0m2 0h0m15 0h0m19 0h0m4 0h0m1 0h0m2 0h0m20 0h0m14 0h0m6 0h0m3 0h0m2 0h0m5 0h0m-162 1h0m3 0h0m8 0h0m1 0h0m2 0h0m1 0h0m14 0h0m3 0h0m5 0h0m6 0h0m5 0h0m15 0h0m3 0h0m48 0h0m3 0h0m4 0h0m12 0h0m14 0h0m2 0h0m12 0h0m-153 1h0m2 0h0m4 0h0m5 0h0m14 0h0m40 0h0m9 0h0m17 0h0m18 0h0m15 0h0m5 0h0m1 0h0m3 0h0m1 0h0m2 0h0m5 0h0m33 0h0m-183 1h0m11 0h0m26 0h0m3 0h0m4 0h0m4 0h0m7 0h0m8 0h0m16 0h0m13 0h0m3 0h0m9 0h0m16 0h0m4 0h0m20 0h0m1 0h0m1 0h0m8 0h0m3 0h0m10 0h0m5 0h0m-171 1h0m3 0h0m1 0h0m3 0h0m1 0h0m7 0h0m7 0h0m12 0h0m16 0h0m8 0h0m24 0h0m24 0h0m15 0h0m5 0h0m3 0h0m9 0h0m2 0h0m5 0h0m3 0h0m1 0h0m9 0h0m2 0h0m-162 1h0m6 0h0m13 0h0m14 0h0m12 0h0m8 0h0m12 0h0m28 0h0m8 0h0m11 0h0m5 0h0m5 0h0m8 0h0m1 0h0m3 0h0m1 0h0m5 0h0m1 0h0m8 0h0m19 0h0m-161 1h0m2 0h0m6 0h0m2 0h0m6 0h0m5 0h0m2 0h0m6 0h0m3 0h0m7 0h0m9 0h0m1 0h0m5 0h0m52 0h0m3 0h0m12 0h0m12 0h0m1 0h0m7 0h0m-142 1h0m12 0h0m1 0h0m2 0h0m4 0h0m6 0h0m8 0h0m2 0h0m6 0h0m5 0h0m10 0h0m8 0h0m48 0h0m8 0h0m2 0h0m5 0h0m2 0h0m-121 1h0m4 0h0m1 0h0m1 0h0m4 0h0m2 0h0m4 0h0m1 0h0m3 0h0m18 0h0m4 0h0m37 0h0m24 0h0m2 0h0m13 0h0m3 0h0m1 0h0m16 0h0m-155 1h0m6 0h0m24 0h0m1 0h0m2 0h0m3 0h0m2 0h0m23 0h0m1 0h0m15 0h0m14 0h0m1 0h0m13 0h0m17 0h0m5 0h0m2 0h0m4 0h0m4 0h0m8 0h0m6 0h0m1 0h0m2 0h0m1 0h0m14 0h0m-168 1h0m8 0h0m8 0h0m7 0h0m2 0h0m24 0h0m9 0h0m53 0h0m7 0h0m23 0h0m4 0h0m9 0h0m4 0h0m-151 1h0m7 0h0m4 0h0m5 0h0m5 0h0m1 0h0m2 0h0m7 0h0m12 0h0m5 0h0m16 0h0m2 0h0m1 0h0m43 0h0m4 0h0m4 0h0m1 0h0m1 0h0m8 0h0m4 0h0m6 0h0m1 0h0m1 0h0m5 0h0m2 0h0m3 0h0m5 0h0m4 0h0m-163 1h0m3 0h0m6 0h0m2 0h0m5 0h0m3 0h0m1 0h0m1 0h0m16 0h0m68 0h0m14 0h0m7 0h0m2 0h0m3 0h0m11 0h0m5 0h0m10 0h0m1 0h0m6 0h0m-168 1h0m16 0h0m41 0h0m25 0h0m12 0h0m17 0h0m2 0h0m4 0h0m2 0h0m5 0h0m5 0h0m1 0h0m7 0h0m7 0h0m4 0h0m-141 1h0m13 0h0m3 0h0m1 0h0m1 0h0m7 0h0m13 0h0m18 0h0m37 0h0m1 0h0m15 0h0m9 0h0m5 0h0m22 0h0m6 0h0m-142 1h0m12 0h0m2 0h0m6 0h0m2 0h0m12 0h0m5 0h0m1 0h0m38 0h0m4 0h0m6 0h0m21 0h0m9 0h0m8 0h0m5 0h0m10 0h0m-157 1h0m17 0h0m1 0h0m10 0h0m8 0h0m15 0h0m14 0h0m14 0h0m1 0h0m7 0h0m45 0h0m6 0h0m6 0h0m7 0h0m-135 1h0m6 0h0m4 0h0m9 0h0m6 0h0m41 0h0m28 0h0m22 0h0m25 0h0m9 0h0m-154 1h0m1 0h0m2 0h0m7 0h0m25 0h0m19 0h0m2 0h0m11 0h0m19 0h0m26 0h0m5 0h0m47 0h0m-155 1h0m4 0h0m1 0h0m1 0h0m3 0h0m2 0h0m8 0h0m1 0h0m2 0h0m1 0h0m3 0h0m4 0h0m3 0h0m101 0h0m-155 1h0m12 0h0m4 0h0m3 0h0m21 0h0m14 0h0m55 0h0m6 0h0m2 0h0m11 0h0m7 0h0m3 0h0m-138 1h0m3 0h0m5 0h0m8 0h0m23 0h0m1 0h0m4 0h0m5 0h0m2 0h0m1 0h0m10 0h0m2 0h0m40 0h0m37 0h0m-139 1h0m5 0h0m2 0h0m3 0h0m3 0h0m7 0h0m2 0h0m2 0h0m6 0h0m14 0h0m10 0h0m2 0h0m50 0h0m28 0h0m8 0h0m-132 1h0m4 0h0m6 0h0m12 0h0m1 0h0m2 0h0m6 0h0m10 0h0m6 0h0m1 0h0m60 0h0m7 0h0m4 0h0m3 0h0m17 0h0m-140 1h0m5 0h0m5 0h0m6 0h0m4 0h0m5 0h0m1 0h0m1 0h0m6 0h0m2 0h0m5 0h0m74 0h0m-121 1h0m12 0h0m1 0h0m5 0h0m4 0h0m4 0h0m96 0h0m13 0h0m11 0h0m12 0h0m-152 1h0m1 0h0m3 0h0m4 0h0m3 0h0m6 0h0m10 0h0m80 0h0m7 0h0m-124 1h0m11 0h0m3 0h0m7 0h0m2 0h0m2 0h0m7 0h0m4 0h0m6 0h0m-36 1h0m17 0h0m6 0h0m4 0h0m3 0h0m3 0h0m1 0h0m2 0h0m80 0h0m22 0h0m37 0h0m-179 1h0m11 0h0m7 0h0m8 0h0m3 0h0m1 0h0m7 0h0m-34 1h0m1 0h0m6 0h0m8 0h0m12 0h0m5 0h0m1 0h0m90 0h0m19 0h0m-141 1h0m3 0h0m6 0h0m5 0h0m4 0h0m125 0h0m-149 1h0m9 0h0m13 0h0m4 0h0m108 0h0m-126 1h0m2 0h0m14 0h0m5 0h0m3 0h0m108 0h0m-139 1h0m18 0h0m3 0h0m2 0h0m110 0h0m-124 1h0m10 0h0m5 0h0m120 0h0m-140 1h0m8 0h0m10 0h0m3 0h0m1 0h0m122 0h0m-131 1h0m6 0h0m-14 1h0m1 0h0m4 0h0m133 0h0m-147 1h0m5 0h0m2 0h0m7 0h0m1 0h0m5 0h0m119 0h0m-140 1h0m15 0h0m-9 1h0m3 0h0m1 0h0m3 0h0m-11 1h0m11 0h0m1 0h0m-13 1h0m136 0h0m-132 1h0m5 0h0m4 0h0m-13 1h0m3 0h0m126 0h0m1 0h0m1 0h0m-2 1h0m-127 1h0m4 0h0m5 0h0m2 0h0m116 0h0m5 0h0m-130 1h0m124 0h0m5 0h0m-128 1h0m3 0h0m-9 1h0m2 0h0m6 0h0m6 0h0m114 0h0m-122 1h0m125 1h0m1 0h0m-132 1h0m6 0h0m9 0h0m-14 1h0m11 0h0m3 0h0m112 0h0m5 1h0m-120 1h0m1 0h0m108 0h0m3 1h0m11 1h0m-17 1h0m7 0h0m1 0h0m7 0h0m-126 1h0m2 0h0m5 0h0m0 1h0m106 0h0m-104 1h0m98 0h0m2 0h0m17 0h0m1 0h0m-129 1h0m3 0h0m1 0h0m105 0h0m5 0h0m-3 1h0m-101 1h0m98 0h0m-109 1h0m9 0h0m2 0h0m93 0h0m2 0h0m16 0h0m9 1h0m-133 1h0m106 0h0m-5 1h0"/>
<path stroke="#0000ff" stroke-width="1" d="M1457 441.5h8m-8 1h8m-8 1h8m-7 1h7m5 2h7m-22 2h12m5 0h11m-36 1h20m-26 1h14m3 0h8m2 0h7m1 0h7m1 0h15m-62 1h20m1 0h8m1 0h8m11 0h7m19 0h14m-89 1h7m9 0h22m3 0h26m1 0h21m-92 1h8m17 0h29m1 0h18m2 0h20m-80 1h9m2 0h11m1 0h19m2 0h14m1 0h11m-70 1h14m1 0h7m1 0h35m1 0h13m9 0h11m-94 1h27m1 0h46m6 0h8m-94 1h10m9 0h39m1 0h22m5 0h8m-108 1h9m9 0h77m-77 1h67m1 0h17m-83 1h12m8 0h67m-87 1h12m1 0h74m-92 1h17m1 0h70m-102 1h10m2 0h90m1 0h10m-101 1h90m2 0h9m-108 1h14m1 0h74m1 0h7m1 0h8m-102 1h22m1 0h73m-95 1h21m2 0h62m-85 1h8m1 0h85m-102 1h11m5 0h85m-98 1h98m-88 1h7m1 0h78m-75 1h72m-80 1h79m-80 1h78m-68 1h13m1 0h54m-85 1h7m20 0h55m-82 1h7m20 0h49m-66 1h9m2 0h7m1 0h28m6 0h18m-71 1h13m1 0h16m1 0h21m1 0h10m-59 1h9m1 0h10m-28 1h17m17 0h7m1 0h11m-53 1h11m1 0h8m17 0h8m-24 1h9"/>
<path stroke="#0000ff" stroke-linecap="square" stroke-width="2" d="M1501 436h0m-11 1h0m11 0h0m-25 1h0m20 0h0m-26 2h0m16 0h0m30 0h0m1 0h0m2 0h0m-58 1h0m3 0h0m29 1h0m-12 1h0m44 0h0m-46 1h0m5 0h0m1 0h0m8 0h0m31 0h0m-68 1h0m8 0h0m3 0h0m28 0h0m7 0h0m16 0h0m-68 1h0m4 0h0m12 0h0m2 0h0m3 0h0m2 0h0m1 0h0m6 0h0m7 0h0m15 0h0m2 0h0m10 0h0m-66 1h0m5 0h0m19 0h0m4 0h0m4 0h0m15 0h0m45 0h0m3 0h0m-87 1h0m5 0h0m1 0h0m2 0h0m11 0h0m4 0h0m1 0h0m1 0h0m18 0h0m2 0h0m2 0h0m19 0h0m4 0h0m-82 1h0m1 0h0m3 0h0m2 0h0m3 0h0m20 0h0m4 0h0m3 0h0m2 0h0m9 0h0m11 0h0m1 0h0m11 0h0m1 0h0m1 0h0m-44 1h0m2 0h0m3 0h0m5 0h0m3 0h0m5 0h0m2 0h0m1 0h0m4 0h0m12 0h0m1 0h0m5 0h0m8 0h0m2 0h0m-47 1h0m2 0h0m15 0h0m1 0h0m2 0h0m3 0h0m7 0h0m7 0h0m4 0h0m9 0h0m-82 1h0m1 0h0m1 0h0m1 0h0m1 0h0m30 0h0m1 0h0m3 0h0m11 0h0m3 0h0m3 0h0m7 0h0m2 0h0m18 0h0m2 0h0m-83 1h0m3 0h0m4 0h0m1 0h0m2 0h0m71 0h0m5 0h0m3 0h0m1 0h0m-102 1h0m2 0h0m7 0h0m2 0h0m4 0h0m4 0h0m1 0h0m67 0h0m1 0h0m3 0h0m1 0h0m4 0h0m7 0h0m-103 1h0m5 0h0m3 0h0m2 0h0m1 0h0m82 0h0m4 0h0m4 0h0m2 0h0m-108 1h0m1 0h0m4 0h0m9 0h0m1 0h0m92 0h0m2 0h0m1 0h0m-110 1h0m1 0h0m1 0h0m5 0h0m5 0h0m1 0h0m2 0h0m10 0h0m2 0h0m67 0h0m-93 1h0m3 0h0m5 0h0m15 0h0m2 0h0m1 0h0m1 0h0m66 0h0m1 0h0m4 0h0m1 0h0m-102 1h0m2 0h0m2 0h0m3 0h0m3 0h0m1 0h0m3 0h0m1 0h0m81 0h0m2 0h0m3 0h0m3 0h0m8 0h0m-112 1h0m2 0h0m31 0h0m2 0h0m70 0h0m3 0h0m5 0h0m-106 1h0m2 0h0m3 0h0m1 0h0m22 0h0m1 0h0m76 0h0m-107 1h0m1 0h0m99 0h0m6 0h0m2 0h0m-111 1h0m1 0h0m1 0h0m5 0h0m95 0h0m3 0h0m3 0h0m-109 1h0m2 0h0m3 0h0m2 0h0m1 0h0m-1 1h0m-2 1h0m101 0h0m2 0h0m1 0h0m-109 1h0m4 0h0m1 0h0m91 0h0m1 0h0m1 0h0m3 0h0m1 0h0m1 0h0m-98 1h0m93 0h0m4 0h0m-100 1h0m2 0h0m11 0h0m-1 1h0m90 0h0m1 0h0m-99 1h0m4 0h0m2 0h0m-2 1h0m10 0h0m3 0h0m76 0h0m-89 1h0m4 0h0m4 0h0m2 0h0m-14 1h0m1 0h0m2 0h0m5 0h0m86 0h0m-93 1h0m10 0h0m1 0h0m6 0h0m-17 1h0m3 0h0m1 0h0m3 0h0m13 0h0m5 0h0m1 0h0m1 0h0m62 0h0m-78 1h0m3 0h0m1 0h0m6 0h0m1 0h0m4 0h0m54 0h0m1 0h0m7 0h0m-91 1h0m6 0h0m5 0h0m5 0h0m2 0h0m4 0h0m1 0h0m6 0h0m35 0h0m1 0h0m19 0h0m4 0h0m-85 1h0m1 0h0m6 0h0m1 0h0m2 0h0m51 0h0m17 0h0m1 0h0m1 0h0m2 0h0m-78 1h0m9 0h0m1 0h0m24 0h0m8 0h0m2 0h0m3 0h0m3 0h0m3 0h0m1 0h0m1 0h0m4 0h0m11 0h0m-77 1h0m13 0h0m2 0h0m1 0h0m14 0h0m2 0h0m11 0h0m4 0h0m3 0h0m1 0h0m3 0h0m1 0h0m2 0h0m5 0h0m1 0h0m4 0h0m4 0h0m-41 1h0m5 0h0m1 0h0m1 0h0m3 0h0m6 0h0m12 0h0m2 0h0m18 0h0m3 0h0m3 0h0m-86 1h0m9 0h0m1 0h0m5 0h0m4 0h0m3 0h0m6 0h0m2 0h0m6 0h0m2 0h0m4 0h0m5 0h0m6 0h0m1 0h0m2 0h0m1 0h0m3 0h0m6 0h0m1 0h0m11 0h0m-77 1h0m8 0h0m26 0h0m5 0h0m10 0h0m13 0h0"/>
</g>
<g fill="none" stroke="#000">
<rect x="1412.5" y="72.1" width="258.8" height="413.3" stroke-width="1.5"/>
<polygon points="1469.7,234.8 1536.5,160.1 1601.3,157.9 1614,227.8 1588.9,334.6 1546,356.3 1474.7,343" stroke-width="1.5"/>
<polygon points="1427.4,457.5 1431.6,490.5 1507.6,490.5 1513.1,485.7 1540.5,465.1 1544.4,451.3 1547.4,444.6 1541.3,446.8 1521.5,438 1497,434.2 1473.9,438 1460.9,439.9" stroke-width="3" stroke-linejoin="round"/>
<rect x="1376" y="285.4" width="4.6" height="69.6" stroke="#999" stroke-width="1.2"/>
</g>
<rect x="1361.8" y="43.7" width="525" height="453.9" fill="none" stroke="#000" stroke-width="2"/>
<path d="M1361.8 480.3h-8M1380.3 497.6v9.8M1361.8 463.1h-8M1400.3 497.6v9.8M1361.8 445.8h-8M1420.4 497.6v9.8M1361.8 428.5h-8M1440.4 497.6v9.8M1361.8 411.2h-14.5M1460.5 497.6v16.5M1361.8 394h-8M1480.6 497.6v9.8M1361.8 376.7h-8M1500.6 497.6v9.8M1361.8 359.4h-8M1520.7 497.6v9.8M1361.8 342.2h-8M1540.7 497.6v9.8M1361.8 324.9h-14.5M1560.8 497.6v16.5M1361.8 307.6h-8M1580.9 497.6v9.8M1361.8 290.4h-8M1600.9 497.6v9.8M1361.8 273.1h-8M1621 497.6v9.8M1361.8 255.8h-8M1641 497.6v9.8M1361.8 238.6h-14.5M1661.1 497.6v16.5M1361.8 221.3h-8M1681.2 497.6v9.8M1361.8 204h-8M1701.2 497.6v9.8M1361.8 186.7h-8M1721.3 497.6v9.8M1361.8 169.5h-8M1741.3 497.6v9.8M1361.8 152.2h-14.5M1761.4 497.6v16.5M1361.8 134.9h-8M1781.5 497.6v9.8M1361.8 117.7h-8M1801.5 497.6v9.8M1361.8 100.4h-8M1821.6 497.6v9.8M1361.8 83.1h-8M1841.6 497.6v9.8M1361.8 65.9h-14.5M1861.7 497.6v16.5M1361.8 48.6h-8M1881.8 497.6v9.8" stroke="#000" stroke-width="1.6" fill="none"/>
<g font-family="Liberation Sans, Arial, sans-serif" font-size="16.5" fill="#000" stroke="#000" stroke-width="0.35">
<text x="1459" y="530.1" text-anchor="middle" textLength="15.5" lengthAdjust="spacingAndGlyphs">50</text>
<text transform="translate(1347.5 410.8) rotate(-90)" x="0" y="0" text-anchor="middle" textLength="15.5" lengthAdjust="spacingAndGlyphs">50</text>
<text x="1559.3" y="530.1" text-anchor="middle" textLength="23.2" lengthAdjust="spacingAndGlyphs">100</text>
<text transform="translate(1347.5 324.4) rotate(-90)" x="0" y="0" text-anchor="middle" textLength="23.2" lengthAdjust="spacingAndGlyphs">100</text>
<text x="1659.6" y="530.1" text-anchor="middle" textLength="23.2" lengthAdjust="spacingAndGlyphs">150</text>
<text transform="translate(1347.5 238.1) rotate(-90)" x="0" y="0" text-anchor="middle" textLength="23.2" lengthAdjust="spacingAndGlyphs">150</text>
<text x="1759.9" y="530.1" text-anchor="middle" textLength="23.2" lengthAdjust="spacingAndGlyphs">200</text>
<text transform="translate(1347.5 151.7) rotate(-90)" x="0" y="0" text-anchor="middle" textLength="23.2" lengthAdjust="spacingAndGlyphs">200</text>
<text x="1860.2" y="530.1" text-anchor="middle" textLength="23.2" lengthAdjust="spacingAndGlyphs">250</text>
<text transform="translate(1347.5 65.4) rotate(-90)" x="0" y="0" text-anchor="middle" textLength="23.2" lengthAdjust="spacingAndGlyphs">250</text>
</g>
<g font-family="Liberation Sans, Arial, sans-serif" fill="#000">
<text x="1624.2" y="547.3" font-size="21.5" text-anchor="middle" textLength="57.7" lengthAdjust="spacingAndGlyphs">FSC-A</text>
<text transform="translate(1327.6 263.9) rotate(-90)" font-size="21.5" text-anchor="middle" textLength="59.8" lengthAdjust="spacingAndGlyphs">SSC-A</text>
<text x="1823.8" y="553.6" font-size="17" textLength="60.2" lengthAdjust="spacingAndGlyphs">(x 1,000)</text>
<text transform="translate(1325.8 105.3) rotate(-90)" font-size="17" textLength="59.4" lengthAdjust="spacingAndGlyphs">(x 1,000)</text>
</g>
<g font-family="Liberation Sans, Arial, sans-serif" font-size="17" fill="#000">
<text x="1527.3" y="265.1">P1</text>
<text x="1527.3" y="287.6">P2</text>
<text x="1475.1" y="471.9">P3</text>
<text x="1372.6" y="318.9">P4</text>
</g>
<g font-family="Liberation Serif, Times New Roman, serif" font-size="32.9" fill="#000">
<text x="1693.1" y="194.4">Neutrophils</text>
<text x="1693.6" y="236.7">(23.5%)</text>
<text x="1683.9" y="423.9">Monocytes</text>
<text x="1590.8" y="478.9">Lymphocytes (53.4%)</text>
</g>
<text x="1286.7" y="34.8" font-family="Liberation Sans, Arial, sans-serif" font-size="49.6" textLength="42.2" lengthAdjust="spacingAndGlyphs" fill="#000">C.</text>
</g>
<g id="panelD">
<g fill="none">
<path stroke="#000" stroke-width="1" d="M214 633.5h10m-102 1h7m10 0h10m61 0h16m15 0h10m-45 78h8m0 2h7m22 40h7m-55 13h7m52 20h10m-94 8h7m60 4h10m-5 4h7m-84 10h7m18 8h7m1 1h8m-112 138h12m-12 1h12m-12 1h7m-7 2h8m-8 1h8m0 5h9m-17 1h7m-7 1h13m-13 1h16m-16 1h17m-17 1h18m-18 1h15m-15 1h15m-15 1h14m125 0h7m-146 1h12m168 0h7m2 0h7m-196 1h12m-12 1h12m-12 1h12m164 0h11m-187 1h10m161 0h7m-178 1h19m179 0h7m-205 1h19m157 0h7m13 0h9m-205 1h14m120 0h7m32 0h10m13 0h8m-204 1h15m114 0h10m34 0h10m13 0h8m-204 1h7m189 0h7m-203 1h16m147 0h7m8 0h10m1 0h9m-198 1h13m150 0h14m2 0h8m2 0h8m1 0h7m10 0h8m-223 1h17m150 0h13m5 0h18m-203 1h23m143 0h14m6 0h7m2 0h7m-202 1h21m112 0h7m25 0h15m-180 1h15m116 0h8m14 0h10m2 0h9m4 0h7m5 0h9m-199 1h15m150 0h9m4 0h7m-185 1h15m2 0h7m123 0h7m14 0h10m2 0h10m7 0h8m-205 1h12m153 0h34m-199 1h15m94 0h7m46 0h11m1 0h10m1 0h9m-194 1h14m125 0h7m8 0h19m8 0h7m11 0h8m-207 1h21m130 0h12m12 0h13m11 0h8m2 0h9m-218 1h17m105 0h12m13 0h23m5 0h9m3 0h7m4 0h10m-208 1h15m132 0h9m4 0h37m1 0h12m-210 1h17m3 0h9m66 0h9m44 0h11m4 0h24m7 0h8m1 0h7m-210 1h17m78 0h7m47 0h13m1 0h33m-196 1h19m129 0h8m10 0h31m1 0h7m-205 1h19m129 0h7m7 0h39m-201 1h16m5 0h9m118 0h7m4 0h16m1 0h8m9 0h14m-207 1h17m4 0h9m13 0h7m110 0h15m2 0h15m1 0h7m-200 1h17m26 0h11m97 0h25m1 0h24m-201 1h22m136 0h13m1 0h17m-189 1h22m77 0h7m37 0h7m14 0h10m1 0h10m-185 1h22m1 0h7m79 0h11m18 0h7m15 0h8m7 0h23m-198 1h13m2 0h7m124 0h7m8 0h8m1 0h17m2 0h9m3 0h9m-211 1h14m1 0h8m9 0h10m91 0h7m12 0h9m1 0h23m17 0h12m-214 1h14m1 0h12m133 0h11m-170 1h19m1 0h9m97 0h7m36 0h7m-176 1h18m2 0h9m83 0h8m6 0h7m39 0h10m1 0h9m-192 1h12m1 0h13m157 0h11m-194 1h14m-15 1h22m-22 1h19m135 0h8m-162 1h14m140 0h9m28 0h8m-199 1h20m164 0h15m-198 1h20m116 0h7m-144 1h21m111 0h9m-141 1h17m148 0h8m-173 1h27m-27 1h15m-14 1h23m-23 1h16m4 0h7m-28 1h28m-28 1h27m-26 1h26m-26 1h23m1 0h9m-33 1h23m1 0h9m-33 1h33m-34 1h29m1 0h7m-37 1h28m-27 1h23m-23 1h23m-24 1h19m-19 1h16m-15 1h13m12 0h7m-32 1h13m11 0h7m-31 1h20m-20 1h20m1 0h7m-28 1h15m4 0h9m-28 1h15m4 0h9m-28 1h14m4 0h10m-29 1h17m-17 1h17m-16 1h17m-18 1h18m-18 1h17m-16 1h16m2 0h13m2 0h8m-41 1h21m8 0h8m-37 1h21m-21 1h20m-20 1h20m-20 1h23m1 0h7m-31 1h21m-21 1h12m2 0h8m10 0h7m-39 1h12m1 0h9m-22 1h19m1 0h7m-27 1h25m-25 1h25m-25 1h24m129 0h7m-160 1h18m133 0h7m-158 1h16m13 0h7m-36 1h23m-23 1h23m7 0h8m-38 1h19m16 0h7m-42 1h23m-23 1h29m1 0h7m-37 1h27m-27 1h22m-22 1h17m-17 1h21m10 0h7m-38 1h23m8 0h11m-42 1h33m-34 1h27m-27 1h20m-19 1h13m1 0h11m-25 1h21m-22 1h18m-18 1h12m-11 1h11m-11 1h10"/>
<path stroke="#000" stroke-linecap="square" stroke-width="2" d="M114 634h0m3 0h0m3 0h0m4 0h0m4 0h0m7 0h0m6 0h0m2 0h0m11 0h0m4 0h0m1 0h0m3 0h0m10 0h0m1 0h0m1 0h0m3 0h0m5 0h0m2 0h0m1 0h0m4 0h0m6 0h0m16 0h0m1 0h0m26 0h0m6 0h0m1 0h0m2 0h0m3 0h0m5 0h0m3 0h0m3 0h0m2 0h0m12 0h0m1 0h0m1 0h0m4 0h0m-171 1h0m1 0h0m6 0h0m6 0h0m3 0h0m2 0h0m4 0h0m8 0h0m5 0h0m1 0h0m1 0h0m1 0h0m6 0h0m6 0h0m1 0h0m6 0h0m1 0h0m5 0h0m4 0h0m22 0h0m5 0h0m4 0h0m6 0h0m8 0h0m3 0h0m4 0h0m4 0h0m9 0h0m6 0h0m8 0h0m9 0h0m20 0h0m8 0h0m7 0h0m3 0h0m6 0h0m-171 1h0m37 0h0m2 0h0m15 0h0m7 0h0m17 0h0m10 0h0m19 0h0m1 0h0m15 0h0m3 0h0m33 0h0m-60 2h0m-79 2h0m-16 1h0m55 1h0m-96 1h0m93 0h0m-30 1h0m106 0h0m-107 1h0m1 0h0m33 0h0m9 0h0m-14 1h0m-97 1h0m47 0h0m110 0h0m-126 1h0m51 0h0m-40 1h0m54 0h0m22 0h0m-39 1h0m14 1h0m43 0h0m-17 1h0m22 1h0m15 0h0m-52 1h0m-46 1h0m79 0h0m-136 2h0m180 0h0m-88 2h0m291 0h0m-257 1h0m-37 1h0m32 0h0m55 0h0m-105 1h0m42 1h0m16 0h0m15 0h0m-18 1h0m-140 1h0m20 0h0m96 0h0m-39 1h0m46 0h0m-69 1h0m9 0h0m39 1h0m49 0h0m50 0h0m-157 2h0m58 0h0m1 0h0m3 0h0m21 0h0m6 0h0m-61 1h0m23 0h0m151 0h0m-156 1h0m53 0h0m-41 1h0m-33 1h0m33 0h0m24 0h0m31 1h0m254 0h0m-304 1h0m31 0h0m-31 1h0m13 0h0m184 0h0m-253 1h0m55 0h0m12 0h0m-94 1h0m67 0h0m25 0h0m41 0h0m8 0h0m1 0h0m130 0h0m-222 1h0m16 0h0m-4 1h0m31 0h0m19 0h0m12 0h0m28 0h0m-49 1h0m16 0h0m117 0h0m-167 1h0m20 0h0m33 0h0m-45 1h0m58 0h0m-85 1h0m2 0h0m24 1h0m-11 1h0m-74 1h0m74 0h0m134 0h0m-183 2h0m48 0h0m21 0h0m27 0h0m-69 1h0m41 0h0m-26 1h0m17 0h0m44 0h0m8 0h0m-73 1h0m53 0h0m3 0h0m26 0h0m10 0h0m5 0h0m-51 1h0m8 0h0m-38 1h0m1 0h0m5 0h0m23 0h0m14 0h0m3 0h0m18 0h0m-68 1h0m15 0h0m8 0h0m24 1h0m4 0h0m-74 1h0m70 0h0m-85 1h0m17 0h0m9 0h0m6 0h0m3 0h0m23 0h0m24 0h0m-66 1h0m10 0h0m24 0h0m5 0h0m25 0h0m99 0h0m-218 1h0m54 0h0m37 0h0m4 0h0m40 0h0m-56 1h0m4 0h0m7 0h0m8 0h0m2 0h0m3 0h0m13 0h0m-29 2h0m6 0h0m48 0h0m66 0h0m-151 1h0m19 0h0m22 0h0m14 0h0m4 0h0m5 0h0m9 0h0m17 0h0m17 0h0m-93 1h0m172 0h0m-185 1h0m31 0h0m26 0h0m-39 2h0m15 0h0m2 0h0m3 0h0m20 0h0m-72 1h0m10 0h0m81 0h0m-131 1h0m17 0h0m36 0h0m12 0h0m36 0h0m31 0h0m31 0h0m-90 1h0m9 0h0m29 0h0m2 0h0m-80 1h0m61 0h0m15 0h0m6 0h0m10 0h0m2 0h0m5 0h0m6 0h0m-86 1h0m65 0h0m5 0h0m26 0h0m96 0h0m74 0h0m-247 1h0m2 0h0m7 0h0m4 0h0m4 0h0m1 0h0m7 0h0m22 0h0m1 0h0m1 0h0m94 0h0m-62 1h0m39 0h0m-135 1h0m14 0h0m12 0h0m12 0h0m23 0h0m4 0h0m-91 1h0m42 0h0m10 0h0m1 0h0m-51 1h0m53 0h0m-72 1h0m58 0h0m30 0h0m20 0h0m31 0h0m-60 1h0m26 0h0m3 0h0m16 0h0m-81 1h0m6 0h0m57 0h0m1 0h0m-86 1h0m8 0h0m15 0h0m28 0h0m3 0h0m10 0h0m39 0h0m39 0h0m-137 1h0m3 0h0m16 0h0m92 0h0m51 0h0m-121 1h0m54 0h0m8 0h0m-144 1h0m1 0h0m88 0h0m5 0h0m12 0h0m6 0h0m7 0h0m7 0h0m5 0h0m-65 1h0m5 0h0m4 0h0m6 0h0m3 0h0m8 0h0m5 0h0m1 0h0m6 0h0m2 0h0m13 0h0m3 0h0m34 0h0m280 0h0m-380 1h0m8 0h0m49 0h0m47 0h0m3 0h0m30 0h0m-104 1h0m10 0h0m7 0h0m3 0h0m7 0h0m6 0h0m2 0h0m12 0h0m15 0h0m-104 1h0m109 0h0m7 0h0m50 0h0m-172 1h0m56 0h0m1 0h0m12 0h0m33 0h0m17 0h0m2 0h0m13 0h0m7 0h0m5 0h0m3 0h0m-191 1h0m3 0h0m40 0h0m4 0h0m40 0h0m5 0h0m14 0h0m9 0h0m1 0h0m3 0h0m10 0h0m4 0h0m6 0h0m2 0h0m21 0h0m-159 1h0m7 0h0m91 0h0m2 0h0m20 0h0m45 0h0m-165 1h0m2 0h0m129 0h0m1 0h0m-49 1h0m6 0h0m9 0h0m13 0h0m62 0h0m-107 1h0m6 0h0m14 0h0m2 0h0m4 0h0m7 0h0m7 0h0m2 0h0m21 0h0m23 0h0m12 0h0m-157 1h0m37 0h0m23 0h0m21 0h0m100 0h0m-131 1h0m27 0h0m6 0h0m4 0h0m5 0h0m22 0h0m1 0h0m1 0h0m19 0h0m-104 1h0m61 0h0m15 0h0m13 0h0m36 0h0m66 0h0m-231 1h0m91 0h0m5 0h0m13 0h0m8 0h0m9 0h0m2 0h0m15 0h0m18 0h0m-91 1h0m7 0h0m27 0h0m-105 1h0m20 0h0m15 0h0m7 0h0m34 0h0m8 0h0m1 0h0m2 0h0m17 0h0m14 0h0m58 0h0m29 0h0m-100 1h0m1 0h0m14 0h0m6 0h0m12 0h0m-151 1h0m16 0h0m61 0h0m14 0h0m7 0h0m34 0h0m5 0h0m18 0h0m-141 1h0m5 0h0m11 0h0m8 0h0m50 0h0m48 0h0m6 0h0m11 0h0m13 0h0m-45 1h0m38 0h0m1 0h0m16 0h0m-161 1h0m30 0h0m42 0h0m53 0h0m21 0h0m2 0h0m6 0h0m28 0h0m6 0h0m-144 1h0m12 0h0m2 0h0m3 0h0m5 0h0m62 0h0m12 0h0m8 0h0m-115 1h0m28 0h0m24 0h0m3 0h0m36 0h0m15 0h0m-139 1h0m1 0h0m23 0h0m42 0h0m23 0h0m6 0h0m25 0h0m109 0h0m11 0h0m-178 1h0m17 0h0m8 0h0m-52 1h0m12 0h0m37 0h0m12 0h0m10 0h0m12 0h0m4 0h0m34 0h0m11 0h0m15 0h0m10 0h0m29 0h0m-146 1h0m25 0h0m28 0h0m29 0h0m10 0h0m42 0h0m-142 1h0m5 0h0m6 0h0m4 0h0m6 0h0m39 0h0m23 0h0m2 0h0m-112 1h0m29 0h0m10 0h0m8 0h0m1 0h0m2 0h0m22 0h0m35 0h0m2 0h0m-144 1h0m30 0h0m79 0h0m3 0h0m33 0h0m30 0h0m1 0h0m17 0h0m-192 1h0m56 0h0m12 0h0m25 0h0m27 0h0m21 0h0m17 0h0m37 0h0m31 0h0m-227 1h0m52 0h0m1 0h0m26 0h0m16 0h0m13 0h0m12 0h0m13 0h0m17 0h0m12 0h0m21 0h0m65 0h0m-256 1h0m63 0h0m26 0h0m1 0h0m1 0h0m4 0h0m11 0h0m16 0h0m54 0h0m38 0h0m-185 1h0m29 0h0m5 0h0m17 0h0m12 0h0m8 0h0m7 0h0m3 0h0m20 0h0m1 0h0m9 0h0m13 0h0m10 0h0m-75 1h0m9 0h0m16 0h0m3 0h0m1 0h0m1 0h0m1 0h0m30 0h0m6 0h0m21 0h0m-133 1h0m39 0h0m20 0h0m4 0h0m37 0h0m19 0h0m26 0h0m-109 1h0m2 0h0m1 0h0m37 0h0m13 0h0m73 0h0m-193 1h0m45 0h0m7 0h0m1 0h0m18 0h0m6 0h0m1 0h0m17 0h0m5 0h0m22 0h0m18 0h0m-150 1h0m13 0h0m1 0h0m19 0h0m23 0h0m20 0h0m1 0h0m5 0h0m6 0h0m28 0h0m5 0h0m1 0h0m20 0h0m65 0h0m-208 1h0m31 0h0m32 0h0m27 0h0m18 0h0m3 0h0m13 0h0m1 0h0m39 0h0m5 0h0m1 0h0m-168 1h0m46 0h0m56 0h0m36 0h0m20 0h0m6 0h0m39 0h0m24 0h0m-196 1h0m18 0h0m9 0h0m22 0h0m2 0h0m17 0h0m1 0h0m4 0h0m10 0h0m36 0h0m16 0h0m31 0h0m1 0h0m28 0h0m-226 1h0m74 0h0m38 0h0m15 0h0m32 0h0m13 0h0m62 0h0m127 0h0m-361 1h0m75 0h0m19 0h0m12 0h0m4 0h0m20 0h0m4 0h0m47 0h0m32 0h0m-144 1h0m27 0h0m19 0h0m6 0h0m-84 1h0m9 0h0m57 0h0m11 0h0m12 0h0m3 0h0m5 0h0m21 0h0m33 0h0m-175 1h0m31 0h0m9 0h0m3 0h0m10 0h0m2 0h0m5 0h0m7 0h0m19 0h0m4 0h0m4 0h0m10 0h0m2 0h0m9 0h0m34 0h0m18 0h0m62 0h0m-239 1h0m67 0h0m5 0h0m3 0h0m10 0h0m14 0h0m1 0h0m15 0h0m53 0h0m27 0h0m22 0h0m-222 1h0m39 0h0m4 0h0m19 0h0m2 0h0m2 0h0m53 0h0m5 0h0m3 0h0m20 0h0m17 0h0m8 0h0m15 0h0m22 0h0m19 0h0m-151 1h0m2 0h0m22 0h0m10 0h0m24 0h0m19 0h0m33 0h0m4 0h0m-151 1h0m71 0h0m16 0h0m13 0h0m5 0h0m10 0h0m6 0h0m38 0h0m26 0h0m-220 1h0m77 0h0m1 0h0m10 0h0m7 0h0m5 0h0m41 0h0m10 0h0m2 0h0m-121 1h0m16 0h0m8 0h0m13 0h0m30 0h0m5 0h0m22 0h0m6 0h0m13 0h0m2 0h0m28 0h0m6 0h0m11 0h0m13 0h0m-158 1h0m27 0h0m6 0h0m4 0h0m17 0h0m5 0h0m21 0h0m1 0h0m10 0h0m1 0h0m29 0h0m2 0h0m32 0h0m-220 1h0m21 0h0m46 0h0m51 0h0m24 0h0m16 0h0m56 0h0m19 0h0m-147 1h0m28 0h0m78 0h0m9 0h0m66 0h0m-248 1h0m35 0h0m19 0h0m5 0h0m31 0h0m11 0h0m2 0h0m33 0h0m5 0h0m1 0h0m18 0h0m2 0h0m71 0h0m4 0h0m-240 1h0m25 0h0m37 0h0m19 0h0m3 0h0m9 0h0m4 0h0m4 0h0m7 0h0m27 0h0m29 0h0m1 0h0m-145 1h0m5 0h0m5 0h0m16 0h0m4 0h0m60 0h0m26 0h0m1 0h0m9 0h0m17 0h0m-158 1h0m6 0h0m46 0h0m21 0h0m16 0h0m15 0h0m43 0h0m1 0h0m84 0h0m-239 1h0m1 0h0m31 0h0m24 0h0m39 0h0m22 0h0m6 0h0m1 0h0m2 0h0m4 0h0m11 0h0m18 0h0m1 0h0m2 0h0m1 0h0m4 0h0m-121 1h0m32 0h0m9 0h0m3 0h0m10 0h0m35 0h0m2 0h0m10 0h0m5 0h0m1 0h0m2 0h0m4 0h0m6 0h0m-113 1h0m31 0h0m7 0h0m52 0h0m96 0h0m24 0h0m48 0h0m-275 1h0m20 0h0m6 0h0m17 0h0m5 0h0m76 0h0m-90 1h0m6 0h0m5 0h0m9 0h0m8 0h0m45 0h0m1 0h0m13 0h0m5 0h0m-129 1h0m53 0h0m6 0h0m12 0h0m3 0h0m18 0h0m2 0h0m12 0h0m1 0h0m10 0h0m4 0h0m-92 1h0m5 0h0m22 0h0m10 0h0m12 0h0m12 0h0m1 0h0m13 0h0m17 0h0m-122 1h0m13 0h0m13 0h0m9 0h0m4 0h0m8 0h0m8 0h0m23 0h0m9 0h0m38 0h0m-133 1h0m46 0h0m2 0h0m4 0h0m3 0h0m36 0h0m9 0h0m6 0h0m2 0h0m4 0h0m19 0h0m2 0h0m1 0h0m-157 1h0m69 0h0m3 0h0m5 0h0m3 0h0m16 0h0m58 0h0m-153 1h0m36 0h0m6 0h0m14 0h0m6 0h0m3 0h0m14 0h0m19 0h0m16 0h0m13 0h0m2 0h0m17 0h0m2 0h0m2 0h0m-90 1h0m6 0h0m27 0h0m41 0h0m6 0h0m17 0h0m-60 1h0m3 0h0m3 0h0m11 0h0m3 0h0m17 0h0m2 0h0m1 0h0m4 0h0m2 0h0m4 0h0m5 0h0m-154 1h0m42 0h0m21 0h0m1 0h0m1 0h0m4 0h0m12 0h0m2 0h0m44 0h0m19 0h0m1 0h0m3 0h0m1 0h0m94 0h0m-245 1h0m13 0h0m21 0h0m15 0h0m27 0h0m21 0h0m14 0h0m2 0h0m22 0h0m6 0h0m1 0h0m99 0h0m13 0h0m-248 1h0m53 0h0m16 0h0m17 0h0m10 0h0m3 0h0m2 0h0m25 0h0m8 0h0m14 0h0m-107 1h0m12 0h0m13 0h0m21 0h0m2 0h0m6 0h0m5 0h0m3 0h0m4 0h0m15 0h0m5 0h0m6 0h0m10 0h0m-109 1h0m24 0h0m15 0h0m13 0h0m2 0h0m42 0h0m12 0h0m3 0h0m2 0h0m-126 1h0m20 0h0m44 0h0m2 0h0m4 0h0m2 0h0m6 0h0m5 0h0m7 0h0m12 0h0m7 0h0m7 0h0m-141 1h0m60 0h0m10 0h0m2 0h0m6 0h0m8 0h0m26 0h0m5 0h0m28 0h0m96 0h0m-236 1h0m2 0h0m55 0h0m12 0h0m22 0h0m8 0h0m23 0h0m21 0h0m-149 1h0m13 0h0m27 0h0m22 0h0m6 0h0m4 0h0m22 0h0m31 0h0m10 0h0m1 0h0m12 0h0m-138 1h0m8 0h0m13 0h0m63 0h0m9 0h0m20 0h0m5 0h0m3 0h0m3 0h0m-106 1h0m33 0h0m35 0h0m10 0h0m3 0h0m6 0h0m2 0h0m5 0h0m3 0h0m10 0h0m1 0h0m4 0h0m8 0h0m100 0h0m-246 1h0m64 0h0m2 0h0m1 0h0m6 0h0m6 0h0m5 0h0m13 0h0m19 0h0m3 0h0m10 0h0m6 0h0m8 0h0m-158 1h0m14 0h0m34 0h0m38 0h0m4 0h0m3 0h0m5 0h0m11 0h0m14 0h0m16 0h0m10 0h0m2 0h0m3 0h0m-134 1h0m35 0h0m15 0h0m13 0h0m1 0h0m2 0h0m58 0h0m7 0h0m4 0h0m-110 1h0m15 0h0m24 0h0m1 0h0m3 0h0m17 0h0m23 0h0m4 0h0m12 0h0m2 0h0m-77 1h0m1 0h0m2 0h0m22 0h0m31 0h0m30 0h0m-74 1h0m30 0h0m11 0h0m1 0h0m5 0h0m9 0h0m13 0h0m-146 1h0m7 0h0m4 0h0m39 0h0m13 0h0m38 0h0m18 0h0m10 0h0m-130 1h0m13 0h0m33 0h0m12 0h0m10 0h0m21 0h0m12 0h0m21 0h0m4 0h0m8 0h0m-116 1h0m58 0h0m31 0h0m25 0h0m1 0h0m10 0h0m2 0h0m2 0h0m109 0h0m-184 1h0m31 0h0m4 0h0m3 0h0m27 0h0m3 0h0m-31 1h0m1 0h0m16 0h0m14 0h0m2 0h0m1 0h0m-99 1h0m26 0h0m5 0h0m6 0h0m21 0h0m3 0h0m2 0h0m6 0h0m3 0h0m18 0h0m-124 1h0m34 0h0m15 0h0m10 0h0m1 0h0m3 0h0m2 0h0m26 0h0m5 0h0m8 0h0m4 0h0m1 0h0m-109 1h0m71 0h0m4 0h0m18 0h0m9 0h0m18 0h0m12 0h0m-78 1h0m11 0h0m23 0h0m4 0h0m3 0h0m17 0h0m10 0h0m7 0h0m-78 1h0m25 0h0m2 0h0m17 0h0m3 0h0m9 0h0m26 0h0m-52 1h0m26 0h0m15 0h0m8 0h0m-85 1h0m47 0h0m7 0h0m13 0h0m2 0h0m16 0h0m-129 1h0m17 0h0m80 0h0m4 0h0m7 0h0m10 0h0m9 0h0m-98 1h0m24 0h0m14 0h0m17 0h0m12 0h0m5 0h0m3 0h0m11 0h0m175 0h0m-292 1h0m2 0h0m31 0h0m31 0h0m10 0h0m42 0h0m7 0h0m3 0h0m1 0h0m1 0h0m-79 1h0m5 0h0m6 0h0m7 0h0m2 0h0m42 0h0m12 0h0m3 0h0m-93 1h0m8 0h0m11 0h0m5 0h0m27 0h0m19 0h0m6 0h0m17 0h0m2 0h0m-106 1h0m35 0h0m22 0h0m7 0h0m29 0h0m-109 1h0m49 0h0m41 0h0m1 0h0m12 0h0m2 0h0m140 0h0m-240 1h0m45 0h0m60 0h0m136 0h0m-247 1h0m48 0h0m34 0h0m18 0h0m10 0h0m4 0h0m1 0h0m-95 1h0m29 0h0m10 0h0m41 0h0m4 0h0m9 0h0m3 0h0m-74 1h0m19 0h0m13 0h0m34 0h0m4 0h0m148 0h0m-265 1h0m77 0h0m19 0h0m5 0h0m-96 1h0m46 0h0m3 0h0m10 0h0m31 0h0m24 0h0m186 0h0m167 0h0m-434 1h0m60 0h0m-5 1h0m3 0h0m161 0h0m-254 1h0m37 0h0m3 0h0m59 0h0m-13 1h0m3 0h0m-91 1h0m4 0h0m21 0h0m29 0h0m7 0h0m22 0h0m2 0h0m14 0h0m-61 1h0m3 0h0m5 0h0m7 0h0m29 0h0m6 0h0m27 0h0m140 0h0m54 0h0m-307 1h0m22 0h0m14 0h0m38 0h0m4 0h0m1 0h0m21 0h0m161 0h0m-234 1h0m11 0h0m21 0h0m9 0h0m23 0h0m5 0h0m7 0h0m149 0h0m-255 1h0m2 0h0m25 0h0m52 0h0m15 0h0m-88 1h0m31 0h0m11 0h0m29 0h0m30 0h0m-96 1h0m73 0h0m8 0h0m11 0h0m-102 1h0m19 0h0m17 0h0m11 0h0m41 0h0m10 0h0m3 0h0m5 0h0m-90 1h0m59 0h0m7 0h0m8 1h0m17 0h0m167 0h0m-275 1h0m43 0h0m18 0h0m4 0h0m10 0h0m10 0h0m18 0h0m-56 1h0m2 0h0m7 0h0m35 0h0m5 0h0m-56 1h0m47 0h0m9 0h0m7 0h0m-63 1h0m35 0h0m10 0h0m-38 1h0m1 0h0m40 0h0m5 0h0m-106 1h0m56 0h0m48 0h0m5 0h0m9 0h0m-101 1h0m83 0h0m8 0h0m1 0h0m153 0h0m-247 1h0m62 0h0m30 0h0m4 0h0m-70 1h0m64 0h0m-92 1h0m92 0h0m1 0h0m191 0h0m-279 1h0m46 0h0m16 0h0m-65 1h0m65 0h0m19 0h0m9 0h0m-94 1h0m79 0h0m23 0h0m148 0h0m8 0h0m-254 1h0m9 0h0m78 0h0m-90 1h0m21 0h0m-16 1h0m33 0h0m-8 1h0m25 0h0m31 0h0m18 0h0m149 0h0m-201 1h0m250 0h0m-305 1h0m9 0h0m24 0h0m5 0h0m9 0h0m34 0h0m3 0h0m18 0h0m184 0h0m17 0h0m-300 1h0m1 0h0m40 0h0m51 0h0m9 0h0m-103 1h0m2 0h0m46 0h0m30 0h0m6 0h0m-84 1h0m41 0h0m19 0h0m5 0h0m37 0h0m1 0h0m177 0h0m-176 1h0m1 0h0m-19 1h0m2 0h0m15 0h0m-82 1h0m3 0h0m18 0h0m26 1h0m16 1h0m9 0h0m-102 1h0m59 0h0m2 0h0m11 0h0m13 0h0m366 0h0m-419 1h0m53 0h0m24 0h0m152 0h0m-228 1h0m68 0h0m11 0h0m-91 1h0m34 0h0m198 0h0m33 0h0m-277 1h0m38 0h0m-37 1h0m40 0h0m45 0h0m13 0h0m7 0h0m142 0h0m-210 1h0m16 0h0m17 0h0m17 0h0m-38 1h0m14 0h0m26 0h0m9 0h0m-86 1h0m21 0h0m10 0h0m4 0h0m23 0h0m172 0h0m3 1h0m-183 1h0m20 0h0m16 0h0m-47 1h0m20 0h0m5 0h0m8 0h0m20 0h0m-104 1h0m89 0h0m-89 1h0m26 0h0m67 0h0m-94 1h0m7 0h0m7 0h0m48 0h0m191 0h0m-253 1h0m85 0h0m9 0h0m164 0h0m160 0h0m-376 1h0m234 0h0m-275 1h0m53 0h0m9 0h0m176 0h0m21 0h0m-248 1h0m28 0h0m32 0h0m168 0h0m28 0h0m-196 1h0m14 0h0m9 0h0m-34 1h0m1 0h0m19 0h0m12 0h0m1 0h0m1 0h0m7 0h0m138 0h0m19 0h0m2 0h0m-250 1h0m16 0h0m22 0h0m198 0h0m12 0h0m-156 1h0m138 0h0m-241 1h0m22 0h0m9 0h0m4 0h0m19 0h0m20 0h0m195 0h0m-268 1h0m72 0h0m18 0h0m-90 1h0m91 0h0m2 0h0m13 0h0m-90 1h0m45 0h0m40 0h0m3 0h0m141 0h0m-255 1h0m93 0h0m6 0h0m-90 1h0m40 0h0m42 0h0m159 0h0m-240 1h0m24 0h0m18 0h0m14 0h0m12 0h0m185 0h0m-254 1h0m1 0h0m51 0h0m11 0h0m34 0h0m3 0h0m-94 1h0m24 0h0m-24 1h0m38 0h0m63 0h0m-108 1h0m1 0h0m9 0h0m47 0h0m-55 1h0m257 0h0m-251 1h0m244 0h0m-182 1h0m17 0h0m6 0h0m1 0h0m-92 2h0m49 0h0m54 0h0m-104 1h0m59 1h0m11 0h0m207 1h0m-270 1h0m3 0h0m24 0h0m61 0h0m-95 1h0m1 0h0m-1 1h0m11 0h0m230 0h0m-241 1h0m65 0h0m207 0h0m-272 1h0m6 0h0m93 0h0m8 0h0m-101 1h0m227 0h0m11 0h0m-243 1h0m95 0h0m144 0h0m-233 1h0m247 0h0m-155 1h0m144 0h0m-243 1h0m7 0h0m227 0h0m1 0h0m14 0h0m-249 1h0m256 0h0m19 0h0m-269 1h0m70 1h0m15 0h0m4 0h0m-95 1h0m49 0h0m-49 1h0m107 0h0m136 0h0m-231 1h0m41 0h0m-43 1h0m5 0h0m92 1h0m170 0h0m-276 1h0m9 0h0m246 0h0m-256 1h0m9 0h0m28 0h0m-12 1h0m209 0h0m36 0h0m-270 1h0m1 0h0m14 0h0m214 0h0m13 0h0m-232 1h0m-7 1h0m5 0h0m8 0h0m52 0h0m12 0h0m29 0h0m-109 1h0m2 0h0m7 0h0m11 0h0m-19 1h0m4 0h0m2 0h0m239 0h0m-245 1h0m7 0h0m236 0h0m-243 1h0m10 0h0m1 0h0m64 0h0m30 0h0m-107 1h0m3 0h0m9 0h0m221 0h0m7 0h0m-239 1h0m1 0h0m2 0h0m16 0h0m86 0h0m151 0h0m-253 1h0m1 0h0m104 0h0m129 0h0m-236 1h0m1 0h0m1 0h0m6 0h0m4 0h0m69 0h0m13 0h0m11 0h0m136 0h0m29 0h0m-271 1h0m1 0h0m1 0h0m1 0h0m1 0h0m72 0h0m28 0h0m135 0h0m25 0h0m-264 1h0m1 0h0m1 0h0m1 0h0m20 0h0m54 0h0m153 0h0m-230 1h0m3 0h0m99 0h0m-102 1h0m1 0h0m1 0h0m2 0h0m6 0h0m4 0h0m94 1h0m-100 1h0m2 0h0m62 0h0m185 0h0m-257 1h0m4 0h0m-4 1h0m3 0h0m2 0h0m11 0h0m70 0h0m128 0h0m17 0h0m9 0h0m3 0h0m11 0h0m-245 1h0m7 0h0m3 0h0m210 0h0m12 0h0m-241 1h0m9 0h0m3 0h0m4 0h0m75 0h0m121 0h0m3 0h0m-214 1h0m1 0h0m7 0h0m7 0h0m-16 1h0m2 0h0m9 0h0m2 0h0m5 0h0m-18 1h0m1 0h0m1 0h0m1 0h0m1 0h0m3 0h0m1 0h0m11 0h0m199 0h0m68 0h0m-286 1h0m1 0h0m1 0h0m1 0h0m7 0h0m3 0h0m1 0h0m9 0h0m18 0h0m46 0h0m12 0h0m113 0h0m13 0h0m157 0h0m-382 1h0m1 0h0m1 0h0m1 0h0m1 0h0m4 0h0m3 0h0m4 0h0m104 0h0m88 0h0m4 0h0m3 0h0m26 0h0m-230 1h0m1 0h0m53 0h0m70 0h0m65 0h0m9 0h0m4 0h0m3 0h0m4 0h0m12 0h0m13 0h0m-230 1h0m4 0h0m121 0h0m60 0h0m12 0h0m2 0h0m17 0h0m3 0h0m3 0h0m-217 1h0m111 0h0m7 0h0m6 0h0m54 0h0m1 0h0m10 0h0m5 0h0m8 0h0m13 0h0m-134 1h0m49 0h0m2 0h0m42 0h0m9 0h0m3 0h0m8 0h0m20 0h0m-217 1h0m8 0h0m55 0h0m43 0h0m3 0h0m26 0h0m2 0h0m39 0h0m27 0h0m-197 1h0m71 0h0m36 0h0m19 0h0m6 0h0m7 0h0m41 0h0m14 0h0m33 0h0m-233 1h0m5 0h0m3 0h0m9 0h0m62 0h0m7 0h0m11 0h0m5 0h0m9 0h0m14 0h0m6 0h0m2 0h0m1 0h0m8 0h0m7 0h0m4 0h0m28 0h0m22 0h0m4 0h0m2 0h0m-207 1h0m74 0h0m8 0h0m4 0h0m21 0h0m14 0h0m3 0h0m2 0h0m4 0h0m3 0h0m11 0h0m1 0h0m5 0h0m6 0h0m8 0h0m1 0h0m2 0h0m4 0h0m19 0h0m3 0h0m-195 1h0m16 0h0m51 0h0m28 0h0m1 0h0m15 0h0m15 0h0m2 0h0m10 0h0m16 0h0m10 0h0m3 0h0m8 0h0m1 0h0m2 0h0m-179 1h0m4 0h0m2 0h0m22 0h0m68 0h0m25 0h0m15 0h0m4 0h0m3 0h0m7 0h0m3 0h0m11 0h0m4 0h0m1 0h0m6 0h0m1 0h0m2 0h0m7 0h0m1 0h0m-188 1h0m6 0h0m64 0h0m29 0h0m1 0h0m6 0h0m3 0h0m8 0h0m29 0h0m18 0h0m2 0h0m1 0h0m9 0h0m26 0h0m2 0h0m45 0h0m-242 1h0m4 0h0m90 0h0m14 0h0m4 0h0m6 0h0m2 0h0m3 0h0m3 0h0m10 0h0m1 0h0m6 0h0m2 0h0m16 0h0m2 0h0m2 0h0m6 0h0m6 0h0m2 0h0m7 0h0m2 0h0m-197 1h0m89 0h0m13 0h0m7 0h0m17 0h0m7 0h0m6 0h0m11 0h0m10 0h0m2 0h0m1 0h0m8 0h0m13 0h0m3 0h0m1 0h0m7 0h0m5 0h0m14 0h0m-199 1h0m11 0h0m36 0h0m112 0h0m1 0h0m1 0h0m-172 1h0m89 0h0m35 0h0m12 0h0m6 0h0m4 0h0m8 0h0m16 0h0m1 0h0m5 0h0m66 0h0m-241 1h0m90 0h0m5 0h0m4 0h0m5 0h0m9 0h0m1 0h0m12 0h0m16 0h0m7 0h0m21 0h0m19 0h0m6 0h0m10 0h0m8 0h0m-221 1h0m5 0h0m3 0h0m5 0h0m70 0h0m16 0h0m1 0h0m11 0h0m13 0h0m15 0h0m3 0h0m2 0h0m3 0h0m5 0h0m3 0h0m5 0h0m9 0h0m1 0h0m3 0h0m3 0h0m8 0h0m19 0h0m1 0h0m5 0h0m1 0h0m-210 1h0m1 0h0m3 0h0m2 0h0m12 0h0m49 0h0m4 0h0m37 0h0m3 0h0m22 0h0m4 0h0m7 0h0m6 0h0m2 0h0m3 0h0m5 0h0m5 0h0m1 0h0m4 0h0m2 0h0m4 0h0m2 0h0m4 0h0m3 0h0m6 0h0m2 0h0m5 0h0m31 0h0m3 0h0m-220 1h0m1 0h0m8 0h0m61 0h0m10 0h0m11 0h0m2 0h0m16 0h0m8 0h0m6 0h0m8 0h0m7 0h0m13 0h0m3 0h0m1 0h0m25 0h0m3 0h0m3 0h0m4 0h0m5 0h0m1 0h0m2 0h0m1 0h0m-201 1h0m55 0h0m25 0h0m10 0h0m16 0h0m7 0h0m20 0h0m7 0h0m1 0h0m22 0h0m1 0h0m27 0h0m12 0h0m-200 1h0m3 0h0m36 0h0m30 0h0m9 0h0m13 0h0m27 0h0m2 0h0m5 0h0m13 0h0m1 0h0m-136 1h0m20 0h0m33 0h0m5 0h0m56 0h0m3 0h0m13 0h0m7 0h0m22 0h0m8 0h0m6 0h0m1 0h0m1 0h0m4 0h0m19 0h0m-206 1h0m2 0h0m39 0h0m33 0h0m54 0h0m1 0h0m5 0h0m3 0h0m2 0h0m3 0h0m3 0h0m14 0h0m7 0h0m5 0h0m3 0h0m3 0h0m1 0h0m3 0h0m7 0h0m9 0h0m240 0h0m-396 1h0m53 0h0m5 0h0m1 0h0m15 0h0m11 0h0m1 0h0m7 0h0m7 0h0m1 0h0m2 0h0m32 0h0m1 0h0m1 0h0m1 0h0m12 0h0m2 0h0m-192 1h0m3 0h0m7 0h0m6 0h0m25 0h0m33 0h0m20 0h0m12 0h0m6 0h0m1 0h0m14 0h0m3 0h0m1 0h0m17 0h0m10 0h0m11 0h0m5 0h0m2 0h0m5 0h0m1 0h0m4 0h0m7 0h0m4 0h0m1 0h0m-202 1h0m5 0h0m4 0h0m35 0h0m9 0h0m8 0h0m9 0h0m20 0h0m24 0h0m10 0h0m1 0h0m12 0h0m1 0h0m1 0h0m7 0h0m2 0h0m4 0h0m29 0h0m6 0h0m1 0h0m12 0h0m30 0h0m-230 1h0m3 0h0m5 0h0m26 0h0m45 0h0m18 0h0m4 0h0m4 0h0m2 0h0m1 0h0m4 0h0m17 0h0m2 0h0m6 0h0m7 0h0m39 0h0m8 0h0m3 0h0m7 0h0m6 0h0m-203 1h0m1 0h0m14 0h0m73 0h0m4 0h0m3 0h0m22 0h0m5 0h0m3 0h0m2 0h0m6 0h0m7 0h0m17 0h0m3 0h0m12 0h0m1 0h0m1 0h0m9 0h0m3 0h0m1 0h0m4 0h0m1 0h0m2 0h0m11 0h0m10 0h0m-217 1h0m2 0h0m8 0h0m9 0h0m50 0h0m1 0h0m30 0h0m4 0h0m5 0h0m1 0h0m8 0h0m7 0h0m11 0h0m24 0h0m14 0h0m2 0h0m18 0h0m2 0h0m5 0h0m-197 1h0m8 0h0m47 0h0m4 0h0m9 0h0m4 0h0m17 0h0m10 0h0m4 0h0m1 0h0m6 0h0m2 0h0m1 0h0m6 0h0m4 0h0m24 0h0m23 0h0m1 0h0m1 0h0m21 0h0m2 0h0m42 0h0m-238 1h0m63 0h0m7 0h0m22 0h0m7 0h0m2 0h0m6 0h0m1 0h0m1 0h0m17 0h0m67 0h0m-190 1h0m5 0h0m26 0h0m43 0h0m2 0h0m1 0h0m4 0h0m9 0h0m3 0h0m8 0h0m10 0h0m4 0h0m21 0h0m3 0h0m29 0h0m1 0h0m1 0h0m25 0h0m-196 1h0m2 0h0m2 0h0m3 0h0m10 0h0m28 0h0m25 0h0m2 0h0m42 0h0m9 0h0m45 0h0m2 0h0m7 0h0m3 0h0m3 0h0m12 0h0m17 0h0m1 0h0m-213 1h0m3 0h0m5 0h0m5 0h0m46 0h0m10 0h0m9 0h0m6 0h0m2 0h0m10 0h0m12 0h0m12 0h0m19 0h0m1 0h0m40 0h0m2 0h0m9 0h0m-187 1h0m7 0h0m6 0h0m26 0h0m14 0h0m12 0h0m21 0h0m4 0h0m12 0h0m2 0h0m3 0h0m3 0h0m2 0h0m6 0h0m20 0h0m40 0h0m1 0h0m7 0h0m16 0h0m-205 1h0m4 0h0m2 0h0m22 0h0m29 0h0m13 0h0m6 0h0m20 0h0m28 0h0m14 0h0m30 0h0m1 0h0m12 0h0m2 0h0m-186 1h0m42 0h0m13 0h0m13 0h0m13 0h0m2 0h0m3 0h0m22 0h0m11 0h0m2 0h0m11 0h0m35 0h0m5 0h0m11 0h0m3 0h0m1 0h0m3 0h0m5 0h0m9 0h0m16 0h0m-215 1h0m3 0h0m2 0h0m4 0h0m4 0h0m16 0h0m44 0h0m8 0h0m21 0h0m4 0h0m14 0h0m3 0h0m1 0h0m7 0h0m2 0h0m1 0h0m45 0h0m11 0h0m5 0h0m9 0h0m-209 1h0m1 0h0m7 0h0m24 0h0m22 0h0m2 0h0m36 0h0m4 0h0m9 0h0m9 0h0m2 0h0m9 0h0m5 0h0m3 0h0m1 0h0m2 0h0m37 0h0m1 0h0m2 0h0m3 0h0m1 0h0m1 0h0m8 0h0m24 0h0m20 0h0m-226 1h0m2 0h0m8 0h0m48 0h0m8 0h0m2 0h0m9 0h0m2 0h0m16 0h0m16 0h0m8 0h0m4 0h0m5 0h0m5 0h0m3 0h0m26 0h0m3 0h0m11 0h0m4 0h0m17 0h0m19 0h0m209 0h0m-427 1h0m2 0h0m22 0h0m52 0h0m2 0h0m9 0h0m6 0h0m2 0h0m5 0h0m4 0h0m13 0h0m6 0h0m5 0h0m9 0h0m1 0h0m9 0h0m1 0h0m16 0h0m2 0h0m4 0h0m1 0h0m8 0h0m6 0h0m3 0h0m4 0h0m-188 1h0m1 0h0m33 0h0m18 0h0m4 0h0m13 0h0m6 0h0m7 0h0m3 0h0m2 0h0m18 0h0m6 0h0m4 0h0m8 0h0m5 0h0m15 0h0m1 0h0m35 0h0m6 0h0m18 0h0m1 0h0m-207 1h0m3 0h0m4 0h0m1 0h0m1 0h0m1 0h0m3 0h0m2 0h0m42 0h0m1 0h0m9 0h0m7 0h0m20 0h0m16 0h0m3 0h0m4 0h0m2 0h0m3 0h0m2 0h0m6 0h0m3 0h0m1 0h0m36 0h0m17 0h0m8 0h0m2 0h0m3 0h0m-189 1h0m15 0h0m10 0h0m24 0h0m1 0h0m27 0h0m9 0h0m11 0h0m3 0h0m1 0h0m1 0h0m3 0h0m12 0h0m4 0h0m16 0h0m2 0h0m5 0h0m2 0h0m1 0h0m5 0h0m1 0h0m16 0h0m1 0h0m5 0h0m32 0h0m-211 1h0m55 0h0m9 0h0m1 0h0m23 0h0m8 0h0m2 0h0m17 0h0m3 0h0m2 0h0m2 0h0m6 0h0m7 0h0m5 0h0m3 0h0m6 0h0m1 0h0m34 0h0m5 0h0m6 0h0m-168 1h0m19 0h0m2 0h0m7 0h0m7 0h0m3 0h0m16 0h0m5 0h0m1 0h0m26 0h0m2 0h0m10 0h0m2 0h0m6 0h0m5 0h0m8 0h0m8 0h0m1 0h0m1 0h0m1 0h0m11 0h0m2 0h0m18 0h0m7 0h0m8 0h0m-201 1h0m2 0h0m21 0h0m33 0h0m6 0h0m6 0h0m13 0h0m2 0h0m13 0h0m43 0h0m4 0h0m2 0h0m2 0h0m29 0h0m2 0h0m-193 1h0m1 0h0m8 0h0m2 0h0m6 0h0m64 0h0m2 0h0m29 0h0m5 0h0m15 0h0m17 0h0m10 0h0m1 0h0m2 0h0m4 0h0m1 0h0m2 0h0m5 0h0m4 0h0m3 0h0m4 0h0m10 0h0m5 0h0m-203 1h0m3 0h0m1 0h0m5 0h0m3 0h0m6 0h0m6 0h0m44 0h0m18 0h0m5 0h0m6 0h0m5 0h0m18 0h0m1 0h0m15 0h0m5 0h0m10 0h0m2 0h0m6 0h0m3 0h0m3 0h0m7 0h0m7 0h0m19 0h0m2 0h0m4 0h0m21 0h0m-221 1h0m11 0h0m1 0h0m5 0h0m1 0h0m29 0h0m10 0h0m4 0h0m17 0h0m12 0h0m18 0h0m12 0h0m17 0h0m9 0h0m6 0h0m3 0h0m2 0h0m8 0h0m2 0h0m6 0h0m5 0h0m5 0h0m16 0h0m2 0h0m-206 1h0m1 0h0m9 0h0m2 0h0m4 0h0m8 0h0m11 0h0m25 0h0m27 0h0m6 0h0m5 0h0m5 0h0m3 0h0m14 0h0m56 0h0m2 0h0m8 0h0m5 0h0m-191 1h0m22 0h0m6 0h0m1 0h0m24 0h0m27 0h0m17 0h0m10 0h0m12 0h0m20 0h0m3 0h0m4 0h0m10 0h0m6 0h0m2 0h0m2 0h0m3 0h0m2 0h0m1 0h0m-163 1h0m3 0h0m2 0h0m2 0h0m10 0h0m12 0h0m55 0h0m3 0h0m26 0h0m3 0h0m2 0h0m11 0h0m36 0h0m7 0h0m9 0h0m8 0h0m-186 1h0m15 0h0m40 0h0m8 0h0m24 0h0m20 0h0m12 0h0m17 0h0m1 0h0m8 0h0m1 0h0m1 0h0m8 0h0m3 0h0m2 0h0m2 0h0m6 0h0m3 0h0m7 0h0m-186 1h0m3 0h0m10 0h0m16 0h0m17 0h0m23 0h0m11 0h0m15 0h0m7 0h0m11 0h0m4 0h0m22 0h0m4 0h0m5 0h0m30 0h0m4 0h0m10 0h0m-191 1h0m2 0h0m8 0h0m4 0h0m3 0h0m1 0h0m3 0h0m2 0h0m1 0h0m7 0h0m10 0h0m35 0h0m1 0h0m22 0h0m9 0h0m26 0h0m6 0h0m5 0h0m1 0h0m3 0h0m2 0h0m18 0h0m43 0h0m-216 1h0m1 0h0m2 0h0m1 0h0m3 0h0m2 0h0m4 0h0m1 0h0m1 0h0m51 0h0m59 0h0m16 0h0m7 0h0m17 0h0m13 0h0m5 0h0m2 0h0m186 0h0m-370 1h0m1 0h0m2 0h0m18 0h0m46 0h0m10 0h0m57 0h0m11 0h0m11 0h0m13 0h0m-160 1h0m4 0h0m8 0h0m32 0h0m22 0h0m74 0h0m1 0h0m21 0h0m30 0h0m-178 1h0m25 0h0m13 0h0m13 0h0m3 0h0m75 0h0m17 0h0m23 0h0m-177 1h0m134 0h0m17 0h0m9 0h0m7 0h0m-166 1h0m147 0h0m13 0h0m-165 1h0m1 0h0m1 0h0m13 0h0m24 0h0m90 0h0m5 0h0m-118 1h0m23 0h0m116 0h0m-18 1h0m39 0h0m8 0h0m-170 1h0m30 0h0m-41 1h0m3 0h0m1 0h0m41 0h0m-50 1h0m6 0h0m2 0h0m7 0h0m5 0h0m-19 1h0m6 0h0m4 0h0m141 0h0m21 0h0m-179 1h0m6 0h0m7 0h0m3 0h0m12 0h0m156 0h0m-182 1h0m7 0h0m2 0h0m10 0h0m1 0h0m-25 1h0m9 0h0m5 0h0m4 0h0m138 0h0m-156 1h0m29 0h0m8 0h0m146 0h0m-182 1h0m7 0h0m1 0h0m8 0h0m1 0h0m12 0h0m13 0h0m114 0h0m3 0h0m-155 1h0m3 0h0m12 0h0m18 0h0m120 0h0m5 0h0m-163 1h0m16 0h0m4 0h0m1 0h0m9 0h0m4 0h0m119 0h0m4 0h0m-157 1h0m23 0h0m1 0h0m142 0h0m-141 1h0m131 0h0m-154 1h0m1 0h0m1 0h0m1 0h0m3 0h0m1 0h0m14 0h0m-20 1h0m2 0h0m9 0h0m5 0h0m5 0h0m4 0h0m132 0h0m-158 1h0m4 0h0m24 0h0m127 0h0m-138 1h0m134 0h0m5 0h0m10 0h0m5 0h0m23 0h0m-193 1h0m5 0h0m7 0h0m2 0h0m6 0h0m14 0h0m-33 1h0m6 0h0m2 0h0m9 0h0m136 0h0m-151 1h0m2 0h0m14 0h0m1 0h0m5 0h0m-13 1h0m2 0h0m6 0h0m10 0h0m3 0h0m117 0h0m5 0h0m-152 1h0m11 0h0m4 0h0m14 0h0m115 0h0m5 0h0m-145 1h0m10 0h0m133 0h0m16 0h0m-164 1h0m7 0h0m1 0h0m3 0h0m1 0h0m6 0h0m1 0h0m2 0h0m10 0h0m-28 1h0m2 0h0m3 0h0m16 0h0m120 0h0m-133 1h0m3 0h0m2 0h0m3 0h0m1 0h0m4 0h0m4 0h0m1 0h0m112 0h0m3 0h0m2 0h0m5 0h0m2 0h0m-146 1h0m6 0h0m18 0h0m106 0h0m11 0h0m-146 1h0m2 0h0m17 0h0m7 0h0m108 0h0m8 0h0m-135 1h0m14 0h0m1 0h0m4 0h0m107 0h0m5 0h0m1 0h0m15 0h0m-145 1h0m3 0h0m2 0h0m120 0h0m25 0h0m-147 1h0m13 0h0m6 0h0m104 0h0m4 0h0m10 0h0m-150 1h0m3 0h0m143 0h0m8 0h0m-157 1h0m1 0h0m1 0h0m4 0h0m4 0h0m1 0h0m3 0h0m7 0h0m1 0h0m110 0h0m-134 1h0m4 0h0m10 0h0m3 0h0m6 0h0m4 0h0m108 0h0m12 0h0m-139 1h0m9 0h0m5 0h0m13 0h0m97 0h0m5 0h0m1 0h0m3 0h0m1 0h0m32 0h0m71 0h0m-242 1h0m5 0h0m5 0h0m1 0h0m1 0h0m8 0h0m8 0h0m2 0h0m-29 1h0m3 0h0m6 0h0m1 0h0m7 0h0m6 0h0m1 0h0m4 0h0m6 0h0m91 0h0m1 0h0m9 0h0m-129 1h0m3 0h0m2 0h0m6 0h0m2 0h0m-10 1h0m4 0h0m1 0h0m4 0h0m6 0h0m1 0h0m4 0h0m5 0h0m90 0h0m-122 1h0m12 0h0m4 0h0m108 0h0m6 0h0m-134 1h0m4 0h0m1 0h0m3 0h0m14 0h0m7 0h0m-29 1h0m3 0h0m6 0h0m3 0h0m16 0h0m-21 1h0m20 0h0m2 0h0m-23 1h0m1 0h0m2 0h0m7 0h0m3 0h0m2 0h0m-13 1h0m2 0h0m1 0h0m4 0h0m8 0h0m-22 1h0m1 0h0m1 0h0m13 0h0m12 0h0m-27 1h0m1 0h0m11 0h0m2 0h0m6 0h0m2 0h0m3 0h0m-22 1h0m12 0h0m3 0h0m9 0h0m2 0h0m-31 1h0m1 0h0m6 0h0m1 0h0m5 0h0m11 0h0m9 0h0m-36 1h0m8 0h0m28 0h0m-34 1h0m-4 1h0m-9 1h0m3 0h0"/>
<path stroke="#ff0000" stroke-width="1" d="M279 790.5h7m-7 1h7m-24 10h9m-9 1h8m17 0h9m-39 1h13m17 0h10m-39 1h7m10 2h8m-37 4h12m1 0h8m15 0h9m-50 1h17m1 0h9m12 0h10m-30 1h8m9 0h7m-16 1h8m1 0h7m-19 2h18m-18 1h25m-14 1h9m-49 1h12m18 0h7m20 0h8m-65 1h15m8 0h19m3 0h11m-50 1h10m12 0h11m6 0h10m-48 1h9m-9 1h8m19 0h9m-45 1h15m14 0h13m9 0h7m2 0h9m-40 1h8m1 0h7m5 0h8m-63 1h9m15 0h7m4 0h7m1 0h7m-40 1h7m15 0h9m10 0h7m-46 1h13m5 0h11m6 0h11m-42 1h9m8 0h11m1 0h12m-41 1h10m7 0h11m1 0h13m-46 1h11m8 0h22m15 0h7m-71 1h21m6 0h22m15 0h7m-42 1h7m3 0h10m27 0h8m-59 1h10m1 0h10m1 0h12m-49 1h14m1 0h27m7 0h14m-73 1h8m2 0h14m1 0h32m6 0h7m-70 1h10m15 0h24m2 0h7m1 0h11m-78 1h9m1 0h8m13 0h27m1 0h19m-78 1h9m1 0h27m1 0h30m-54 1h61m-78 1h10m2 0h8m1 0h31m1 0h16m1 0h11m-62 1h29m9 0h15m1 0h8m-62 1h8m1 0h28m1 0h16m4 0h7m-67 1h37m1 0h14m1 0h14m1 0h8m-71 1h15m1 0h26m6 0h8m-81 1h7m21 0h39m-39 1h42m4 0h11m1 0h10m-68 1h65m-72 1h68m-73 1h69m-69 1h69m1 0h10m-90 1h7m1 0h19m2 0h27m1 0h10m2 0h7m1 0h13m-102 1h9m3 0h14m2 0h69m-87 1h17m1 0h17m1 0h51m-80 1h71m1 0h8m5 0h8m-95 1h7m1 0h65m1 0h8m-82 1h7m1 0h77m-71 1h58m1 0h16m-99 1h8m11 0h74m-93 1h8m7 0h18m1 0h50m-89 1h7m3 0h9m1 0h15m1 0h51m1 0h8m-96 1h18m10 0h8m1 0h54m-73 1h60m1 0h12m-77 1h64m2 0h11m-77 1h11m1 0h59m8 0h7m3 0h11m-104 1h14m2 0h73m6 0h11m-99 1h8m1 0h63m1 0h14m-87 1h42m1 0h44m-101 1h9m5 0h86m-77 1h64m-80 1h8m2 0h69m1 0h11m-98 1h16m1 0h84m-101 1h16m1 0h7m1 0h66m1 0h9m-85 1h75m-91 1h91m5 0h10m-107 1h8m2 0h11m1 0h85m-91 1h83m-89 1h72m1 0h13m5 0h7m-96 1h88m1 0h8m-96 1h87m2 0h7m-95 1h77m-80 1h80m2 0h8m-90 1h75m-79 1h91m-92 1h9m1 0h78m-95 1h9m8 0h86m-94 1h90m-90 1h90m-81 1h72m-92 1h9m10 0h77m-87 1h88m6 0h12m-106 1h96m-95 1h80m1 0h14m-87 1h89m-91 1h76m-77 1h84m-90 1h90m-98 1h90m6 0h9m-105 1h16m1 0h82m2 0h8m-114 1h8m1 0h97m-88 1h73m1 0h7m2 0h10m-104 1h7m5 0h79m5 0h8m-93 1h80m-81 1h10m3 0h68m-90 1h90m-88 1h7m1 0h75m6 0h9m-91 1h73m1 0h17m-112 1h7m14 0h91m-91 1h71m1 0h8m-80 1h10m1 0h62m1 0h10m-73 1h81m-88 1h9m1 0h72m-86 1h8m1 0h25m1 0h49m2 0h7m-102 1h21m1 0h70m-79 1h77m-77 1h71m3 0h8m-94 1h93m-98 1h96m-89 1h7m2 0h71m1 0h8m-89 1h7m3 0h70m-71 1h74m-70 1h35m1 0h35m-76 1h41m1 0h25m-67 1h73m-71 1h72m-72 1h10m1 0h68m-98 1h8m10 0h8m1 0h69m-74 1h62m6 0h11m-81 1h54m1 0h9m1 0h8m-85 1h67m1 0h8m-75 1h13m3 0h8m1 0h41m1 0h11m-78 1h24m1 0h53m-78 1h78m-71 1h9m4 0h59m-70 1h9m8 0h13m1 0h31m-71 1h8m1 0h9m1 0h8m2 0h47m-71 1h13m1 0h8m1 0h24m1 0h9m2 0h12m-82 1h7m18 0h22m1 0h34m-68 1h65m-65 1h59m24 0h7m-85 1h14m1 0h37m6 0h9m3 0h11m-80 1h19m1 0h31m1 0h11m6 0h10m-77 1h8m2 0h39m1 0h22m-62 1h8m1 0h36m2 0h13m-78 1h12m1 0h8m1 0h54m-74 1h19m3 0h13m2 0h18m1 0h11m-66 1h56m1 0h10m2 0h8m-87 1h9m4 0h9m4 0h47m-57 1h26m1 0h24m-46 1h9m1 0h7m1 0h19m1 0h7m10 0h7m-44 1h27m1 0h7m-39 1h27m5 0h8m-40 1h40m-41 1h23m1 0h15m-54 1h7m2 0h18m1 0h20m-49 1h8m2 0h23m1 0h15m-54 1h7m2 0h35m-47 1h9m1 0h15m1 0h19m-31 1h37m-54 1h9m8 0h9m12 0h12m11 0h8m-58 1h10m2 0h15m8 0h10m10 0h8m-53 1h9m1 0h8m-24 1h10m25 0h7m2 0h10m3 0h7m-43 1h9m-27 1h29m-45 1h8m10 0h13m11 0h7m-39 1h7m3 0h7m16 0h7m12 0h8m-61 1h8m21 0h7m-17 1h15m1 0h7m-49 2h9m-9 1h7m29 0h14m-14 1h7m-15 1h9m0 3h7"/>
<path stroke="#ff0000" stroke-linecap="square" stroke-width="2" d="M311 782h0m-40 1h0m16 0h0m17 0h0m3 0h0m-36 1h0m30 0h0m27 0h0m-60 1h0m17 0h0m37 0h0m-48 1h0m-5 1h0m6 0h0m4 0h0m10 0h0m11 0h0m4 0h0m-24 1h0m17 0h0m36 0h0m-65 1h0m48 0h0m6 0h0m-54 1h0m13 0h0m-9 1h0m34 0h0m-24 1h0m11 0h0m12 0h0m-15 1h0m3 0h0m2 0h0m-19 1h0m17 0h0m7 0h0m6 0h0m1 0h0m-49 1h0m1 0h0m24 0h0m1 0h0m6 0h0m9 0h0m15 0h0m-53 1h0m1 0h0m20 0h0m29 0h0m10 0h0m3 0h0m-35 1h0m2 0h0m-35 1h0m6 0h0m16 0h0m20 0h0m25 0h0m-69 1h0m3 0h0m3 0h0m7 0h0m3 0h0m6 0h0m11 0h0m8 0h0m1 0h0m-23 1h0m16 0h0m31 0h0m8 0h0m-74 1h0m16 0h0m5 0h0m-20 1h0m4 0h0m18 0h0m17 0h0m7 0h0m2 0h0m4 0h0m-56 1h0m4 0h0m3 0h0m2 0h0m14 0h0m46 0h0m-42 1h0m4 0h0m3 0h0m8 0h0m3 0h0m29 0h0m-65 1h0m1 0h0m6 0h0m1 0h0m14 0h0m6 0h0m2 0h0m7 0h0m5 0h0m21 0h0m8 0h0m-74 1h0m19 0h0m1 0h0m3 0h0m1 0h0m12 0h0m8 0h0m3 0h0m6 0h0m-63 1h0m1 0h0m7 0h0m2 0h0m4 0h0m1 0h0m14 0h0m3 0h0m3 0h0m7 0h0m1 0h0m11 0h0m6 0h0m10 0h0m-68 1h0m13 0h0m5 0h0m2 0h0m8 0h0m19 0h0m3 0h0m8 0h0m-49 1h0m17 0h0m5 0h0m1 0h0m4 0h0m2 0h0m9 0h0m4 0h0m6 0h0m3 0h0m9 0h0m8 0h0m-77 1h0m11 0h0m4 0h0m26 0h0m7 0h0m10 0h0m-12 1h0m24 0h0m-77 1h0m1 0h0m1 0h0m1 0h0m25 0h0m2 0h0m1 0h0m24 0h0m16 0h0m1 0h0m13 0h0m-84 1h0m18 0h0m2 0h0m8 0h0m1 0h0m1 0h0m24 0h0m20 0h0m-75 1h0m14 0h0m4 0h0m3 0h0m6 0h0m3 0h0m3 0h0m5 0h0m2 0h0m13 0h0m5 0h0m9 0h0m-56 1h0m1 0h0m3 0h0m3 0h0m6 0h0m3 0h0m8 0h0m3 0h0m12 0h0m7 0h0m18 0h0m-61 1h0m1 0h0m6 0h0m22 0h0m2 0h0m5 0h0m5 0h0m10 0h0m4 0h0m-72 1h0m9 0h0m9 0h0m1 0h0m8 0h0m23 0h0m7 0h0m14 0h0m1 0h0m16 0h0m-90 1h0m2 0h0m4 0h0m1 0h0m1 0h0m5 0h0m5 0h0m2 0h0m6 0h0m4 0h0m1 0h0m1 0h0m9 0h0m1 0h0m10 0h0m5 0h0m3 0h0m12 0h0m1 0h0m1 0h0m-54 1h0m3 0h0m3 0h0m13 0h0m1 0h0m5 0h0m3 0h0m4 0h0m2 0h0m4 0h0m3 0h0m2 0h0m10 0h0m-73 1h0m2 0h0m15 0h0m7 0h0m16 0h0m17 0h0m1 0h0m3 0h0m-37 1h0m1 0h0m3 0h0m2 0h0m2 0h0m3 0h0m1 0h0m4 0h0m5 0h0m1 0h0m5 0h0m6 0h0m14 0h0m3 0h0m1 0h0m14 0h0m-69 1h0m4 0h0m1 0h0m3 0h0m2 0h0m5 0h0m1 0h0m3 0h0m6 0h0m3 0h0m3 0h0m1 0h0m1 0h0m7 0h0m12 0h0m-74 1h0m2 0h0m4 0h0m13 0h0m6 0h0m18 0h0m12 0h0m1 0h0m4 0h0m4 0h0m3 0h0m-70 1h0m7 0h0m3 0h0m4 0h0m8 0h0m4 0h0m2 0h0m1 0h0m17 0h0m19 0h0m4 0h0m8 0h0m29 0h0m-108 1h0m2 0h0m4 0h0m1 0h0m6 0h0m3 0h0m3 0h0m5 0h0m1 0h0m3 0h0m1 0h0m26 0h0m5 0h0m1 0h0m4 0h0m9 0h0m11 0h0m5 0h0m2 0h0m-90 1h0m2 0h0m6 0h0m2 0h0m8 0h0m1 0h0m6 0h0m1 0h0m1 0h0m14 0h0m9 0h0m1 0h0m2 0h0m1 0h0m16 0h0m1 0h0m1 0h0m11 0h0m19 0h0m-102 1h0m17 0h0m3 0h0m20 0h0m1 0h0m4 0h0m13 0h0m2 0h0m4 0h0m28 0h0m-93 1h0m29 0h0m12 0h0m20 0h0m5 0h0m1 0h0m3 0h0m3 0h0m9 0h0m8 0h0m-94 1h0m4 0h0m3 0h0m4 0h0m4 0h0m15 0h0m34 0h0m5 0h0m24 0h0m14 0h0m-98 1h0m1 0h0m5 0h0m12 0h0m30 0h0m2 0h0m3 0h0m2 0h0m10 0h0m2 0h0m12 0h0m-90 1h0m1 0h0m8 0h0m2 0h0m56 0h0m28 0h0m19 0h0m-101 1h0m2 0h0m3 0h0m9 0h0m1 0h0m5 0h0m32 0h0m1 0h0m10 0h0m2 0h0m9 0h0m2 0h0m2 0h0m-90 1h0m1 0h0m4 0h0m3 0h0m11 0h0m2 0h0m12 0h0m25 0h0m1 0h0m6 0h0m4 0h0m15 0h0m3 0h0m1 0h0m13 0h0m2 0h0m-99 1h0m8 0h0m10 0h0m4 0h0m3 0h0m1 0h0m31 0h0m2 0h0m1 0h0m5 0h0m2 0h0m2 0h0m3 0h0m2 0h0m1 0h0m8 0h0m14 0h0m-103 1h0m1 0h0m6 0h0m9 0h0m47 0h0m1 0h0m1 0h0m4 0h0m15 0h0m3 0h0m8 0h0m2 0h0m1 0h0m9 0h0m-102 1h0m2 0h0m14 0h0m1 0h0m1 0h0m2 0h0m3 0h0m1 0h0m1 0h0m40 0h0m13 0h0m4 0h0m-90 1h0m7 0h0m1 0h0m1 0h0m15 0h0m1 0h0m8 0h0m53 0h0m-86 1h0m25 0h0m2 0h0m3 0h0m1 0h0m2 0h0m42 0h0m2 0h0m2 0h0m5 0h0m1 0h0m3 0h0m29 0h0m-108 1h0m69 0h0m11 0h0m1 0h0m4 0h0m-96 1h0m6 0h0m2 0h0m8 0h0m1 0h0m66 0h0m7 0h0m12 0h0m13 0h0m-111 1h0m5 0h0m2 0h0m1 0h0m4 0h0m2 0h0m2 0h0m33 0h0m4 0h0m39 0h0m13 0h0m-112 1h0m7 0h0m7 0h0m42 0h0m1 0h0m3 0h0m1 0h0m28 0h0m14 0h0m-104 1h0m10 0h0m1 0h0m4 0h0m6 0h0m61 0h0m13 0h0m1 0h0m1 0h0m1 0h0m1 0h0m-92 1h0m3 0h0m4 0h0m5 0h0m1 0h0m5 0h0m48 0h0m1 0h0m13 0h0m3 0h0m3 0h0m6 0h0m6 0h0m-105 1h0m7 0h0m2 0h0m1 0h0m6 0h0m3 0h0m2 0h0m3 0h0m50 0h0m1 0h0m5 0h0m2 0h0m6 0h0m8 0h0m3 0h0m1 0h0m-101 1h0m6 0h0m8 0h0m2 0h0m13 0h0m1 0h0m1 0h0m52 0h0m3 0h0m1 0h0m1 0h0m1 0h0m3 0h0m1 0h0m5 0h0m2 0h0m-101 1h0m15 0h0m3 0h0m3 0h0m1 0h0m5 0h0m3 0h0m1 0h0m1 0h0m46 0h0m40 0h0m-103 1h0m8 0h0m1 0h0m6 0h0m2 0h0m75 0h0m9 0h0m-116 1h0m9 0h0m8 0h0m6 0h0m1 0h0m1 0h0m68 0h0m1 0h0m9 0h0m1 0h0m10 0h0m-111 1h0m6 0h0m5 0h0m3 0h0m80 0h0m2 0h0m8 0h0m16 0h0m-110 1h0m3 0h0m91 0h0m-104 1h0m5 0h0m91 0h0m-98 1h0m3 0h0m2 0h0m93 0h0m5 0h0m3 0h0m22 0h0m-118 1h0m1 0h0m2 0h0m92 0h0m16 0h0m-117 1h0m7 0h0m91 0h0m2 0h0m3 0h0m1 0h0m12 0h0m-131 1h0m13 0h0m7 0h0m1 0h0m88 0h0m4 0h0m2 0h0m6 0h0m10 0h0m5 0h0m-137 1h0m2 0h0m15 0h0m6 0h0m1 0h0m4 0h0m2 0h0m6 0h0m78 0h0m7 0h0m-104 1h0m3 0h0m2 0h0m1 0h0m5 0h0m8 0h0m1 0h0m1 0h0m74 0h0m5 0h0m3 0h0m12 0h0m-105 1h0m1 0h0m75 0h0m1 0h0m2 0h0m5 0h0m1 0h0m10 0h0m1 0h0m-116 1h0m2 0h0m4 0h0m1 0h0m13 0h0m2 0h0m73 0h0m8 0h0m1 0h0m5 0h0m-111 1h0m2 0h0m25 0h0m3 0h0m69 0h0m1 0h0m1 0h0m12 0h0m2 0h0m20 0h0m-127 1h0m5 0h0m1 0h0m2 0h0m5 0h0m7 0h0m1 0h0m73 0h0m1 0h0m31 0h0m-133 1h0m6 0h0m15 0h0m81 0h0m2 0h0m4 0h0m3 0h0m8 0h0m15 0h0m-125 1h0m84 0h0m1 0h0m5 0h0m4 0h0m1 0h0m5 0h0m9 0h0m-111 1h0m3 0h0m6 0h0m1 0h0m75 0h0m1 0h0m1 0h0m-92 1h0m10 0h0m4 0h0m1 0h0m1 0h0m100 0h0m2 0h0m5 0h0m-116 1h0m3 0h0m4 0h0m3 0h0m93 0h0m2 0h0m1 0h0m9 0h0m-115 1h0m6 0h0m1 0h0m3 0h0m102 0h0m-121 1h0m11 0h0m2 0h0m10 0h0m75 0h0m1 0h0m1 0h0m12 0h0m19 0h0m-129 1h0m3 0h0m11 0h0m4 0h0m1 0h0m1 0h0m6 0h0m70 0h0m3 0h0m4 0h0m16 0h0m9 0h0m1 0h0m-126 1h0m5 0h0m2 0h0m99 0h0m5 0h0m2 0h0m-124 1h0m118 0h0m9 0h0m-123 1h0m14 0h0m4 0h0m2 0h0m83 0h0m3 0h0m3 0h0m11 0h0m4 0h0m-127 1h0m2 0h0m1 0h0m3 0h0m2 0h0m6 0h0m1 0h0m6 0h0m2 0h0m3 0h0m100 0h0m11 0h0m-134 1h0m7 0h0m111 0h0m5 0h0m-125 1h0m1 0h0m8 0h0m3 0h0m4 0h0m2 0h0m7 0h0m89 0h0m-98 1h0m2 0h0m4 0h0m93 0h0m2 0h0m-119 1h0m16 0h0m4 0h0m92 0h0m16 0h0m-118 1h0m10 0h0m-9 1h0m4 0h0m3 0h0m3 0h0m85 0h0m1 0h0m1 0h0m8 0h0m8 0h0m4 0h0m1 0h0m-126 1h0m12 0h0m3 0h0m3 0h0m1 0h0m3 0h0m83 0h0m5 0h0m6 0h0m13 0h0m-130 1h0m3 0h0m10 0h0m6 0h0m81 0h0m5 0h0m1 0h0m2 0h0m1 0h0m10 0h0m4 0h0m9 0h0m-129 1h0m5 0h0m3 0h0m8 0h0m80 0h0m7 0h0m2 0h0m5 0h0m-100 1h0m95 0h0m7 0h0m4 0h0m-113 1h0m7 0h0m2 0h0m10 0h0m83 0h0m1 0h0m2 0h0m-104 1h0m4 0h0m1 0h0m4 0h0m8 0h0m1 0h0m87 0h0m4 0h0m17 0h0m-133 1h0m5 0h0m108 0h0m1 0h0m8 0h0m7 0h0m-128 1h0m3 0h0m9 0h0m10 0h0m3 0h0m77 0h0m4 0h0m1 0h0m5 0h0m5 0h0m-109 1h0m7 0h0m8 0h0m1 0h0m77 0h0m5 0h0m8 0h0m3 0h0m8 0h0m2 0h0m-127 1h0m10 0h0m1 0h0m2 0h0m1 0h0m4 0h0m4 0h0m2 0h0m88 0h0m2 0h0m5 0h0m2 0h0m6 0h0m-121 1h0m7 0h0m101 0h0m2 0h0m2 0h0m-112 1h0m1 0h0m107 0h0m4 0h0m-110 1h0m2 0h0m9 0h0m2 0h0m1 0h0m94 0h0m7 0h0m-113 1h0m3 0h0m2 0h0m90 0h0m3 0h0m5 0h0m9 0h0m3 0h0m-117 1h0m10 0h0m2 0h0m81 0h0m1 0h0m2 0h0m1 0h0m3 0h0m4 0h0m4 0h0m3 0h0m3 0h0m6 0h0m-108 1h0m89 0h0m5 0h0m5 0h0m2 0h0m-121 1h0m9 0h0m93 0h0m6 0h0m1 0h0m11 0h0m-20 1h0m16 0h0m5 0h0m-10 1h0m3 0h0m1 0h0m9 0h0m-120 1h0m2 0h0m2 0h0m5 0h0m2 0h0m3 0h0m1 0h0m93 0h0m13 0h0m-111 1h0m5 0h0m103 0h0m4 0h0m1 0h0m-116 1h0m2 0h0m3 0h0m3 0h0m89 0h0m8 0h0m-111 1h0m1 0h0m4 0h0m93 0h0m15 0h0m-120 1h0m2 0h0m2 0h0m10 0h0m4 0h0m1 0h0m1 0h0m94 0h0m4 0h0m1 0h0m1 0h0m1 0h0m7 0h0m1 0h0m-28 1h0m1 0h0m3 0h0m1 0h0m2 0h0m11 0h0m-101 1h0m82 0h0m1 0h0m16 0h0m-114 1h0m1 0h0m1 0h0m2 0h0m4 0h0m112 0h0m2 0h0m-123 1h0m12 0h0m90 0h0m6 0h0m5 0h0m2 0h0m-8 1h0m7 0h0m1 0h0m7 0h0m-106 1h0m5 0h0m1 0h0m4 0h0m1 0h0m1 0h0m79 0h0m1 0h0m2 0h0m1 0h0m-104 1h0m3 0h0m15 0h0m4 0h0m-15 1h0m3 0h0m1 0h0m4 0h0m88 0h0m1 0h0m1 0h0m3 0h0m7 0h0m-123 1h0m5 0h0m10 0h0m2 0h0m2 0h0m89 0h0m1 0h0m1 0h0m1 0h0m1 0h0m-108 1h0m2 0h0m7 0h0m6 0h0m1 0h0m1 0h0m2 0h0m87 0h0m11 0h0m-105 1h0m5 0h0m85 0h0m3 0h0m3 0h0m1 0h0m5 0h0m-117 1h0m18 0h0m1 0h0m1 0h0m1 0h0m92 0h0m1 0h0m-106 1h0m1 0h0m100 0h0m4 0h0m-113 1h0m10 0h0m1 0h0m94 0h0m5 0h0m-103 1h0m3 0h0m89 0h0m1 0h0m5 0h0m1 0h0m-107 1h0m2 0h0m3 0h0m92 0h0m3 0h0m1 0h0m5 0h0m3 0h0m4 0h0m-107 1h0m9 0h0m4 0h0m6 0h0m77 0h0m1 0h0m-96 1h0m11 0h0m7 0h0m68 0h0m2 0h0m3 0h0m6 0h0m5 0h0m4 0h0m7 0h0m1 0h0m-102 1h0m73 0h0m1 0h0m9 0h0m1 0h0m1 0h0m5 0h0m9 0h0m-114 1h0m10 0h0m3 0h0m4 0h0m79 0h0m1 0h0m1 0h0m5 0h0m2 0h0m-109 1h0m8 0h0m2 0h0m3 0h0m1 0h0m5 0h0m2 0h0m78 0h0m1 0h0m1 0h0m2 0h0m-96 1h0m6 0h0m7 0h0m1 0h0m1 0h0m93 0h0m-112 1h0m6 0h0m2 0h0m10 0h0m4 0h0m68 0h0m12 0h0m1 0h0m5 0h0m1 0h0m11 0h0m-109 1h0m1 0h0m77 0h0m1 0h0m1 0h0m9 0h0m7 0h0m3 0h0m-98 1h0m2 0h0m75 0h0m4 0h0m8 0h0m1 0h0m13 0h0m-26 1h0m4 0h0m1 0h0m3 0h0m12 0h0m4 0h0m1 0h0m-111 1h0m6 0h0m86 0h0m6 0h0m2 0h0m1 0h0m-103 1h0m2 0h0m1 0h0m88 0h0m16 0h0m-106 1h0m1 0h0m12 0h0m15 0h0m64 0h0m2 0h0m6 0h0m1 0h0m1 0h0m8 0h0m-102 1h0m5 0h0m2 0h0m68 0h0m1 0h0m4 0h0m7 0h0m1 0h0m4 0h0m1 0h0m14 0h0m-104 1h0m4 0h0m15 0h0m53 0h0m1 0h0m1 0h0m4 0h0m1 0h0m4 0h0m5 0h0m7 0h0m3 0h0m3 0h0m-110 1h0m9 0h0m2 0h0m77 0h0m8 0h0m8 0h0m6 0h0m-106 1h0m10 0h0m3 0h0m4 0h0m3 0h0m1 0h0m62 0h0m3 0h0m1 0h0m5 0h0m16 0h0m-109 1h0m3 0h0m2 0h0m6 0h0m3 0h0m3 0h0m1 0h0m3 0h0m63 0h0m1 0h0m3 0h0m3 0h0m2 0h0m6 0h0m-102 1h0m3 0h0m8 0h0m1 0h0m67 0h0m1 0h0m3 0h0m1 0h0m6 0h0m4 0h0m6 0h0m3 0h0m-108 1h0m11 0h0m4 0h0m9 0h0m61 0h0m3 0h0m1 0h0m1 0h0m1 0h0m1 0h0m18 0h0m-105 1h0m4 0h0m8 0h0m6 0h0m1 0h0m58 0h0m-78 1h0m6 0h0m9 0h0m75 0h0m-82 1h0m3 0h0m10 0h0m6 0h0m1 0h0m-30 1h0m20 0h0m4 0h0m3 0h0m3 0h0m3 0h0m2 0h0m65 0h0m13 0h0m-21 1h0m1 0h0m1 0h0m4 0h0m5 0h0m-104 1h0m7 0h0m1 0h0m85 0h0m2 0h0m3 0h0m1 0h0m12 0h0m-111 1h0m4 0h0m10 0h0m2 0h0m4 0h0m4 0h0m13 0h0m52 0h0m5 0h0m3 0h0m16 0h0m-107 1h0m12 0h0m3 0h0m6 0h0m56 0h0m1 0h0m1 0h0m7 0h0m8 0h0m1 0h0m1 0h0m7 0h0m6 0h0m-117 1h0m19 0h0m1 0h0m2 0h0m12 0h0m53 0h0m5 0h0m1 0h0m4 0h0m3 0h0m-74 1h0m1 0h0m3 0h0m3 0h0m7 0h0m1 0h0m8 0h0m34 0h0m4 0h0m1 0h0m7 0h0m8 0h0m1 0h0m1 0h0m-85 1h0m3 0h0m7 0h0m7 0h0m3 0h0m1 0h0m4 0h0m2 0h0m1 0h0m31 0h0m1 0h0m12 0h0m4 0h0m-86 1h0m10 0h0m13 0h0m1 0h0m3 0h0m1 0h0m2 0h0m4 0h0m2 0h0m33 0h0m1 0h0m15 0h0m1 0h0m6 0h0m14 0h0m-86 1h0m1 0h0m6 0h0m1 0h0m3 0h0m5 0h0m1 0h0m48 0h0m16 0h0m-96 1h0m7 0h0m8 0h0m10 0h0m5 0h0m41 0h0m5 0h0m2 0h0m-66 1h0m61 0h0m3 0h0m3 0h0m10 0h0m12 0h0m-114 1h0m16 0h0m3 0h0m53 0h0m2 0h0m5 0h0m3 0h0m12 0h0m3 0h0m8 0h0m-93 1h0m8 0h0m1 0h0m3 0h0m51 0h0m13 0h0m2 0h0m3 0h0m-69 1h0m1 0h0m9 0h0m36 0h0m1 0h0m1 0h0m7 0h0m5 0h0m11 0h0m4 0h0m-84 1h0m6 0h0m2 0h0m5 0h0m3 0h0m17 0h0m2 0h0m1 0h0m3 0h0m1 0h0m17 0h0m1 0h0m3 0h0m9 0h0m2 0h0m8 0h0m5 0h0m-85 1h0m10 0h0m2 0h0m5 0h0m1 0h0m1 0h0m1 0h0m15 0h0m1 0h0m4 0h0m8 0h0m1 0h0m10 0h0m1 0h0m7 0h0m2 0h0m13 0h0m6 0h0m-79 1h0m2 0h0m11 0h0m1 0h0m23 0h0m10 0h0m1 0h0m1 0h0m2 0h0m12 0h0m3 0h0m2 0h0m1 0h0m11 0h0m-88 1h0m20 0h0m1 0h0m1 0h0m1 0h0m13 0h0m6 0h0m4 0h0m2 0h0m4 0h0m3 0h0m2 0h0m1 0h0m1 0h0m5 0h0m1 0h0m3 0h0m2 0h0m7 0h0m1 0h0m3 0h0m1 0h0m-69 1h0m12 0h0m1 0h0m5 0h0m3 0h0m13 0h0m5 0h0m8 0h0m4 0h0m1 0h0m2 0h0m4 0h0m1 0h0m8 0h0m-98 1h0m11 0h0m14 0h0m8 0h0m8 0h0m3 0h0m1 0h0m3 0h0m3 0h0m1 0h0m4 0h0m15 0h0m1 0h0m3 0h0m2 0h0m6 0h0m5 0h0m2 0h0m-88 1h0m23 0h0m1 0h0m5 0h0m26 0h0m3 0h0m1 0h0m14 0h0m5 0h0m4 0h0m-56 1h0m2 0h0m8 0h0m19 0h0m6 0h0m1 0h0m16 0h0m7 0h0m2 0h0m2 0h0m-80 1h0m11 0h0m1 0h0m22 0h0m10 0h0m5 0h0m3 0h0m1 0h0m7 0h0m2 0h0m8 0h0m12 0h0m-83 1h0m1 0h0m3 0h0m9 0h0m5 0h0m6 0h0m2 0h0m9 0h0m5 0h0m3 0h0m2 0h0m2 0h0m3 0h0m11 0h0m2 0h0m1 0h0m6 0h0m4 0h0m12 0h0m-75 1h0m6 0h0m6 0h0m1 0h0m3 0h0m21 0h0m3 0h0m4 0h0m4 0h0m1 0h0m3 0h0m1 0h0m-41 1h0m1 0h0m14 0h0m8 0h0m6 0h0m8 0h0m5 0h0m3 0h0m6 0h0m-47 1h0m3 0h0m5 0h0m3 0h0m2 0h0m5 0h0m1 0h0m7 0h0m2 0h0m4 0h0m2 0h0m14 0h0m-54 1h0m1 0h0m13 0h0m4 0h0m3 0h0m21 0h0m2 0h0m9 0h0m-47 1h0m2 0h0m6 0h0m7 0h0m4 0h0m2 0h0m16 0h0m1 0h0m1 0h0m1 0h0m7 0h0m-46 1h0m1 0h0m13 0h0m3 0h0m4 0h0m1 0h0m2 0h0m12 0h0m-13 1h0m4 0h0m14 0h0m-30 1h0m4 0h0m4 0h0m2 0h0m6 0h0m1 0h0m2 0h0m-9 1h0m5 0h0m1 0h0m4 0h0m6 0h0m-16 1h0m4 0h0m1 0h0m1 0h0m3 0h0m5 0h0m-3 1h0"/>
<path stroke="#0000ff" stroke-width="1" d="M197 1037.5h9m-21 1h8m40 1h7m-48 2h10m1 0h15m2 0h13m7 0h9m-46 1h15m2 0h19m1 0h12m-54 1h19m2 0h19m-58 1h9m1 0h61m-69 1h61m-73 1h9m2 0h7m1 0h52m2 0h7m-83 1h12m10 0h67m-89 1h11m2 0h55m2 0h16m4 0h7m-95 1h83m-84 1h85m1 0h9m-96 1h86m1 0h9m-109 1h12m1 0h95m-95 1h83m-83 1h87m-90 1h90m-99 1h9m1 0h89m-95 1h98m-99 1h102m-96 1h94m-96 1h95m-99 1h99m-101 1h99m-99 1h10m1 0h83m-93 1h92m-87 1h87m-88 1h83m-80 1h85m-96 1h9m5 0h80m-78 1h73m-79 1h12m1 0h61m-75 1h64m-66 1h8m1 0h63m-64 1h64m-61 1h8m1 0h43m-41 1h24m1 0h12m8 0h8m-41 1h18"/>
<path stroke="#0000ff" stroke-linecap="square" stroke-width="2" d="M215 1027h0m8 0h0m4 1h0m-19 1h0m9 0h0m3 0h0m-26 1h0m13 0h0m17 0h0m3 0h0m-36 1h0m40 0h0m12 0h0m-48 1h0m36 0h0m3 0h0m-46 1h0m9 0h0m9 0h0m6 0h0m10 0h0m1 0h0m1 0h0m16 0h0m-59 1h0m43 0h0m-41 1h0m33 0h0m14 0h0m9 0h0m1 0h0m11 0h0m-68 1h0m16 0h0m19 0h0m11 0h0m13 0h0m-62 1h0m1 0h0m17 0h0m1 0h0m1 0h0m1 0h0m4 0h0m3 0h0m13 0h0m3 0h0m17 0h0m10 0h0m-65 1h0m1 0h0m3 0h0m2 0h0m9 0h0m1 0h0m2 0h0m1 0h0m4 0h0m2 0h0m5 0h0m34 0h0m-75 1h0m13 0h0m4 0h0m17 0h0m2 0h0m16 0h0m4 0h0m3 0h0m4 0h0m1 0h0m15 0h0m12 0h0m-75 1h0m7 0h0m4 0h0m8 0h0m7 0h0m3 0h0m2 0h0m4 0h0m9 0h0m2 0h0m6 0h0m10 0h0m-83 1h0m5 0h0m2 0h0m16 0h0m4 0h0m2 0h0m5 0h0m1 0h0m4 0h0m3 0h0m3 0h0m7 0h0m3 0h0m2 0h0m1 0h0m4 0h0m6 0h0m3 0h0m2 0h0m2 0h0m-70 1h0m8 0h0m1 0h0m9 0h0m1 0h0m2 0h0m3 0h0m2 0h0m35 0h0m1 0h0m1 0h0m13 0h0m4 0h0m4 0h0m4 0h0m1 0h0m-90 1h0m14 0h0m1 0h0m10 0h0m1 0h0m1 0h0m48 0h0m5 0h0m4 0h0m2 0h0m-87 1h0m8 0h0m1 0h0m1 0h0m3 0h0m8 0h0m1 0h0m49 0h0m3 0h0m2 0h0m1 0h0m7 0h0m-99 1h0m5 0h0m5 0h0m1 0h0m6 0h0m3 0h0m68 0h0m11 0h0m-100 1h0m5 0h0m4 0h0m7 0h0m2 0h0m70 0h0m2 0h0m1 0h0m1 0h0m-84 1h0m17 0h0m4 0h0m66 0h0m2 0h0m-91 1h0m1 0h0m18 0h0m3 0h0m2 0h0m68 0h0m3 0h0m4 0h0m1 0h0m-5 1h0m1 0h0m2 0h0m-104 1h0m6 0h0m94 0h0m2 0h0m2 0h0m-96 1h0m-10 1h0m2 0h0m1 0h0m4 0h0m2 0h0m1 0h0m-7 1h0m1 0h0m1 0h0m4 0h0m90 0h0m1 0h0m5 0h0m1 0h0m-112 1h0m9 0h0m1 0h0m94 0h0m5 0h0m4 0h0m-109 1h0m2 0h0m3 0h0m4 0h0m3 0h0m95 0h0m-108 1h0m7 0h0m3 0h0m95 0h0m1 0h0m-102 1h0m1 0h0m99 0h0m3 0h0m-104 1h0m1 0h0m103 0h0m-105 1h0m5 0h0m1 0h0m1 0h0m1 0h0m-12 1h0m5 0h0m1 0h0m-1 1h0m-6 1h0m5 0h0m0 1h0m98 0h0m1 0h0m-101 1h0m1 0h0m1 0h0m6 1h0m-10 1h0m96 0h0m1 0h0m-93 1h0m8 0h0m86 0h0m-94 1h0m1 0h0m1 0h0m4 0h0m-3 1h0m2 0h0m2 0h0m4 1h0m2 0h0m72 0h0m1 0h0m-84 1h0m4 0h0m68 0h0m5 0h0m1 0h0m5 0h0m3 0h0m-13 1h0m6 0h0m3 0h0m2 0h0m-79 1h0m3 0h0m-10 1h0m7 0h0m8 0h0m58 0h0m3 0h0m-74 1h0m10 0h0m2 0h0m4 0h0m3 0h0m2 0h0m51 0h0m6 0h0m-45 1h0m26 0h0m2 0h0m4 0h0m1 0h0m8 0h0m1 0h0m1 0h0m-66 1h0m10 0h0m6 0h0m2 0h0m1 0h0m7 0h0m4 0h0m2 0h0m2 0h0m5 0h0m2 0h0m9 0h0m13 0h0"/>
<path stroke="#c000ff" stroke-linecap="square" stroke-width="2" d="M97 882h0m0 8h0m0 2h0m2 1h0m1 1h0m-1 12h0m-2 1h0m3 3h0m-3 1h0m3 0h0m0 1h0m-2 2h0m1 0h0m1 0h0m-3 2h0m3 1h0m0 1h0m-2 3h0m2 0h0m0 2h0m-2 1h0m1 0h0m-2 1h0m1 0h0m1 0h0m1 0h0m-4 2h0m3 2h0m-2 1h0m0 1h0m2 0h0m-2 1h0m1 0h0m1 0h0m1 0h0m1 0h0m-5 3h0m3 0h0m1 0h0m-3 1h0m3 0h0m-1 2h0m1 0h0m-3 1h0m1 0h0m-1 1h0m1 1h0m-1 1h0m1 0h0m2 2h0m0 1h0m-2 1h0"/>
</g>
<g fill="none" stroke="#000">
<polygon points="200.8,858.2 268,782.2 332.2,781.2 344.6,855 320.4,958.8 275.2,979.7 204.8,967.4" stroke-width="1.5"/>
<polygon points="147.7,1049.9 151.9,1083.2 227.9,1083.2 233.3,1078.3 260.8,1057.6 264.6,1043.7 267.6,1036.9 261.6,1039.1 241.7,1030.3 217.3,1026.4 194.2,1030.3 181.2,1032.2" stroke-width="3" stroke-linejoin="round"/>
<rect x="96.3" y="876.3" width="4.6" height="70.2" stroke="#999" stroke-width="1.2"/>
</g>
<rect x="82.1" y="632.6" width="525" height="457.7" fill="none" stroke="#000" stroke-width="2"/>
<path d="M82.1 1072.9h-8M100.5 1090.3v9.8M82.1 1055.5h-8M120.6 1090.3v9.8M82.1 1038.1h-8M140.6 1090.3v9.8M82.1 1020.7h-8M160.7 1090.3v9.8M82.1 1003.3h-14.5M180.8 1090.3v16.5M82.1 985.8h-8M200.8 1090.3v9.8M82.1 968.4h-8M220.9 1090.3v9.8M82.1 951h-8M240.9 1090.3v9.8M82.1 933.6h-8M261 1090.3v9.8M82.1 916.2h-14.5M281 1090.3v16.5M82.1 898.8h-8M301.1 1090.3v9.8M82.1 881.3h-8M321.2 1090.3v9.8M82.1 863.9h-8M341.2 1090.3v9.8M82.1 846.5h-8M361.3 1090.3v9.8M82.1 829.1h-14.5M381.3 1090.3v16.5M82.1 811.7h-8M401.4 1090.3v9.8M82.1 794.2h-8M421.5 1090.3v9.8M82.1 776.8h-8M441.5 1090.3v9.8M82.1 759.4h-8M461.6 1090.3v9.8M82.1 742h-14.5M481.6 1090.3v16.5M82.1 724.6h-8M501.7 1090.3v9.8M82.1 707.2h-8M521.8 1090.3v9.8M82.1 689.7h-8M541.8 1090.3v9.8M82.1 672.3h-8M561.9 1090.3v9.8M82.1 654.9h-14.5M581.9 1090.3v16.5M82.1 637.5h-8M602 1090.3v9.8" stroke="#000" stroke-width="1.6" fill="none"/>
<g font-family="Liberation Sans, Arial, sans-serif" font-size="16.5" fill="#000" stroke="#000" stroke-width="0.35">
<text x="179.2" y="1122.8" text-anchor="middle" textLength="15.5" lengthAdjust="spacingAndGlyphs">50</text>
<text transform="translate(67.8 1002.8) rotate(-90)" x="0" y="0" text-anchor="middle" textLength="15.5" lengthAdjust="spacingAndGlyphs">50</text>
<text x="279.5" y="1122.8" text-anchor="middle" textLength="23.2" lengthAdjust="spacingAndGlyphs">100</text>
<text transform="translate(67.8 915.7) rotate(-90)" x="0" y="0" text-anchor="middle" textLength="23.2" lengthAdjust="spacingAndGlyphs">100</text>
<text x="379.8" y="1122.8" text-anchor="middle" textLength="23.2" lengthAdjust="spacingAndGlyphs">150</text>
<text transform="translate(67.8 828.6) rotate(-90)" x="0" y="0" text-anchor="middle" textLength="23.2" lengthAdjust="spacingAndGlyphs">150</text>
<text x="480.1" y="1122.8" text-anchor="middle" textLength="23.2" lengthAdjust="spacingAndGlyphs">200</text>
<text transform="translate(67.8 741.5) rotate(-90)" x="0" y="0" text-anchor="middle" textLength="23.2" lengthAdjust="spacingAndGlyphs">200</text>
<text x="580.4" y="1122.8" text-anchor="middle" textLength="23.2" lengthAdjust="spacingAndGlyphs">250</text>
<text transform="translate(67.8 654.4) rotate(-90)" x="0" y="0" text-anchor="middle" textLength="23.2" lengthAdjust="spacingAndGlyphs">250</text>
</g>
<g font-family="Liberation Sans, Arial, sans-serif" fill="#000">
<text x="344.4" y="1140" font-size="21.5" text-anchor="middle" textLength="57.7" lengthAdjust="spacingAndGlyphs">FSC-A</text>
<text transform="translate(47.9 854.7) rotate(-90)" font-size="21.5" text-anchor="middle" textLength="59.8" lengthAdjust="spacingAndGlyphs">SSC-A</text>
<text x="544" y="1146.3" font-size="17" textLength="60.2" lengthAdjust="spacingAndGlyphs">(x 1,000)</text>
<text transform="translate(46.1 694.2) rotate(-90)" font-size="17" textLength="59.4" lengthAdjust="spacingAndGlyphs">(x 1,000)</text>
</g>
<g font-family="Liberation Sans, Arial, sans-serif" font-size="17" fill="#000">
<text x="258" y="889.2">P1</text>
<text x="195.4" y="1064.4">P3</text>
<text x="92.9" y="910.1">P4</text>
</g>
<g font-family="Liberation Serif, Times New Roman, serif" font-size="32.9" fill="#000">
<text x="376.3" y="786.4">Neutrophils</text>
<text x="376.8" y="829.2">(31.4%)</text>
<text x="362.5" y="1017.2">Monocytes</text>
<text x="299" y="1077.3">Lymphocytes (35.5%)</text>
</g>
<text x="1.1" y="622.7" font-family="Liberation Sans, Arial, sans-serif" font-size="49.6" textLength="45.2" lengthAdjust="spacingAndGlyphs" fill="#000">D.</text>
</g>
<g id="panelE">
<g fill="none">
<path stroke="#000" stroke-width="1" d="M943 964.5h7m-9 1h7m1 0h9m-9 1h8m-21 1h10m-11 1h11m-14 1h11m2 0h7m-22 1h12m-15 1h15m-18 1h24m-26 1h27m-28 1h22m2 0h7m-32 1h23m-26 1h26m-27 1h18m1 0h12m-51 1h10m1 0h7m2 0h31m-51 1h47m-46 1h40m2 0h9m-50 1h39m-41 1h10m5 0h26m1 0h11m-53 1h41m-43 1h47m3 0h9m-59 1h7m7 0h12m1 0h21m1 0h14m-64 1h7m9 0h11m1 0h26m-34 1h11m1 0h22m-45 1h9m2 0h25m2 0h8m-47 1h19m1 0h17m3 0h8m-48 1h16m1 0h20m2 0h9m-51 1h7m2 0h27m6 0h9m-56 1h12m2 0h27m-40 1h31m11 0h8m-50 1h26m2 0h10m7 0h10m-49 1h13m2 0h23m-38 1h14m1 0h11m6 0h13m-49 1h35m1 0h10m-59 1h7m12 0h26m5 0h9m-40 1h10m5 0h11m2 0h10m-33 1h23m-35 1h10m2 0h12m1 0h10m-29 1h17m1 0h10m-33 1h33m-143 1h10m100 0h32m-36 1h26m1 0h8m-28 1h11m1 0h8m-30 1h18m1 0h12m-15 1h15m-139 1h11m118 0h14m-141 1h12m95 0h11m-8 1h24m16 0h7m-43 1h21m-123 1h7m104 0h12m2 0h7m-29 1h19m-139 1h8m104 0h8m2 0h20m-119 1h13m68 0h7m1 0h13m-102 1h13m68 0h7m2 0h12m-129 1h7m10 0h8m78 0h11m2 0h9m1 0h10m-138 1h9m78 0h7m1 0h17m9 0h16m-42 1h10m2 0h26m-77 1h9m40 0h17m1 0h10m-126 1h7m61 0h7m15 0h10m1 0h14m-42 1h9m3 0h14m9 0h12m-63 1h8m19 0h10m1 0h9m-50 1h11m19 0h12m-44 1h9m27 0h8m6 0h10m15 0h7m-121 1h8m29 0h11m38 0h18m-95 1h7m72 0h7m1 0h13m-100 1h7m75 0h8m-4 1h7m2 0h7m-126 1h7m2 0h7m97 1h17m-15 1h15m-142 1h7m128 0h7m-130 1h8m-7 1h7m-3 2h20m-15 1h14m-34 1h10m1 0h9m2 0h11m-33 1h11m1 0h8m-22 1h22m-23 1h20m2 0h9m-36 1h19m1 0h16m-33 1h16m1 0h13m-31 1h29m-33 1h31m-31 1h9m1 0h20m-27 1h27m-27 1h28m-28 1h28m-27 1h27m-27 1h27m-32 1h32m-29 1h29m-28 1h28m-28 1h28m-28 1h29m-29 1h29m-29 1h30m-31 1h31m-31 1h30m-29 1h29m-29 1h30m-30 1h30m-29 1h28m-30 1h30m-31 1h32m-29 1h30m-31 1h31m-31 1h31m-31 1h31m-31 1h30m-30 1h31m-31 1h32m-32 1h32m-32 1h31m-31 1h31m-29 1h16m1 0h12m-29 1h19m1 0h9"/>
<path stroke="#000" stroke-linecap="square" stroke-width="2" d="M796 635h0m33 0h0m281 24h0m-142 2h0m-150 4h0m335 1h0m-55 1h0m-285 2h0m-50 4h0m380 2h0m-313 6h0m222 2h0m-150 1h0m-71 1h0m23 0h0m-85 3h0m400 1h0m-389 2h0m71 2h0m-56 5h0m262 0h0m-219 1h0m350 0h0m-413 1h0m333 1h0m-252 1h0m-19 4h0m191 0h0m-233 3h0m57 7h0m-75 4h0m33 0h0m202 3h0m-247 2h0m89 0h0m85 1h0m-175 2h0m47 2h0m77 0h0m14 4h0m-29 1h0m279 8h0m-79 7h0m-302 1h0m436 0h0m-365 4h0m-32 1h0m275 0h0m-139 3h0m44 1h0m-136 3h0m-78 1h0m30 0h0m30 2h0m-38 1h0m-26 4h0m317 0h0m-208 1h0m7 2h0m73 1h0m93 1h0m-35 2h0m-253 2h0m16 1h0m-1 2h0m22 0h0m361 0h0m-370 9h0m-23 1h0m26 2h0m-16 1h0m349 0h0m-33 1h0m-293 3h0m0 1h0m1 2h0m376 1h0m-295 1h0m212 2h0m46 1h0m-266 1h0m-22 1h0m-87 1h0m60 0h0m-59 1h0m285 0h0m-262 1h0m54 0h0m0 2h0m227 3h0m-295 3h0m42 1h0m172 1h0m67 0h0m41 0h0m-248 4h0m-34 1h0m308 0h0m-282 1h0m199 0h0m101 0h0m-99 2h0m100 1h0m-47 1h0m-6 1h0m24 0h0m2 0h0m29 0h0m-41 1h0m-279 1h0m-86 6h0m89 0h0m293 0h0m-329 1h0m365 0h0m-27 1h0m-37 1h0m69 0h0m-380 1h0m6 0h0m270 0h0m63 0h0m-27 2h0m5 1h0m-4 1h0m47 0h0m54 0h0m-364 1h0m283 1h0m5 0h0m-325 1h0m302 3h0m-288 2h0m314 0h0m9 0h0m-348 2h0m350 0h0m-334 1h0m268 0h0m58 0h0m-348 1h0m31 0h0m326 1h0m-351 2h0m328 0h0m14 0h0m-354 2h0m337 0h0m-13 1h0m42 1h0m-419 1h0m409 0h0m-362 3h0m26 0h0m19 1h0m327 0h0m-341 2h0m321 0h0m-33 1h0m42 0h0m-54 1h0m-245 1h0m299 0h0m-321 2h0m13 0h0m292 0h0m23 0h0m-346 1h0m206 1h0m88 0h0m-342 2h0m345 1h0m30 1h0m-339 1h0m53 1h0m264 0h0m-313 1h0m287 0h0m10 0h0m-284 1h0m27 5h0m293 0h0m-277 1h0m300 0h0m6 0h0m1 0h0m4 0h0m-39 1h0m-280 1h0m302 0h0m-325 2h0m183 0h0m85 0h0m42 0h0m20 0h0m21 0h0m-322 3h0m193 0h0m-204 3h0m335 0h0m-56 2h0m-133 3h0m121 2h0m31 0h0m-342 2h0m210 0h0m102 0h0m65 0h0m57 1h0m-161 1h0m49 0h0m-82 1h0m64 0h0m59 0h0m-159 1h0m-170 2h0m292 2h0m11 0h0m-91 1h0m-211 1h0m283 0h0m-122 1h0m-3 1h0m2 0h0m-177 1h0m5 0h0m168 0h0m28 1h0m71 0h0m27 0h0m8 0h0m-272 1h0m240 0h0m-269 1h0m11 0h0m16 1h0m-38 1h0m193 0h0m92 0h0m26 0h0m41 0h0m-180 1h0m3 0h0m13 1h0m-4 1h0m7 0h0m100 0h0m-118 1h0m4 0h0m8 0h0m-181 1h0m176 0h0m76 1h0m-75 1h0m16 0h0m-16 1h0m15 0h0m-18 1h0m22 0h0m41 0h0m78 0h0m-123 1h0m-18 2h0m-1 1h0m3 0h0m-186 1h0m8 1h0m175 0h0m3 0h0m-3 1h0m1 0h0m5 0h0m-138 1h0m126 1h0m34 0h0m-209 1h0m49 0h0m132 0h0m-160 1h0m150 1h0m-169 1h0m169 0h0m1 0h0m1 0h0m2 0h0m11 0h0m3 0h0m-16 1h0m37 0h0m-34 1h0m-10 1h0m14 0h0m-7 1h0m4 0h0m4 0h0m-7 1h0m3 0h0m-173 1h0m158 0h0m4 0h0m13 0h0m1 0h0m26 0h0m142 0h0m-184 1h0m1 0h0m42 0h0m-241 1h0m34 0h0m21 0h0m3 0h0m131 0h0m3 0h0m9 0h0m33 0h0m-36 1h0m2 0h0m6 0h0m13 0h0m8 0h0m4 0h0m-178 1h0m132 0h0m204 0h0m-293 1h0m86 0h0m2 0h0m1 0h0m1 0h0m7 0h0m3 0h0m16 0h0m7 0h0m10 0h0m-207 1h0m22 0h0m3 0h0m54 0h0m91 0h0m11 0h0m1 0h0m-166 1h0m4 0h0m7 0h0m142 0h0m3 0h0m36 0h0m-210 1h0m7 0h0m162 0h0m4 0h0m1 0h0m9 0h0m1 0h0m39 0h0m-184 1h0m55 0h0m1 0h0m72 0h0m3 0h0m3 0h0m28 0h0m-199 1h0m22 0h0m73 0h0m71 0h0m2 0h0m10 0h0m5 0h0m-88 1h0m77 0h0m23 0h0m125 0h0m-305 1h0m72 0h0m13 0h0m13 0h0m59 0h0m-148 1h0m15 0h0m43 0h0m15 0h0m5 0h0m2 0h0m10 0h0m57 0h0m4 0h0m7 0h0m8 0h0m20 0h0m-179 1h0m77 0h0m6 0h0m4 0h0m5 0h0m1 0h0m42 0h0m8 0h0m-162 1h0m7 0h0m3 0h0m57 0h0m19 0h0m11 0h0m18 0h0m40 0h0m5 0h0m9 0h0m6 0h0m18 0h0m-182 1h0m4 0h0m8 0h0m69 0h0m8 0h0m1 0h0m5 0h0m6 0h0m7 0h0m2 0h0m39 0h0m1 0h0m10 0h0m-189 1h0m51 0h0m52 0h0m10 0h0m3 0h0m57 0h0m4 0h0m-155 1h0m2 0h0m6 0h0m59 0h0m83 0h0m1 0h0m1 0h0m4 0h0m1 0h0m1 0h0m12 0h0m12 0h0m-192 1h0m7 0h0m30 0h0m60 0h0m7 0h0m51 0h0m3 0h0m8 0h0m3 0h0m5 0h0m8 0h0m23 0h0m-202 1h0m8 0h0m13 0h0m55 0h0m4 0h0m11 0h0m14 0h0m46 0h0m2 0h0m5 0h0m2 0h0m5 0h0m4 0h0m8 0h0m-171 1h0m5 0h0m27 0h0m115 0h0m1 0h0m2 0h0m1 0h0m6 0h0m1 0h0m6 0h0m18 0h0m104 0h0m-292 1h0m86 0h0m8 0h0m63 0h0m4 0h0m1 0h0m6 0h0m23 0h0m-181 1h0m69 0h0m8 0h0m11 0h0m3 0h0m2 0h0m64 0h0m1 0h0m6 0h0m16 0h0m-110 1h0m13 0h0m5 0h0m18 0h0m45 0h0m4 0h0m7 0h0m4 0h0m9 0h0m4 0h0m-188 1h0m8 0h0m3 0h0m22 0h0m5 0h0m62 0h0m1 0h0m4 0h0m2 0h0m9 0h0m1 0h0m4 0h0m1 0h0m38 0h0m3 0h0m6 0h0m10 0h0m23 0h0m-211 1h0m21 0h0m94 0h0m1 0h0m7 0h0m1 0h0m1 0h0m1 0h0m4 0h0m41 0h0m5 0h0m5 0h0m6 0h0m-196 1h0m29 0h0m57 0h0m24 0h0m5 0h0m3 0h0m7 0h0m59 0h0m6 0h0m4 0h0m5 0h0m-193 1h0m7 0h0m2 0h0m2 0h0m15 0h0m7 0h0m46 0h0m39 0h0m3 0h0m1 0h0m-118 1h0m4 0h0m6 0h0m15 0h0m6 0h0m60 0h0m9 0h0m5 0h0m3 0h0m10 0h0m37 0h0m20 0h0m1 0h0m-172 1h0m27 0h0m57 0h0m3 0h0m7 0h0m7 0h0m8 0h0m2 0h0m46 0h0m2 0h0m1 0h0m9 0h0m1 0h0m19 0h0m-185 1h0m2 0h0m4 0h0m14 0h0m75 0h0m2 0h0m41 0h0m1 0h0m9 0h0m2 0h0m4 0h0m6 0h0m5 0h0m12 0h0m6 0h0m26 0h0m-200 1h0m1 0h0m88 0h0m5 0h0m35 0h0m1 0h0m1 0h0m5 0h0m12 0h0m2 0h0m-175 1h0m12 0h0m6 0h0m7 0h0m10 0h0m58 0h0m24 0h0m1 0h0m5 0h0m38 0h0m3 0h0m7 0h0m-171 1h0m5 0h0m11 0h0m6 0h0m2 0h0m17 0h0m60 0h0m12 0h0m42 0h0m1 0h0m13 0h0m2 0h0m34 0h0m-216 1h0m11 0h0m19 0h0m18 0h0m1 0h0m62 0h0m3 0h0m8 0h0m10 0h0m3 0h0m31 0h0m1 0h0m20 0h0m2 0h0m-151 1h0m3 0h0m18 0h0m51 0h0m9 0h0m3 0h0m2 0h0m13 0h0m31 0h0m15 0h0m45 0h0m-218 1h0m9 0h0m11 0h0m1 0h0m7 0h0m65 0h0m4 0h0m18 0h0m2 0h0m26 0h0m16 0h0m19 0h0m-178 1h0m12 0h0m10 0h0m74 0h0m12 0h0m5 0h0m1 0h0m3 0h0m4 0h0m10 0h0m30 0h0m3 0h0m2 0h0m5 0h0m15 0h0m8 0h0m-179 1h0m6 0h0m8 0h0m2 0h0m10 0h0m83 0h0m1 0h0m1 0h0m2 0h0m4 0h0m28 0h0m1 0h0m3 0h0m5 0h0m8 0h0m1 0h0m-176 1h0m4 0h0m8 0h0m2 0h0m8 0h0m3 0h0m10 0h0m25 0h0m17 0h0m33 0h0m5 0h0m1 0h0m6 0h0m2 0h0m1 0h0m33 0h0m7 0h0m1 0h0m14 0h0m119 0h0m-309 1h0m10 0h0m21 0h0m4 0h0m3 0h0m2 0h0m19 0h0m12 0h0m4 0h0m21 0h0m18 0h0m6 0h0m1 0h0m8 0h0m5 0h0m1 0h0m37 0h0m4 0h0m-161 1h0m10 0h0m1 0h0m3 0h0m18 0h0m4 0h0m52 0h0m15 0h0m8 0h0m49 0h0m18 0h0m-179 1h0m2 0h0m7 0h0m4 0h0m4 0h0m8 0h0m50 0h0m16 0h0m12 0h0m8 0h0m-127 1h0m5 0h0m4 0h0m4 0h0m7 0h0m5 0h0m4 0h0m2 0h0m1 0h0m13 0h0m43 0h0m37 0h0m6 0h0m2 0h0m2 0h0m24 0h0m5 0h0m136 0h0m-279 1h0m3 0h0m5 0h0m1 0h0m1 0h0m33 0h0m6 0h0m45 0h0m2 0h0m4 0h0m11 0h0m1 0h0m31 0h0m1 0h0m14 0h0m8 0h0m-166 1h0m2 0h0m5 0h0m2 0h0m5 0h0m18 0h0m51 0h0m9 0h0m3 0h0m12 0h0m1 0h0m1 0h0m5 0h0m1 0h0m3 0h0m2 0h0m20 0h0m1 0h0m3 0h0m3 0h0m1 0h0m1 0h0m7 0h0m5 0h0m8 0h0m-187 1h0m5 0h0m12 0h0m6 0h0m10 0h0m5 0h0m1 0h0m16 0h0m54 0h0m6 0h0m11 0h0m2 0h0m8 0h0m5 0h0m1 0h0m15 0h0m1 0h0m44 0h0m10 0h0m-204 1h0m31 0h0m77 0h0m10 0h0m1 0h0m4 0h0m3 0h0m4 0h0m3 0h0m12 0h0m1 0h0m2 0h0m1 0h0m4 0h0m7 0h0m13 0h0m235 0h0m-419 1h0m1 0h0m21 0h0m4 0h0m4 0h0m2 0h0m3 0h0m1 0h0m2 0h0m61 0h0m25 0h0m22 0h0m2 0h0m12 0h0m3 0h0m9 0h0m3 0h0m2 0h0m-162 1h0m7 0h0m5 0h0m4 0h0m12 0h0m9 0h0m68 0h0m4 0h0m4 0h0m1 0h0m39 0h0m6 0h0m-188 1h0m29 0h0m2 0h0m3 0h0m5 0h0m9 0h0m2 0h0m3 0h0m9 0h0m43 0h0m21 0h0m3 0h0m14 0h0m3 0h0m4 0h0m4 0h0m19 0h0m3 0h0m2 0h0m-169 1h0m8 0h0m8 0h0m27 0h0m20 0h0m20 0h0m31 0h0m5 0h0m11 0h0m5 0h0m3 0h0m4 0h0m1 0h0m22 0h0m1 0h0m8 0h0m5 0h0m35 0h0m-213 1h0m13 0h0m12 0h0m2 0h0m13 0h0m28 0h0m18 0h0m10 0h0m19 0h0m5 0h0m3 0h0m12 0h0m3 0h0m-133 1h0m4 0h0m7 0h0m5 0h0m2 0h0m9 0h0m2 0h0m36 0h0m40 0h0m15 0h0m1 0h0m23 0h0m7 0h0m3 0h0m2 0h0m4 0h0m3 0h0m23 0h0m24 0h0m9 0h0m-204 1h0m1 0h0m13 0h0m24 0h0m19 0h0m28 0h0m6 0h0m4 0h0m3 0h0m29 0h0m1 0h0m1 0h0m21 0h0m-166 1h0m10 0h0m7 0h0m5 0h0m1 0h0m1 0h0m1 0h0m1 0h0m4 0h0m1 0h0m1 0h0m2 0h0m6 0h0m2 0h0m13 0h0m23 0h0m8 0h0m4 0h0m9 0h0m2 0h0m2 0h0m6 0h0m9 0h0m26 0h0m1 0h0m2 0h0m25 0h0m-182 1h0m8 0h0m26 0h0m1 0h0m11 0h0m4 0h0m60 0h0m3 0h0m10 0h0m12 0h0m4 0h0m29 0h0m10 0h0m5 0h0m18 0h0m-185 1h0m5 0h0m5 0h0m1 0h0m1 0h0m8 0h0m5 0h0m2 0h0m5 0h0m1 0h0m8 0h0m25 0h0m14 0h0m8 0h0m4 0h0m3 0h0m25 0h0m19 0h0m20 0h0m18 0h0m16 0h0m-193 1h0m15 0h0m9 0h0m1 0h0m3 0h0m26 0h0m4 0h0m3 0h0m2 0h0m4 0h0m22 0h0m8 0h0m48 0h0m1 0h0m10 0h0m2 0h0m1 0h0m17 0h0m-182 1h0m4 0h0m7 0h0m9 0h0m2 0h0m1 0h0m8 0h0m14 0h0m16 0h0m10 0h0m2 0h0m1 0h0m3 0h0m5 0h0m7 0h0m2 0h0m17 0h0m4 0h0m1 0h0m22 0h0m1 0h0m3 0h0m7 0h0m7 0h0m9 0h0m7 0h0m2 0h0m-169 1h0m9 0h0m7 0h0m5 0h0m10 0h0m46 0h0m7 0h0m2 0h0m7 0h0m8 0h0m18 0h0m1 0h0m14 0h0m15 0h0m3 0h0m1 0h0m16 0h0m12 0h0m-203 1h0m30 0h0m2 0h0m2 0h0m11 0h0m4 0h0m2 0h0m9 0h0m9 0h0m28 0h0m10 0h0m6 0h0m3 0h0m2 0h0m20 0h0m8 0h0m6 0h0m1 0h0m1 0h0m1 0h0m4 0h0m1 0h0m3 0h0m-146 1h0m10 0h0m4 0h0m11 0h0m10 0h0m1 0h0m3 0h0m1 0h0m27 0h0m33 0h0m1 0h0m18 0h0m4 0h0m6 0h0m7 0h0m2 0h0m1 0h0m3 0h0m8 0h0m10 0h0m5 0h0m27 0h0m10 0h0m2 0h0m-199 1h0m2 0h0m13 0h0m1 0h0m9 0h0m1 0h0m25 0h0m6 0h0m25 0h0m2 0h0m17 0h0m14 0h0m3 0h0m4 0h0m4 0h0m8 0h0m3 0h0m2 0h0m4 0h0m1 0h0m2 0h0m8 0h0m-169 1h0m6 0h0m15 0h0m2 0h0m4 0h0m7 0h0m3 0h0m7 0h0m2 0h0m13 0h0m8 0h0m3 0h0m6 0h0m49 0h0m5 0h0m14 0h0m2 0h0m6 0h0m11 0h0m3 0h0m12 0h0m6 0h0m-158 1h0m2 0h0m5 0h0m3 0h0m1 0h0m11 0h0m2 0h0m3 0h0m3 0h0m16 0h0m1 0h0m3 0h0m5 0h0m1 0h0m3 0h0m42 0h0m31 0h0m2 0h0m6 0h0m25 0h0m-177 1h0m12 0h0m7 0h0m3 0h0m4 0h0m8 0h0m2 0h0m24 0h0m71 0h0m3 0h0m1 0h0m1 0h0m1 0h0m29 0h0m-190 1h0m27 0h0m8 0h0m10 0h0m5 0h0m13 0h0m3 0h0m5 0h0m5 0h0m2 0h0m4 0h0m63 0h0m9 0h0m4 0h0m1 0h0m2 0h0m8 0h0m2 0h0m26 0h0m-190 1h0m21 0h0m7 0h0m4 0h0m2 0h0m1 0h0m6 0h0m1 0h0m1 0h0m6 0h0m11 0h0m4 0h0m80 0h0m1 0h0m1 0h0m1 0h0m9 0h0m8 0h0m-141 1h0m13 0h0m1 0h0m7 0h0m1 0h0m1 0h0m4 0h0m8 0h0m2 0h0m85 0h0m3 0h0m4 0h0m1 0h0m3 0h0m2 0h0m2 0h0m35 0h0m55 0h0m-218 1h0m6 0h0m1 0h0m15 0h0m14 0h0m105 0h0m9 0h0m-162 1h0m4 0h0m5 0h0m8 0h0m1 0h0m9 0h0m10 0h0m7 0h0m1 0h0m2 0h0m82 0h0m3 0h0m18 0h0m-165 1h0m17 0h0m3 0h0m7 0h0m1 0h0m5 0h0m8 0h0m15 0h0m94 0h0m1 0h0m11 0h0m9 0h0m-121 1h0m2 0h0m96 0h0m3 0h0m5 0h0m16 0h0m1 0h0m6 0h0m195 0h0m-363 1h0m8 0h0m2 0h0m12 0h0m6 0h0m2 0h0m1 0h0m7 0h0m4 0h0m4 0h0m99 0h0m10 0h0m-156 1h0m6 0h0m11 0h0m5 0h0m3 0h0m11 0h0m2 0h0m1 0h0m1 0h0m4 0h0m102 0h0m-139 1h0m6 0h0m9 0h0m1 0h0m121 0h0m29 0h0m88 0h0m-258 1h0m1 0h0m6 0h0m2 0h0m6 0h0m4 0h0m1 0h0m138 0h0m-168 1h0m5 0h0m36 0h0m3 0h0m-9 1h0m3 0h0m116 0h0m8 0h0m-126 1h0m2 0h0m115 0h0m4 0h0m-156 1h0m7 0h0m142 0h0m1 0h0m21 0h0m260 0h0m-426 1h0m166 0h0m-197 1h0m188 0h0m-164 1h0m176 0h0m244 1h0m-424 1h0m9 0h0m157 0h0m-1 1h0m-157 1h0m148 0h0m12 0h0m120 0h0m167 0h0m-445 2h0m-14 1h0m12 0h0m1 0h0m147 0h0m13 4h0m-175 1h0m166 0h0m-15 4h0m-144 2h0m4 0h0m-4 1h0m8 0h0m132 0h0m6 1h0m-150 2h0m13 0h0m124 0h0m7 0h0m-136 1h0m190 2h0m-180 9h0m1 0h0m4 0h0m7 0h0m1 0h0m1 0h0m7 0h0m-13 1h0"/>
<path stroke="#ff0000" stroke-width="1" d="M901 921.5h9m-7 1h7m28 3h8m-79 1h7m26 0h8m-12 1h10m-10 1h10m-7 2h8m-12 1h12m2 2h13m-19 1h13m8 0h10m-33 1h13m10 0h10m-34 1h8m-8 1h7m11 0h7m-40 1h13m2 0h10m5 0h10m-25 1h20m-36 1h10m6 0h8m1 0h17m-26 1h15m13 0h8m-64 1h11m13 0h17m11 0h11m-46 1h26m1 0h7m1 0h15m-50 1h16m1 0h14m1 0h13m-45 1h10m7 0h16m1 0h10m8 0h9m-61 1h21m1 0h16m-38 1h15m7 0h16m-37 1h18m1 0h19m8 0h10m-53 1h31m11 0h11m-72 1h13m1 0h16m1 0h19m2 0h8m-46 1h14m2 0h20m1 0h9m-42 1h10m2 0h27m15 0h10m-63 1h41m12 0h10m-57 1h16m1 0h14m1 0h8m13 0h7m-77 1h10m2 0h35m1 0h11m-46 1h33m1 0h8m-42 1h31m1 0h10m-49 1h49m1 0h9m1 0h7m-56 1h39m-54 1h14m1 0h39m-33 1h40m-39 1h37m-47 1h42m-55 1h8m8 0h10m1 0h31m-60 1h7m3 0h24m1 0h25m-51 1h12m1 0h38m-51 1h9m1 0h40m-61 1h9m12 0h8m1 0h28m-36 1h34m-44 1h13m2 0h28m-39 1h8m1 0h10m1 0h15m-46 1h9m3 0h28m-27 1h7m8 0h13m-31 1h18m1 0h12m-30 1h24m-16 1h15"/>
<path stroke="#ff0000" stroke-linecap="square" stroke-width="2" d="M939 790h0m-5 4h0m-25 2h0m49 0h0m-53 1h0m-10 1h0m57 2h0m-55 8h0m51 3h0m-42 2h0m-15 1h0m-8 3h0m11 0h0m26 1h0m-2 3h0m-29 1h0m23 2h0m11 0h0m-37 2h0m30 2h0m3 0h0m42 0h0m-81 1h0m8 1h0m2 1h0m18 0h0m15 0h0m8 1h0m-19 1h0m-36 3h0m6 0h0m18 0h0m-26 1h0m28 0h0m21 0h0m19 1h0m-45 1h0m-8 1h0m21 0h0m-23 1h0m39 0h0m32 0h0m-67 1h0m88 0h0m-105 1h0m26 0h0m22 0h0m1 0h0m29 0h0m-90 1h0m21 0h0m6 0h0m-19 1h0m19 0h0m10 0h0m12 0h0m-43 1h0m24 0h0m21 0h0m-50 1h0m79 0h0m7 0h0m-65 1h0m32 0h0m-56 1h0m2 0h0m51 0h0m-17 1h0m23 0h0m-63 2h0m33 0h0m13 0h0m11 0h0m3 0h0m5 0h0m14 0h0m-83 1h0m25 0h0m3 0h0m62 0h0m-22 1h0m-36 1h0m2 0h0m28 0h0m18 0h0m16 0h0m28 0h0m-80 1h0m22 0h0m2 0h0m2 0h0m-67 1h0m41 0h0m24 0h0m24 1h0m-64 2h0m5 0h0m18 0h0m18 0h0m1 0h0m15 0h0m-47 1h0m11 0h0m5 0h0m22 0h0m-37 1h0m2 0h0m4 0h0m7 0h0m24 0h0m2 0h0m-13 1h0m20 0h0m2 0h0m-68 1h0m8 0h0m2 0h0m9 0h0m17 0h0m8 0h0m2 0h0m33 0h0m3 0h0m6 0h0m-60 1h0m42 0h0m-59 1h0m29 0h0m23 0h0m1 0h0m-63 1h0m20 0h0m2 0h0m55 0h0m-68 1h0m7 0h0m38 0h0m37 0h0m-105 1h0m28 0h0m4 0h0m11 0h0m1 0h0m25 0h0m24 0h0m-76 1h0m3 0h0m4 0h0m28 0h0m16 0h0m12 0h0m-50 2h0m27 0h0m30 0h0m-88 1h0m19 0h0m26 0h0m1 0h0m-46 1h0m24 0h0m3 0h0m2 0h0m9 0h0m25 0h0m33 0h0m4 0h0m-108 1h0m78 0h0m1 0h0m22 0h0m10 0h0m-99 1h0m12 0h0m11 0h0m5 0h0m12 0h0m-9 1h0m4 0h0m28 0h0m12 0h0m-61 1h0m34 0h0m1 0h0m17 0h0m-43 1h0m20 0h0m1 0h0m17 0h0m-63 1h0m12 0h0m37 0h0m1 0h0m27 0h0m6 0h0m-72 1h0m15 0h0m3 0h0m6 0h0m4 0h0m3 0h0m17 0h0m15 0h0m-66 1h0m2 0h0m36 0h0m4 0h0m10 0h0m14 0h0m10 0h0m-70 1h0m9 0h0m14 0h0m15 0h0m29 0h0m-75 1h0m19 0h0m8 0h0m3 0h0m13 0h0m7 0h0m11 0h0m7 0h0m-59 1h0m58 0h0m-80 1h0m12 0h0m21 0h0m5 0h0m3 0h0m16 0h0m-61 1h0m14 0h0m32 0h0m21 0h0m-1 1h0m-24 1h0m11 0h0m2 0h0m2 0h0m3 0h0m4 0h0m11 0h0m22 0h0m-67 1h0m17 0h0m32 0h0m-51 1h0m6 0h0m11 0h0m26 0h0m19 0h0m1 0h0m-47 1h0m6 0h0m14 0h0m34 0h0m-51 1h0m10 0h0m12 0h0m33 0h0m-108 1h0m40 0h0m22 0h0m1 0h0m3 0h0m44 0h0m-34 1h0m15 0h0m6 0h0m-39 1h0m-32 1h0m38 0h0m4 0h0m4 0h0m4 0h0m36 0h0m-104 1h0m79 0h0m1 0h0m29 0h0m-114 1h0m23 0h0m3 0h0m14 0h0m5 0h0m1 0h0m10 0h0m12 0h0m1 0h0m2 0h0m22 0h0m-66 1h0m2 0h0m24 0h0m12 0h0m6 0h0m21 0h0m-44 1h0m5 0h0m18 0h0m-53 1h0m21 0h0m16 0h0m37 0h0m-83 1h0m39 0h0m1 0h0m23 0h0m4 0h0m2 0h0m9 0h0m-44 1h0m14 0h0m7 0h0m5 0h0m7 0h0m8 0h0m12 0h0m9 0h0m-68 1h0m7 0h0m39 0h0m17 0h0m-48 1h0m19 0h0m-44 1h0m19 0h0m2 0h0m13 0h0m8 0h0m-22 1h0m10 0h0m3 0h0m36 0h0m24 0h0m-90 1h0m14 0h0m30 0h0m3 0h0m14 0h0m11 0h0m3 0h0m-77 1h0m24 0h0m17 0h0m6 0h0m-44 1h0m25 0h0m7 0h0m2 0h0m7 0h0m-44 1h0m6 0h0m6 0h0m23 0h0m1 0h0m7 0h0m8 0h0m14 0h0m-71 1h0m4 0h0m14 0h0m4 0h0m7 0h0m15 0h0m1 0h0m8 0h0m3 0h0m21 0h0m-89 1h0m10 0h0m15 0h0m17 0h0m49 0h0m-69 1h0m6 0h0m6 0h0m5 0h0m17 0h0m58 0h0m-121 1h0m27 0h0m13 0h0m2 0h0m9 0h0m13 0h0m7 0h0m12 0h0m11 0h0m-76 1h0m53 0h0m3 0h0m9 0h0m23 0h0m-79 1h0m35 0h0m2 0h0m9 0h0m8 0h0m-44 1h0m5 0h0m1 0h0m1 0h0m11 0h0m4 0h0m6 0h0m17 0h0m7 0h0m6 0h0m-63 1h0m11 0h0m7 0h0m4 0h0m16 0h0m2 0h0m2 0h0m-39 1h0m1 0h0m14 0h0m4 0h0m10 0h0m6 0h0m18 0h0m-45 1h0m6 0h0m15 0h0m1 0h0m21 0h0m18 0h0m-61 1h0m2 0h0m5 0h0m10 0h0m15 0h0m-7 1h0m4 0h0m-68 1h0m29 0h0m5 0h0m1 0h0m10 0h0m2 0h0m1 0h0m12 0h0m1 0h0m1 0h0m6 0h0m19 0h0m4 0h0m2 0h0m-72 1h0m32 0h0m2 0h0m7 0h0m1 0h0m9 0h0m9 0h0m8 0h0m3 0h0m-80 1h0m4 0h0m2 0h0m2 0h0m6 0h0m12 0h0m2 0h0m20 0h0m7 0h0m16 0h0m4 0h0m9 0h0m-84 1h0m12 0h0m6 0h0m6 0h0m25 0h0m5 0h0m12 0h0m9 0h0m21 0h0m3 0h0m-84 1h0m7 0h0m2 0h0m5 0h0m8 0h0m1 0h0m1 0h0m5 0h0m1 0h0m11 0h0m5 0h0m33 0h0m-88 1h0m19 0h0m11 0h0m2 0h0m2 0h0m6 0h0m7 0h0m3 0h0m1 0h0m10 0h0m8 0h0m13 0h0m5 0h0m-31 1h0m2 0h0m7 0h0m13 0h0m13 0h0m-90 1h0m14 0h0m5 0h0m6 0h0m2 0h0m1 0h0m15 0h0m7 0h0m15 0h0m6 0h0m-59 1h0m2 0h0m8 0h0m5 0h0m4 0h0m8 0h0m3 0h0m1 0h0m2 0h0m4 0h0m5 0h0m1 0h0m4 0h0m5 0h0m6 0h0m1 0h0m-89 1h0m31 0h0m17 0h0m3 0h0m3 0h0m11 0h0m3 0h0m6 0h0m4 0h0m5 0h0m16 0h0m-86 1h0m7 0h0m18 0h0m3 0h0m2 0h0m2 0h0m42 0h0m23 0h0m-101 1h0m4 0h0m10 0h0m6 0h0m7 0h0m5 0h0m4 0h0m13 0h0m6 0h0m8 0h0m26 0h0m5 0h0m4 0h0m-111 1h0m31 0h0m1 0h0m9 0h0m22 0h0m1 0h0m6 0h0m3 0h0m2 0h0m5 0h0m11 0h0m7 0h0m3 0h0m2 0h0m7 0h0m1 0h0m-83 1h0m4 0h0m2 0h0m5 0h0m2 0h0m4 0h0m2 0h0m1 0h0m12 0h0m3 0h0m4 0h0m14 0h0m5 0h0m8 0h0m13 0h0m3 0h0m-92 1h0m2 0h0m5 0h0m7 0h0m5 0h0m5 0h0m2 0h0m1 0h0m1 0h0m29 0h0m4 0h0m4 0h0m20 0h0m-67 1h0m2 0h0m4 0h0m31 0h0m3 0h0m25 0h0m1 0h0m3 0h0m7 0h0m-91 1h0m19 0h0m4 0h0m3 0h0m22 0h0m2 0h0m4 0h0m5 0h0m4 0h0m2 0h0m6 0h0m-68 1h0m2 0h0m4 0h0m3 0h0m11 0h0m5 0h0m19 0h0m21 0h0m2 0h0m10 0h0m5 0h0m-78 1h0m4 0h0m5 0h0m6 0h0m2 0h0m24 0h0m3 0h0m20 0h0m3 0h0m-100 1h0m24 0h0m9 0h0m5 0h0m5 0h0m49 0h0m2 0h0m-86 1h0m25 0h0m4 0h0m22 0h0m1 0h0m35 0h0m3 0h0m3 0h0m2 0h0m2 0h0m-97 1h0m11 0h0m9 0h0m9 0h0m2 0h0m18 0h0m2 0h0m1 0h0m28 0h0m11 0h0m1 0h0m17 0h0m-86 1h0m31 0h0m3 0h0m21 0h0m2 0h0m2 0h0m4 0h0m13 0h0m-73 1h0m5 0h0m4 0h0m19 0h0m1 0h0m23 0h0m4 0h0m3 0h0m8 0h0m5 0h0m-62 1h0m3 0h0m36 0h0m5 0h0m18 0h0m4 0h0m1 0h0m-80 1h0m3 0h0m2 0h0m2 0h0m3 0h0m44 0h0m7 0h0m2 0h0m2 0h0m5 0h0m3 0h0m13 0h0m-114 1h0m29 0h0m7 0h0m2 0h0m1 0h0m53 0h0m14 0h0m4 0h0m-97 1h0m26 0h0m3 0h0m44 0h0m16 0h0m5 0h0m1 0h0m-90 1h0m5 0h0m17 0h0m2 0h0m50 0h0m1 0h0m1 0h0m3 0h0m-62 1h0m1 0h0m3 0h0m4 0h0m4 0h0m2 0h0m40 0h0m5 0h0m8 0h0m9 0h0m-75 1h0m3 0h0m1 0h0m8 0h0m1 0h0m1 0h0m51 0h0m6 0h0m2 0h0m-99 1h0m27 0h0m5 0h0m1 0h0m1 0h0m49 0h0m9 0h0m-70 1h0m9 0h0m3 0h0m48 0h0m-61 1h0m1 0h0m7 0h0m5 0h0m48 0h0m1 0h0m1 0h0m3 0h0m2 0h0m3 0h0m3 0h0m1 0h0m-75 1h0m11 0h0m3 0h0m2 0h0m1 0h0m45 0h0m2 0h0m7 0h0m1 0h0m1 0h0m3 0h0m-104 1h0m23 0h0m12 0h0m2 0h0m1 0h0m4 0h0m1 0h0m1 0h0m1 0h0m46 0h0m1 0h0m2 0h0m4 0h0m1 0h0m2 0h0m-63 1h0m2 0h0m7 0h0m3 0h0m1 0h0m1 0h0m39 0h0m3 0h0m4 0h0m-72 1h0m1 0h0m13 0h0m3 0h0m3 0h0m1 0h0m4 0h0m1 0h0m-12 1h0m7 0h0m1 0h0m43 0h0m4 0h0m-57 1h0m1 0h0m1 0h0m7 0h0m43 0h0m-77 1h0m8 0h0m22 0h0m-11 1h0m3 0h0m1 0h0m-16 1h0m18 0h0m-6 1h0m5 0h0m5 0h0m3 0h0m2 0h0m1 0h0m-18 1h0m4 0h0m1 0h0m5 0h0m7 0h0m-18 1h0m13 0h0m2 0h0m-11 1h0m9 0h0m1 0h0m-6 1h0m3 0h0m1 0h0m35 0h0m1 0h0m1 0h0m-43 1h0m4 0h0m3 0h0m15 0h0m2 0h0m-14 1h0m11 0h0m1 0h0m2 0h0m1 0h0m0 3h0m3 0h0m1 0h0m1 0h0m-1 1h0m1 0h0"/>
<path stroke="#0000ff" stroke-width="1" d="M851 1025.5h7m1 0h7m-23 1h11m5 0h7m-26 1h18m1 0h14m-32 1h40m-51 1h51m-54 1h54m-61 1h11m1 0h55m-68 1h71m-73 1h26m1 0h49m-76 1h77m-77 1h69m1 0h11m-90 1h84m-84 1h83m-83 1h90m-95 1h13m1 0h84m-96 1h84m1 0h12m-96 1h88m-98 1h9m1 0h96m-109 1h109m-110 1h95m-95 1h90m1 0h12m-106 1h110m-112 1h7m1 0h101m-109 1h9m1 0h91m-101 1h105m-105 1h94m1 0h8m-103 1h94m2 0h7m-103 1h93m1 0h8m-102 1h103m-103 1h103m-103 1h96m-96 1h101m-101 1h98m-98 1h98m-97 1h85m1 0h8m-94 1h84m2 0h10m-96 1h84m2 0h10m-96 1h75m-75 1h75m-74 1h74m-74 1h76m-76 1h9m1 0h67m-78 1h73m-73 1h12m4 0h45m1 0h8m-69 1h11m5 0h44m6 0h7m-57 1h30m1 0h8m-46 1h37m1 0h7m1 0h8m-55 1h11m1 0h26m4 0h9m-51 1h31m11 0h7m-57 1h10m4 0h15m1 0h11m-17 1h11"/>
<path stroke="#0000ff" stroke-linecap="square" stroke-width="2" d="M854 1025h0m3 0h0m4 0h0m-14 1h0m2 0h0m7 0h0m1 0h0m-16 1h0m16 0h0m12 0h0m3 0h0m-37 1h0m40 0h0m2 0h0m1 0h0m1 0h0m-52 1h0m6 0h0m2 0h0m1 0h0m-12 1h0m4 0h0m55 0h0m2 0h0m-64 1h0m2 0h0m2 0h0m59 0h0m2 0h0m-69 1h0m-2 2h0m0 1h0m81 0h0m-84 1h0m1 0h0m2 0h0m79 0h0m3 0h0m8 0h0m-99 2h0m88 0h0m1 0h0m1 0h0m1 0h0m-93 1h0m-4 2h0m1 0h0m99 0h0m1 0h0m-101 1h0m4 0h0m92 0h0m3 0h0m-6 2h0m1 0h0m2 0h0m3 0h0m-9 1h0m3 0h0m6 0h0m-2 1h0m5 0h0m-4 1h0m-8 1h0m1 0h0m8 0h0m-8 1h0m3 0h0m7 0h0m-7 1h0m7 0h0m-5 1h0m-4 1h0m8 0h0m-8 1h0m4 0h0m2 0h0m-13 2h0m1 0h0m-1 1h0m2 0h0m5 1h0m-6 4h0m1 0h0m-22 1h0m1 0h0m1 0h0m8 0h0m-10 1h0m2 0h0m1 0h0m11 0h0m-12 1h0m4 0h0m7 0h0m-9 1h0m1 0h0m15 0h0m2 0h0m-19 1h0m5 0h0m7 0h0m2 0h0m-19 1h0m1 0h0m1 0h0m7 0h0m1 0h0m-13 1h0m7 0h0m5 0h0m-70 1h0m51 0h0m12 0h0m6 0h0m-81 1h0m1 0h0m1 0h0m3 0h0m53 0h0m8 0h0m3 0h0m1 0h0m1 0h0m-70 1h0m1 0h0m3 0h0m5 0h0m1 0h0m2 0h0m44 0h0m1 0h0m1 0h0m2 0h0m-61 1h0m1 0h0m67 0h0m-67 1h0m1 0h0m1 0h0m1 0h0m36 0h0m1 0h0m2 0h0m1 0h0m32 0h0m-75 1h0m1 0h0m2 0h0m1 0h0m6 0h0m32 0h0m1 0h0m3 0h0m3 0h0m3 0h0m1 0h0m15 0h0m-69 1h0m1 0h0m5 0h0m2 0h0m9 0h0m2 0h0m20 0h0m5 0h0m10 0h0m24 0h0m-77 1h0m1 0h0m26 0h0m-27 1h0m2 0h0m-2 1h0"/>
</g>
<g fill="none" stroke="#000">
<polygon points="840.1,857.4 907.3,782 971.5,780.9 983.9,854.3 959.6,957.4 914.5,978.1 844.1,965.9" stroke-width="1.5"/>
<polygon points="786.9,1047.9 791.1,1080.9 867.1,1080.9 872.6,1076.1 900,1055.5 903.9,1041.6 906.9,1034.9 900.8,1037.1 881,1028.3 856.5,1024.5 833.4,1028.3 820.4,1030.2" stroke-width="3" stroke-linejoin="round"/>
<rect x="735.5" y="875.4" width="4.6" height="69.7" stroke="#999" stroke-width="1.2"/>
</g>
<rect x="721.3" y="633.4" width="525" height="454.6" fill="none" stroke="#000" stroke-width="2"/>
<path d="M721.3 1070.7h-8M739.8 1088v9.8M721.3 1053.4h-8M759.8 1088v9.8M721.3 1036.1h-8M779.9 1088v9.8M721.3 1018.8h-8M799.9 1088v9.8M721.3 1001.5h-14.5M820 1088v16.5M721.3 984.2h-8M840.1 1088v9.8M721.3 966.9h-8M860.1 1088v9.8M721.3 949.6h-8M880.2 1088v9.8M721.3 932.3h-8M900.2 1088v9.8M721.3 915h-14.5M920.3 1088v16.5M721.3 897.7h-8M940.4 1088v9.8M721.3 880.4h-8M960.4 1088v9.8M721.3 863.1h-8M980.5 1088v9.8M721.3 845.8h-8M1000.5 1088v9.8M721.3 828.5h-14.5M1020.6 1088v16.5M721.3 811.2h-8M1040.7 1088v9.8M721.3 793.9h-8M1060.7 1088v9.8M721.3 776.6h-8M1080.8 1088v9.8M721.3 759.3h-8M1100.8 1088v9.8M721.3 742h-14.5M1120.9 1088v16.5M721.3 724.7h-8M1141 1088v9.8M721.3 707.4h-8M1161 1088v9.8M721.3 690.1h-8M1181.1 1088v9.8M721.3 672.8h-8M1201.1 1088v9.8M721.3 655.5h-14.5M1221.2 1088v16.5M721.3 638.2h-8M1241.3 1088v9.8" stroke="#000" stroke-width="1.6" fill="none"/>
<g font-family="Liberation Sans, Arial, sans-serif" font-size="16.5" fill="#000" stroke="#000" stroke-width="0.35">
<text x="818.5" y="1120.5" text-anchor="middle" textLength="15.5" lengthAdjust="spacingAndGlyphs">50</text>
<text transform="translate(707 1001) rotate(-90)" x="0" y="0" text-anchor="middle" textLength="15.5" lengthAdjust="spacingAndGlyphs">50</text>
<text x="918.8" y="1120.5" text-anchor="middle" textLength="23.2" lengthAdjust="spacingAndGlyphs">100</text>
<text transform="translate(707 914.5) rotate(-90)" x="0" y="0" text-anchor="middle" textLength="23.2" lengthAdjust="spacingAndGlyphs">100</text>
<text x="1019.1" y="1120.5" text-anchor="middle" textLength="23.2" lengthAdjust="spacingAndGlyphs">150</text>
<text transform="translate(707 828) rotate(-90)" x="0" y="0" text-anchor="middle" textLength="23.2" lengthAdjust="spacingAndGlyphs">150</text>
<text x="1119.4" y="1120.5" text-anchor="middle" textLength="23.2" lengthAdjust="spacingAndGlyphs">200</text>
<text transform="translate(707 741.5) rotate(-90)" x="0" y="0" text-anchor="middle" textLength="23.2" lengthAdjust="spacingAndGlyphs">200</text>
<text x="1219.7" y="1120.5" text-anchor="middle" textLength="23.2" lengthAdjust="spacingAndGlyphs">250</text>
<text transform="translate(707 655) rotate(-90)" x="0" y="0" text-anchor="middle" textLength="23.2" lengthAdjust="spacingAndGlyphs">250</text>
</g>
<g font-family="Liberation Sans, Arial, sans-serif" fill="#000">
<text x="983.7" y="1137.7" font-size="21.5" text-anchor="middle" textLength="57.7" lengthAdjust="spacingAndGlyphs">FSC-A</text>
<text transform="translate(687.1 853.9) rotate(-90)" font-size="21.5" text-anchor="middle" textLength="59.8" lengthAdjust="spacingAndGlyphs">SSC-A</text>
<text x="1183.3" y="1144" font-size="17" textLength="60.2" lengthAdjust="spacingAndGlyphs">(x 1,000)</text>
<text transform="translate(685.3 695) rotate(-90)" font-size="17" textLength="59.4" lengthAdjust="spacingAndGlyphs">(x 1,000)</text>
</g>
<g font-family="Liberation Sans, Arial, sans-serif" font-size="17" fill="#000">
<text x="897.2" y="888.2">P1</text>
<text x="834.6" y="1062.2">P3</text>
<text x="732.1" y="908.9">P4</text>
</g>
<g font-family="Liberation Serif, Times New Roman, serif" font-size="32.9" fill="#000">
<text x="1058.6" y="786.4">Neutrophils</text>
<text x="1059.7" y="829.2">(4.0%)</text>
<text x="1048.9" y="1017.2">Monocytes</text>
<text x="944.8" y="1077.3">Lymphocytes (77.6%)</text>
</g>
<text x="645.1" y="622.7" font-family="Liberation Sans, Arial, sans-serif" font-size="49.6" textLength="38.2" lengthAdjust="spacingAndGlyphs" fill="#000">E.</text>
</g>
<g id="panelF">
<g fill="none">
<path stroke="#000" stroke-width="1" d="M1413 883.5h7m-7 19h7m-6 4h9m-10 9h11m-11 1h13m-13 1h10m-10 1h8m-4 1h11m-14 1h9m-8 1h7m-7 1h7m-7 1h8m-8 1h8m-3 2h8m-8 2h9m-9 1h9m-13 2h10m-10 1h12m-2 1h7m-21 1h7m-7 1h11m-11 1h16m-16 1h18m-17 1h17m-11 1h7m-7 1h9m-7 1h8m-15 1h7m-7 1h22m-22 1h22m-20 1h22m-19 1h14m-20 1h14m1 0h7m-22 1h12m3 0h7m-22 1h23m-21 1h21m-21 1h20m-23 1h20m-19 1h23m-23 1h24m-23 1h23m-24 1h28m-30 1h30m-30 1h25m-23 1h23m-25 1h23m1 0h7m-31 1h31m-30 1h20m1 0h9m-29 1h29m-29 1h28m-30 1h30m-30 1h27m-25 1h30m-29 1h22m-23 1h33m-33 1h30m-31 1h32m-32 1h32m-31 1h26m-27 1h37m-37 1h37m-36 1h37m16 0h7m-62 1h39m-39 1h36m-36 1h29m-29 1h36m-34 1h34m-35 1h35m40 0h7m-83 1h36m-36 1h38m-37 1h40m-40 1h36m31 0h7m-73 1h40m25 0h9m-73 1h38m-41 1h35m-34 1h35m-33 1h39m-39 1h41m-41 1h37m-36 1h40m-43 1h46m-47 1h46m-46 1h44m-43 1h47m-47 1h51m-51 1h51m-51 1h48m-47 1h47m-49 1h49m17 0h7m-73 1h12m8 0h29m-47 1h46m-45 1h12m1 0h32m-45 1h11m1 0h33m-47 1h48m-48 1h48m1 0h7m-55 1h27m2 0h14m4 0h8m-56 1h52m-52 1h43m-45 1h50m-50 1h48m2 0h7m-53 1h51m-52 1h49m11 0h9m-72 1h49m-48 1h59m-56 1h18m1 0h13m1 0h21m-55 1h51m-52 1h52m-52 1h57m-55 1h24m1 0h27m-53 1h50m-50 1h56m-56 1h56m-56 1h55m-54 1h54m-58 1h57m-57 1h63m-60 1h47m-47 1h47m-47 1h46m-47 1h47m-48 1h47m-47 1h45m-44 1h20m1 0h22m-43 1h39m-39 1h39m-39 1h35m-35 1h35m-35 1h32m-32 1h30m-30 1h28m-27 1h25m-26 1h25m-25 1h23m-24 1h22m-22 1h21m-20 1h18m-17 1h17m-18 1h18m-18 1h18m-17 1h17m-17 1h17m-17 1h18m-19 1h19m-21 1h21m-18 1h18m-18 1h18m-16 1h16m-19 1h19m-19 1h20m-20 1h20m-19 1h17m-17 1h16m-17 1h7m-7 1h7m-1 1h11m-22 1h10m1 0h9m-18 1h12m-12 1h12m-4 2h8"/>
<path stroke="#000" stroke-linecap="square" stroke-width="2" d="M1420 656h0m-2 2h0m119 1h0m-12 9h0m24 1h0m-83 1h0m40 2h0m-43 3h0m-20 3h0m102 10h0m-5 1h0m-123 4h0m23 2h0m13 0h0m35 5h0m72 0h0m-22 1h0m9 5h0m-21 1h0m-107 1h0m127 2h0m-58 3h0m-72 1h0m7 1h0m111 0h0m-70 1h0m70 7h0m4 1h0m12 0h0m-72 1h0m72 0h0m-122 3h0m37 0h0m-33 5h0m118 1h0m-114 9h0m50 0h0m-38 1h0m30 5h0m-62 2h0m85 0h0m-85 2h0m-2 7h0m81 0h0m-69 2h0m60 0h0m-67 2h0m110 1h0m-72 1h0m-43 1h0m12 1h0m43 0h0m-48 3h0m137 1h0m-144 1h0m174 5h0m-160 2h0m104 0h0m11 0h0m22 0h0m-142 1h0m-6 1h0m93 3h0m-61 2h0m-34 1h0m125 1h0m-27 2h0m-40 3h0m-53 3h0m45 5h0m33 0h0m9 0h0m-69 1h0m-16 1h0m1 0h0m0 6h0m82 1h0m5 0h0m-59 1h0m3 6h0m-39 2h0m72 1h0m-71 1h0m13 0h0m59 0h0m-71 1h0m-5 4h0m3 0h0m-1 2h0m3 1h0m36 1h0m44 3h0m-82 1h0m3 0h0m-1 1h0m-4 1h0m8 0h0m-3 1h0m8 0h0m48 2h0m-21 1h0m28 3h0m-64 1h0m69 1h0m-64 1h0m3 0h0m1 0h0m-10 4h0m1 2h0m-3 2h0m65 0h0m-59 1h0m4 1h0m-5 2h0m-5 1h0m38 0h0m-26 1h0m-5 1h0m-4 1h0m3 0h0m0 3h0m1 2h0m1 1h0m-10 2h0m5 0h0m3 1h0m1 0h0m2 1h0m-10 1h0m3 1h0m1 0h0m7 1h0m-6 1h0m4 0h0m1 0h0m49 0h0m-58 2h0m21 0h0m-7 1h0m51 0h0m-62 1h0m-1 2h0m13 0h0m39 0h0m-54 1h0m3 0h0m2 0h0m6 0h0m50 0h0m-57 1h0m6 0h0m-11 1h0m9 0h0m1 0h0m1 0h0m55 0h0m-64 1h0m6 0h0m-7 1h0m5 0h0m6 0h0m6 0h0m-12 1h0m-8 1h0m11 0h0m23 0h0m30 0h0m8 0h0m-62 1h0m1 0h0m46 0h0m-45 2h0m5 0h0m30 1h0m16 0h0m-58 1h0m3 0h0m10 0h0m13 1h0m-16 1h0m57 0h0m-69 2h0m5 0h0m53 0h0m-47 1h0m4 0h0m-13 1h0m5 0h0m35 0h0m18 0h0m-58 1h0m-2 1h0m3 0h0m2 0h0m6 0h0m-8 1h0m1 0h0m12 0h0m-15 1h0m64 0h0m-63 1h0m1 0h0m41 0h0m16 0h0m-59 1h0m3 0h0m2 0h0m2 0h0m-2 1h0m1 1h0m7 0h0m48 0h0m-55 1h0m57 0h0m-62 1h0m9 0h0m2 0h0m1 0h0m-14 1h0m2 0h0m1 0h0m7 0h0m1 0h0m3 0h0m51 0h0m-64 1h0m1 0h0m7 0h0m-8 1h0m7 0h0m6 0h0m-13 1h0m5 0h0m5 2h0m39 0h0m-39 1h0m54 0h0m-65 1h0m10 0h0m2 0h0m-11 1h0m10 0h0m2 0h0m3 0h0m-3 1h0m8 0h0m34 1h0m-44 1h0m4 1h0m30 0h0m15 0h0m-58 1h0m1 0h0m1 0h0m9 0h0m-11 1h0m5 0h0m2 0h0m3 0h0m31 0h0m-41 1h0m2 0h0m6 0h0m3 0h0m4 0h0m8 0h0m-21 1h0m3 0h0m3 0h0m1 0h0m1 0h0m30 0h0m-43 2h0m4 0h0m1 0h0m5 0h0m1 0h0m1 0h0m1 0h0m34 0h0m-43 1h0m1 0h0m5 0h0m7 0h0m42 0h0m11 0h0m-69 1h0m62 0h0m-53 1h0m9 0h0m-17 1h0m1 0h0m5 0h0m1 0h0m5 0h0m2 0h0m1 0h0m-9 1h0m5 0h0m2 0h0m1 0h0m50 0h0m136 0h0m-189 1h0m1 0h0m54 0h0m-40 2h0m42 0h0m124 0h0m-193 1h0m1 0h0m1 0h0m12 0h0m4 0h0m1 0h0m45 0h0m-64 1h0m1 0h0m38 0h0m22 0h0m1 0h0m-64 1h0m1 0h0m1 0h0m2 0h0m27 0h0m16 0h0m-44 1h0m1 0h0m3 0h0m4 0h0m1 0h0m4 0h0m3 0h0m-4 1h0m1 0h0m1 0h0m2 0h0m49 0h0m2 0h0m2 0h0m-44 1h0m21 0h0m-26 2h0m2 0h0m-23 1h0m2 0h0m37 1h0m7 0h0m3 0h0m-23 1h0m20 0h0m-15 1h0m25 0h0m-32 1h0m4 0h0m2 0h0m4 0h0m37 0h0m-72 1h0m25 0h0m22 0h0m17 0h0m-36 1h0m33 0h0m10 0h0m-45 1h0m4 0h0m28 0h0m-32 1h0m2 0h0m14 0h0m12 0h0m11 0h0m2 0h0m-41 1h0m5 0h0m24 0h0m-21 1h0m31 0h0m-40 1h0m1 0h0m13 0h0m14 0h0m12 0h0m-40 1h0m6 0h0m-6 1h0m21 0h0m12 0h0m4 0h0m-25 1h0m7 0h0m-13 1h0m12 0h0m25 0h0m-36 2h0m34 0h0m7 0h0m-40 1h0m13 0h0m16 0h0m5 0h0m2 0h0m-6 1h0m-34 1h0m7 0h0m-11 1h0m2 0h0m15 0h0m8 0h0m10 0h0m15 0h0m-49 1h0m1 0h0m3 0h0m2 0h0m12 0h0m-7 2h0m16 0h0m-9 1h0m10 0h0m4 0h0m2 0h0m3 0h0m2 0h0m25 0h0m-54 1h0m2 0h0m20 0h0m23 0h0m18 0h0m-71 1h0m1 0h0m1 0h0m1 0h0m15 0h0m31 0h0m4 0h0m-34 1h0m10 0h0m7 0h0m9 0h0m13 0h0m6 0h0m10 0h0m-45 1h0m31 0h0m-40 1h0m6 0h0m2 0h0m3 0h0m12 0h0m12 0h0m40 0h0m-57 1h0m52 0h0m-86 1h0m4 0h0m1 0h0m2 0h0m5 0h0m15 0h0m36 0h0m-66 1h0m4 0h0m9 0h0m6 0h0m11 0h0m4 0h0m9 0h0m71 0h0m-106 1h0m6 0h0m23 0h0m5 0h0m8 0h0m2 0h0m-44 1h0m24 0h0m14 0h0m4 0h0m-85 1h0m46 0h0m3 0h0m22 0h0m12 0h0m3 0h0m-84 1h0m81 0h0m1 0h0m12 0h0m22 0h0m-59 1h0m30 0h0m27 0h0m-73 1h0m1 0h0m19 0h0m11 0h0m2 0h0m-33 1h0m1 0h0m1 0h0m22 0h0m16 0h0m-33 1h0m11 0h0m3 0h0m8 0h0m5 0h0m2 0h0m10 0h0m36 0h0m-120 1h0m45 0h0m33 0h0m34 0h0m-73 1h0m8 0h0m27 0h0m6 0h0m23 0h0m-66 1h0m2 0h0m1 0h0m4 0h0m10 0h0m4 0h0m6 1h0m9 0h0m9 0h0m-40 1h0m4 0h0m2 0h0m8 0h0m2 0h0m6 0h0m1 0h0m19 0h0m-43 1h0m9 0h0m7 0h0m10 0h0m5 0h0m9 0h0m4 0h0m3 0h0m-43 1h0m7 0h0m3 0h0m5 0h0m17 0h0m25 0h0m-50 1h0m8 0h0m12 0h0m74 0h0m-97 1h0m4 0h0m7 0h0m8 0h0m2 0h0m26 0h0m34 0h0m-84 1h0m80 0h0m-61 1h0m1 0h0m8 0h0m5 0h0m-81 1h0m56 0h0m16 0h0m40 0h0m-50 1h0m11 0h0m15 0h0m2 0h0m11 0h0m-48 1h0m12 0h0m3 0h0m1 0h0m4 1h0m6 0h0m-63 1h0m2 0h0m34 0h0m3 0h0m3 0h0m6 0h0m4 0h0m1 0h0m2 0h0m8 0h0m12 0h0m-76 1h0m2 0h0m1 0h0m1 0h0m33 0h0m1 0h0m2 0h0m4 0h0m4 0h0m4 0h0m51 0h0m-64 1h0m5 0h0m43 0h0m-44 1h0m18 0h0m-22 1h0m15 0h0m11 0h0m-18 1h0m8 0h0m1 0h0m2 0h0m34 0h0m-45 1h0m-14 1h0m9 0h0m11 0h0m2 0h0m20 0h0m-43 1h0m1 0h0m1 0h0m4 0h0m5 0h0m1 0h0m-11 1h0m1 0h0m3 0h0m1 0h0m17 0h0m6 0h0m4 0h0m-28 1h0m1 0h0m3 0h0m5 0h0m9 1h0m-16 1h0m6 0h0m4 0h0m4 0h0m1 0h0m-68 1h0m50 0h0m6 0h0m9 0h0m4 0h0m1 0h0m16 0h0m-36 1h0m1 0h0m4 0h0m2 0h0m1 0h0m12 0h0m7 0h0m2 0h0m-78 1h0m54 1h0m17 0h0m11 0h0m-84 1h0m57 0h0m3 0h0m39 0h0m-42 1h0m26 0h0m20 0h0m-45 1h0m13 0h0m17 0h0m-30 1h0m24 0h0m-27 1h0m1 0h0m10 0h0m-66 1h0m61 0h0m30 0h0m87 0h0m-113 2h0m52 0h0m-120 1h0m4 0h0m60 0h0m-1 1h0m1 0h0m1 0h0m3 0h0m-13 1h0m1 0h0m1 0h0m4 0h0m1 0h0m-64 1h0m57 0h0m83 0h0m-145 21h0m11 6h0m-1 3h0m3 0h0m125 0h0m-2 1h0m-127 3h0m13 1h0m3 0h0m3 0h0m108 0h0m7 0h0m-134 1h0m12 0h0m1 0h0m3 0h0m2 0h0m1 0h0m3 0h0m-25 1h0m3 0h0m5 0h0m1 0h0m7 0h0m6 0h0m100 0h0m-120 1h0m6 0h0m1 0h0m1 0h0m10 1h0m103 0h0m-104 1h0m2 0h0m-12 1h0m1 0h0m1 0h0m-2 1h0m5 0h0m7 0h0m-18 1h0m3 0h0m6 0h0m3 0h0m2 0h0m1 0h0m99 0h0m-111 1h0m1 0h0m1 0h0m11 0h0m3 0h0m-17 1h0m11 0h0m-6 1h0m4 0h0m3 0h0m5 0h0m-6 1h0m-8 1h0m4 0h0m-16 1h0m15 0h0m9 1h0m-11 2h0m58 5h0"/>
<path stroke="#ff0000" stroke-width="1" d="M1507 884.5h7m36 6h7m-26 3h8m4 18h8m-23 2h8m-9 3h11m-11 1h11m10 0h9m-33 1h11m15 0h8m-36 3h7m-2 3h13m-8 18h11m-7 1h7"/>
<path stroke="#ff0000" stroke-linecap="square" stroke-width="2" d="M1558 797h0m0 7h0m4 2h0m-20 2h0m6 0h0m32 0h0m29 0h0m-63 2h0m-6 3h0m50 3h0m-11 2h0m-30 4h0m42 0h0m-62 2h0m26 8h0m-24 2h0m-22 2h0m14 1h0m19 0h0m1 1h0m-17 1h0m-18 1h0m56 0h0m-33 1h0m-31 1h0m33 0h0m35 1h0m-32 1h0m-16 1h0m5 1h0m36 0h0m2 0h0m-22 1h0m31 0h0m-59 1h0m28 0h0m3 0h0m13 0h0m-25 1h0m36 0h0m-52 1h0m53 0h0m-25 1h0m-7 1h0m3 0h0m52 0h0m8 1h0m-26 1h0m-65 1h0m2 0h0m60 1h0m-39 1h0m10 0h0m17 0h0m-39 1h0m49 0h0m-44 1h0m9 0h0m20 0h0m2 0h0m-72 1h0m30 0h0m29 0h0m61 0h0m-110 1h0m44 0h0m20 0h0m-50 1h0m30 0h0m13 0h0m-16 1h0m1 0h0m3 0h0m36 0h0m-34 1h0m7 0h0m7 0h0m8 0h0m32 0h0m-47 1h0m44 0h0m-103 2h0m3 0h0m39 0h0m27 0h0m-63 1h0m27 0h0m12 0h0m21 0h0m18 0h0m-40 1h0m45 0h0m6 0h0m4 0h0m-88 2h0m38 0h0m19 0h0m-39 1h0m41 0h0m17 0h0m9 0h0m-74 1h0m28 0h0m15 0h0m16 0h0m3 0h0m-74 1h0m5 0h0m29 0h0m10 0h0m-12 1h0m2 0h0m-12 1h0m12 0h0m17 0h0m10 0h0m-46 1h0m2 0h0m10 0h0m2 0h0m-5 1h0m3 0h0m-28 1h0m10 0h0m8 0h0m45 0h0m1 0h0m-40 1h0m4 0h0m39 0h0m8 0h0m-59 1h0m27 0h0m5 0h0m24 0h0m-52 1h0m9 0h0m43 0h0m1 0h0m-38 1h0m24 0h0m-44 1h0m23 0h0m3 0h0m10 0h0m4 0h0m5 0h0m-50 1h0m1 0h0m2 0h0m6 0h0m14 0h0m46 0h0m-92 1h0m22 0h0m10 0h0m19 0h0m19 0h0m4 0h0m1 0h0m-48 1h0m10 0h0m2 0h0m6 0h0m17 0h0m6 0h0m16 0h0m-79 1h0m14 0h0m10 0h0m15 0h0m8 0h0m9 0h0m5 0h0m3 0h0m-53 1h0m6 0h0m15 0h0m1 0h0m16 0h0m7 0h0m1 0h0m13 0h0m-26 1h0m2 0h0m17 0h0m2 0h0m6 0h0m27 0h0m-92 1h0m15 0h0m16 0h0m2 0h0m13 0h0m2 0h0m4 0h0m3 0h0m3 0h0m2 0h0m-67 1h0m22 0h0m9 0h0m23 0h0m-55 1h0m24 0h0m11 0h0m3 0h0m2 0h0m4 0h0m2 0h0m4 0h0m5 0h0m20 0h0m21 0h0m-85 1h0m17 0h0m20 0h0m11 0h0m23 0h0m-61 1h0m6 0h0m11 0h0m6 0h0m3 0h0m-37 1h0m11 0h0m7 0h0m4 0h0m4 0h0m6 0h0m15 0h0m2 0h0m8 0h0m5 0h0m11 0h0m-39 1h0m5 0h0m5 0h0m5 0h0m22 0h0m-81 1h0m23 0h0m1 0h0m-26 1h0m29 0h0m13 0h0m2 0h0m19 0h0m25 0h0m10 0h0m15 0h0m-92 1h0m21 0h0m12 0h0m1 0h0m6 0h0m26 0h0m3 0h0m-90 1h0m29 0h0m3 0h0m7 0h0m5 0h0m30 0h0m6 0h0m48 0h0m-124 1h0m15 0h0m9 0h0m21 0h0m11 0h0m18 0h0m-75 1h0m17 0h0m19 0h0m14 0h0m8 0h0m-42 1h0m2 0h0m5 0h0m12 0h0m7 0h0m4 0h0m4 0h0m11 0h0m2 0h0m4 0h0m-63 1h0m7 0h0m7 0h0m3 0h0m12 0h0m9 0h0m27 0h0m29 0h0m-79 1h0m13 0h0m3 0h0m26 0h0m-60 1h0m8 0h0m23 0h0m5 0h0m1 0h0m3 0h0m8 0h0m4 0h0m2 0h0m4 0h0m5 0h0m10 0h0m10 0h0m6 0h0m3 0h0m-88 1h0m7 0h0m1 0h0m30 0h0m1 0h0m10 0h0m1 0h0m4 0h0m21 0h0m7 0h0m9 0h0m-98 1h0m46 0h0m3 0h0m4 0h0m4 0h0m9 0h0m-47 1h0m8 0h0m6 0h0m4 0h0m2 0h0m5 0h0m9 0h0m5 0h0m3 0h0m-53 1h0m20 0h0m10 0h0m8 0h0m1 0h0m11 0h0m1 0h0m10 0h0m2 0h0m-48 1h0m2 0h0m7 0h0m1 0h0m3 0h0m9 0h0m7 0h0m5 0h0m4 0h0m1 0h0m1 0h0m4 0h0m-67 1h0m18 0h0m1 0h0m4 0h0m1 0h0m6 0h0m2 0h0m10 0h0m3 0h0m2 0h0m22 0h0m4 0h0m-75 1h0m28 0h0m7 0h0m10 0h0m1 0h0m4 0h0m7 0h0m20 0h0m2 0h0m-69 1h0m9 0h0m2 0h0m4 0h0m16 0h0m10 0h0m1 0h0m4 0h0m11 0h0m3 0h0m6 0h0m25 0h0m-81 1h0m25 0h0m1 0h0m3 0h0m7 0h0m1 0h0m2 0h0m5 0h0m6 0h0m22 0h0m10 0h0m-80 1h0m8 0h0m1 0h0m1 0h0m1 0h0m6 0h0m1 0h0m24 0h0m11 0h0m6 0h0m-74 1h0m2 0h0m9 0h0m13 0h0m2 0h0m26 0h0m-53 1h0m8 0h0m21 0h0m5 0h0m2 0h0m2 0h0m3 0h0m2 0h0m14 0h0m9 0h0m19 0h0m-78 1h0m24 0h0m5 0h0m11 0h0m20 0h0m-52 1h0m10 0h0m7 0h0m3 0h0m2 0h0m11 0h0m6 0h0m24 0h0m11 0h0m-93 1h0m3 0h0m3 0h0m26 0h0m6 0h0m11 0h0m3 0h0m22 0h0m5 0h0m-56 1h0m8 0h0m13 0h0m16 0h0m1 0h0m6 0h0m22 0h0m16 0h0m3 0h0m-86 1h0m6 0h0m6 0h0m9 0h0m1 0h0m4 0h0m2 0h0m2 0h0m3 0h0m36 0h0m9 0h0m-91 1h0m7 0h0m18 0h0m7 0h0m3 0h0m2 0h0m14 0h0m12 0h0m6 0h0m13 0h0m7 0h0m-86 1h0m17 0h0m15 0h0m5 0h0m2 0h0m1 0h0m7 0h0m1 0h0m32 0h0m-91 1h0m2 0h0m16 0h0m2 0h0m4 0h0m12 0h0m3 0h0m1 0h0m1 0h0m1 0h0m17 0h0m15 0h0m-58 1h0m20 0h0m34 0h0m7 0h0m-62 1h0m3 0h0m12 0h0m7 0h0m10 0h0m1 0h0m2 0h0m5 0h0m5 0h0m11 0h0m16 0h0m-68 1h0m3 0h0m11 0h0m3 0h0m14 0h0m4 0h0m3 0h0m5 0h0m1 0h0m6 0h0m1 0h0m8 0h0m8 0h0m-59 1h0m3 0h0m3 0h0m8 0h0m15 0h0m1 0h0m8 0h0m-53 1h0m15 0h0m6 0h0m6 0h0m4 0h0m7 0h0m6 0h0m6 0h0m4 0h0m48 0h0m-112 1h0m3 0h0m18 0h0m8 0h0m8 0h0m10 0h0m5 0h0m1 0h0m1 0h0m1 0h0m4 0h0m7 0h0m7 0h0m-77 1h0m27 0h0m12 0h0m16 0h0m4 0h0m15 0h0m1 0h0m-74 1h0m1 0h0m14 0h0m7 0h0m12 0h0m10 0h0m18 0h0m11 0h0m-65 1h0m11 0h0m14 0h0m12 0h0m5 0h0m-18 1h0m3 0h0m38 0h0m-43 1h0m20 0h0m7 0h0m15 0h0m2 0h0m-63 1h0m16 0h0m1 0h0m3 0h0m5 0h0m14 0h0m1 0h0m28 0h0m-69 1h0m15 0h0m7 0h0m14 0h0m1 0h0m4 0h0m13 0h0m7 0h0m7 0h0m5 0h0m-63 1h0m3 0h0m2 0h0m15 0h0m1 0h0m2 0h0m9 0h0m7 0h0m3 0h0m4 0h0m8 0h0m7 0h0m12 0h0m-86 1h0m4 0h0m23 0h0m1 0h0m5 0h0m6 0h0m1 0h0m1 0h0m7 0h0m4 0h0m-20 1h0m23 0h0m2 0h0m31 0h0m-92 1h0m1 0h0m6 0h0m15 0h0m11 0h0m25 0h0m-60 1h0m1 0h0m26 0h0m11 0h0m1 0h0m25 0h0m8 0h0m7 0h0m8 0h0m-71 1h0m2 0h0m22 0h0m8 0h0m5 0h0m-6 1h0m3 0h0m5 0h0m8 0h0m7 0h0m-72 1h0m17 0h0m1 0h0m57 0h0m4 0h0m-69 1h0m16 0h0m10 0h0m14 0h0m1 0h0m5 0h0m24 0h0m-56 1h0m25 0h0m1 0h0m9 0h0m2 0h0m-52 1h0m15 0h0m10 0h0m2 0h0m5 0h0m-26 1h0m6 0h0m4 0h0m5 0h0m9 0h0m6 0h0m1 0h0m15 0h0m35 0h0m-90 1h0m9 0h0m2 0h0m52 0h0m12 0h0m5 0h0m19 0h0m-76 1h0m14 0h0m-39 1h0m10 0h0m28 0h0m4 0h0m28 0h0m10 0h0m-45 1h0m2 0h0m4 0h0m32 0h0m31 0h0m-96 1h0m16 0h0m36 0h0m10 0h0m-66 1h0m13 0h0m6 0h0m1 0h0m-5 1h0m14 0h0m6 0h0m5 0h0m16 0h0m-64 1h0m5 0h0m52 0h0m9 0h0m-35 1h0m56 0h0m-58 1h0m34 0h0m11 0h0m5 0h0m-74 1h0m11 0h0m49 0h0m-59 1h0m2 0h0m3 0h0m3 0h0m2 0h0m3 0h0m4 0h0m31 0h0m13 0h0m-36 1h0m10 0h0m37 0h0m-59 1h0m30 0h0m-47 1h0m6 0h0m5 1h0m3 0h0m6 0h0m19 0h0m-22 1h0m2 0h0m9 0h0m11 0h0m-12 1h0m13 0h0m-8 2h0m32 0h0m15 1h0m-41 1h0m9 2h0m22 3h0"/>
<path stroke="#0000ff" stroke-width="1" d="M1460 1032.5h10m-10 1h10m-13 1h13m-16 1h14m-16 1h13m-15 1h16m-17 1h17m-19 1h22m-24 1h22m-25 1h25m-26 1h28m33 0h7m-69 1h32m-34 1h34m-36 1h34m-37 1h26m39 0h8m-74 1h37m-37 1h32m35 0h9m-79 1h36m18 0h7m7 0h9m6 0h8m-91 1h36m29 0h12m4 0h8m1 0h7m-97 1h43m7 0h7m5 0h30m-92 1h44m6 0h50m-101 1h48m6 0h44m1 0h10m-109 1h50m1 0h12m1 0h28m-91 1h40m1 0h55m-96 1h37m10 0h9m1 0h37m4 0h7m-105 1h36m12 0h49m-97 1h42m12 0h44m-97 1h38m8 0h59m-105 1h37m9 0h52m-98 1h37m4 0h60m-101 1h34m5 0h55m-94 1h29m10 0h9m1 0h41m-90 1h13m26 0h8m1 0h41m-87 1h7m30 0h57m-53 1h37m1 0h12m-65 1h7m14 0h27m1 0h15m-92 1h8m18 0h16m1 0h23m2 0h19m-56 1h9m1 0h19m5 0h16m-31 1h7m8 0h12"/>
<path stroke="#0000ff" stroke-linecap="square" stroke-width="2" d="M1502 1029h0m16 1h0m-45 1h0m-9 1h0m8 0h0m8 0h0m4 0h0m40 0h0m-49 1h0m24 0h0m1 0h0m-8 1h0m13 0h0m-14 1h0m-20 1h0m5 0h0m2 0h0m18 0h0m13 0h0m-27 1h0m16 0h0m-26 1h0m20 0h0m-24 1h0m7 0h0m17 0h0m3 0h0m14 0h0m20 0h0m-57 1h0m4 0h0m2 0h0m10 0h0m25 0h0m-40 1h0m11 0h0m1 0h0m3 0h0m40 0h0m-55 1h0m1 0h0m12 0h0m17 0h0m5 0h0m21 0h0m6 0h0m-57 1h0m1 0h0m4 0h0m3 0h0m6 0h0m8 0h0m4 0h0m2 0h0m-17 1h0m14 0h0m10 0h0m3 0h0m13 0h0m-46 1h0m13 0h0m4 0h0m2 0h0m5 0h0m15 0h0m1 0h0m16 0h0m-78 1h0m3 0h0m5 0h0m4 0h0m1 0h0m7 0h0m15 0h0m3 0h0m2 0h0m2 0h0m10 0h0m7 0h0m1 0h0m-60 1h0m1 0h0m1 0h0m1 0h0m4 0h0m4 0h0m1 0h0m9 0h0m1 0h0m9 0h0m8 0h0m5 0h0m10 0h0m1 0h0m4 0h0m7 0h0m-61 1h0m2 0h0m4 0h0m13 0h0m5 0h0m1 0h0m10 0h0m5 0h0m1 0h0m3 0h0m3 0h0m13 0h0m11 0h0m-107 1h0m50 0h0m4 0h0m4 0h0m1 0h0m3 0h0m21 0h0m1 0h0m5 0h0m6 0h0m4 0h0m3 0h0m-64 1h0m1 0h0m1 0h0m10 0h0m5 0h0m1 0h0m1 0h0m2 0h0m6 0h0m13 0h0m14 0h0m-55 1h0m2 0h0m2 0h0m11 0h0m7 0h0m3 0h0m16 0h0m16 0h0m1 0h0m8 0h0m-44 1h0m34 0h0m2 0h0m2 0h0m4 0h0m-56 1h0m59 0h0m-12 1h0m8 0h0m2 0h0m4 0h0m-14 1h0m2 0h0m3 0h0m10 0h0m-69 1h0m3 0h0m2 0h0m1 0h0m54 0h0m5 0h0m-65 1h0m5 0h0m1 0h0m51 0h0m4 0h0m2 0h0m-62 1h0m1 0h0m5 0h0m4 0h0m1 0h0m1 0h0m52 0h0m5 0h0m-59 1h0m1 0h0m49 0h0m1 0h0m0 1h0m2 0h0m2 0h0m-62 1h0m1 0h0m57 0h0m3 0h0m-6 1h0m1 0h0m-65 1h0m3 0h0m1 0h0m56 0h0m8 0h0m-77 1h0m2 0h0m5 0h0m5 0h0m64 0h0m-83 1h0m2 0h0m16 0h0m2 0h0m55 0h0m1 0h0m7 0h0m-97 1h0m2 0h0m7 0h0m5 0h0m3 0h0m4 0h0m10 0h0m6 0h0m55 0h0m4 0h0m-95 1h0m2 0h0m3 0h0m4 0h0m18 0h0m3 0h0m7 0h0m5 0h0m-45 1h0m18 0h0m2 0h0m18 0h0m2 0h0m3 0h0m3 0h0m48 0h0m2 0h0m-94 1h0m2 0h0m2 0h0m3 0h0m17 0h0m36 0h0m22 0h0m1 0h0m-74 1h0m20 0h0m10 0h0m2 0h0m4 0h0m11 0h0m27 0h0m7 0h0m-89 1h0m36 0h0m11 0h0m5 0h0m4 0h0m3 0h0m6 0h0m6 0h0m-29 1h0m2 0h0m10 0h0m11 0h0m4 0h0m1 0h0m1 0h0m2 0h0m3 0h0m-47 1h0m5 0h0m16 0h0m7 0h0m12 0h0m2 0h0m-52 1h0m8 0h0m1 0h0m21 0h0m2 0h0m1 0h0m7 0h0m-23 1h0m4 0h0m-14 1h0m3 0h0m6 0h0m6 0h0m2 0h0m12 0h0m5 0h0m6 0h0m1 0h0m-57 1h0m6 0h0m2 0h0m1 0h0m11 0h0"/>
</g>
<g fill="none" stroke="#000">
<polygon points="1482.1,858.2 1549.3,782.3 1613.5,781.3 1625.9,855.1 1601.6,958.9 1556.5,979.7 1486.1,967.4" stroke-width="1.5"/>
<polygon points="1428.9,1049.9 1433.1,1083.2 1509.1,1083.2 1514.6,1078.3 1542,1057.6 1545.9,1043.6 1548.9,1036.9 1542.8,1039.1 1523,1030.2 1498.5,1026.4 1475.4,1030.2 1462.4,1032.2" stroke-width="3" stroke-linejoin="round"/>
<rect x="1377.5" y="876.3" width="4.6" height="70.2" stroke="#999" stroke-width="1.2"/>
</g>
<rect x="1363.3" y="632.8" width="525" height="457.5" fill="none" stroke="#000" stroke-width="2"/>
<path d="M1363.3 1072.9h-8M1381.8 1090.3v9.8M1363.3 1055.5h-8M1401.8 1090.3v9.8M1363.3 1038.1h-8M1421.9 1090.3v9.8M1363.3 1020.7h-8M1441.9 1090.3v9.8M1363.3 1003.2h-14.5M1462 1090.3v16.5M1363.3 985.8h-8M1482.1 1090.3v9.8M1363.3 968.4h-8M1502.1 1090.3v9.8M1363.3 951h-8M1522.2 1090.3v9.8M1363.3 933.6h-8M1542.2 1090.3v9.8M1363.3 916.2h-14.5M1562.3 1090.3v16.5M1363.3 898.8h-8M1582.4 1090.3v9.8M1363.3 881.4h-8M1602.4 1090.3v9.8M1363.3 864h-8M1622.5 1090.3v9.8M1363.3 846.6h-8M1642.5 1090.3v9.8M1363.3 829.1h-14.5M1662.6 1090.3v16.5M1363.3 811.7h-8M1682.7 1090.3v9.8M1363.3 794.3h-8M1702.7 1090.3v9.8M1363.3 776.9h-8M1722.8 1090.3v9.8M1363.3 759.5h-8M1742.8 1090.3v9.8M1363.3 742.1h-14.5M1762.9 1090.3v16.5M1363.3 724.7h-8M1783 1090.3v9.8M1363.3 707.3h-8M1803 1090.3v9.8M1363.3 689.9h-8M1823.1 1090.3v9.8M1363.3 672.5h-8M1843.1 1090.3v9.8M1363.3 655h-14.5M1863.2 1090.3v16.5M1363.3 637.6h-8M1883.3 1090.3v9.8" stroke="#000" stroke-width="1.6" fill="none"/>
<g font-family="Liberation Sans, Arial, sans-serif" font-size="16.5" fill="#000" stroke="#000" stroke-width="0.35">
<text x="1460.5" y="1122.8" text-anchor="middle" textLength="15.5" lengthAdjust="spacingAndGlyphs">50</text>
<text transform="translate(1349 1002.8) rotate(-90)" x="0" y="0" text-anchor="middle" textLength="15.5" lengthAdjust="spacingAndGlyphs">50</text>
<text x="1560.8" y="1122.8" text-anchor="middle" textLength="23.2" lengthAdjust="spacingAndGlyphs">100</text>
<text transform="translate(1349 915.7) rotate(-90)" x="0" y="0" text-anchor="middle" textLength="23.2" lengthAdjust="spacingAndGlyphs">100</text>
<text x="1661.1" y="1122.8" text-anchor="middle" textLength="23.2" lengthAdjust="spacingAndGlyphs">150</text>
<text transform="translate(1349 828.6) rotate(-90)" x="0" y="0" text-anchor="middle" textLength="23.2" lengthAdjust="spacingAndGlyphs">150</text>
<text x="1761.4" y="1122.8" text-anchor="middle" textLength="23.2" lengthAdjust="spacingAndGlyphs">200</text>
<text transform="translate(1349 741.6) rotate(-90)" x="0" y="0" text-anchor="middle" textLength="23.2" lengthAdjust="spacingAndGlyphs">200</text>
<text x="1861.7" y="1122.8" text-anchor="middle" textLength="23.2" lengthAdjust="spacingAndGlyphs">250</text>
<text transform="translate(1349 654.5) rotate(-90)" x="0" y="0" text-anchor="middle" textLength="23.2" lengthAdjust="spacingAndGlyphs">250</text>
</g>
<g font-family="Liberation Sans, Arial, sans-serif" fill="#000">
<text x="1625.7" y="1140" font-size="21.5" text-anchor="middle" textLength="57.7" lengthAdjust="spacingAndGlyphs">FSC-A</text>
<text transform="translate(1329.1 854.7) rotate(-90)" font-size="21.5" text-anchor="middle" textLength="59.8" lengthAdjust="spacingAndGlyphs">SSC-A</text>
<text x="1825.3" y="1146.3" font-size="17" textLength="60.2" lengthAdjust="spacingAndGlyphs">(x 1,000)</text>
<text transform="translate(1327.3 694.4) rotate(-90)" font-size="17" textLength="59.4" lengthAdjust="spacingAndGlyphs">(x 1,000)</text>
</g>
<g font-family="Liberation Sans, Arial, sans-serif" font-size="17" fill="#000">
<text x="1539.2" y="889.2">P1</text>
<text x="1476.6" y="1064.4">P3</text>
<text x="1374.1" y="910.1">P4</text>
</g>
<g font-family="Liberation Serif, Times New Roman, serif" font-size="32.9" fill="#000">
<text x="1652" y="786.4">Neutrophils</text>
<text x="1653.1" y="829.2">(1.2%)</text>
<text x="1642.6" y="1017.2">Monocytes</text>
<text x="1571.5" y="1073.9">Lymphocytes (8.7%)</text>
</g>
<text x="1287.4" y="622.7" font-family="Liberation Sans, Arial, sans-serif" font-size="49.6" textLength="32.3" lengthAdjust="spacingAndGlyphs" fill="#000">F.</text>
</g>
</svg></body></html>
